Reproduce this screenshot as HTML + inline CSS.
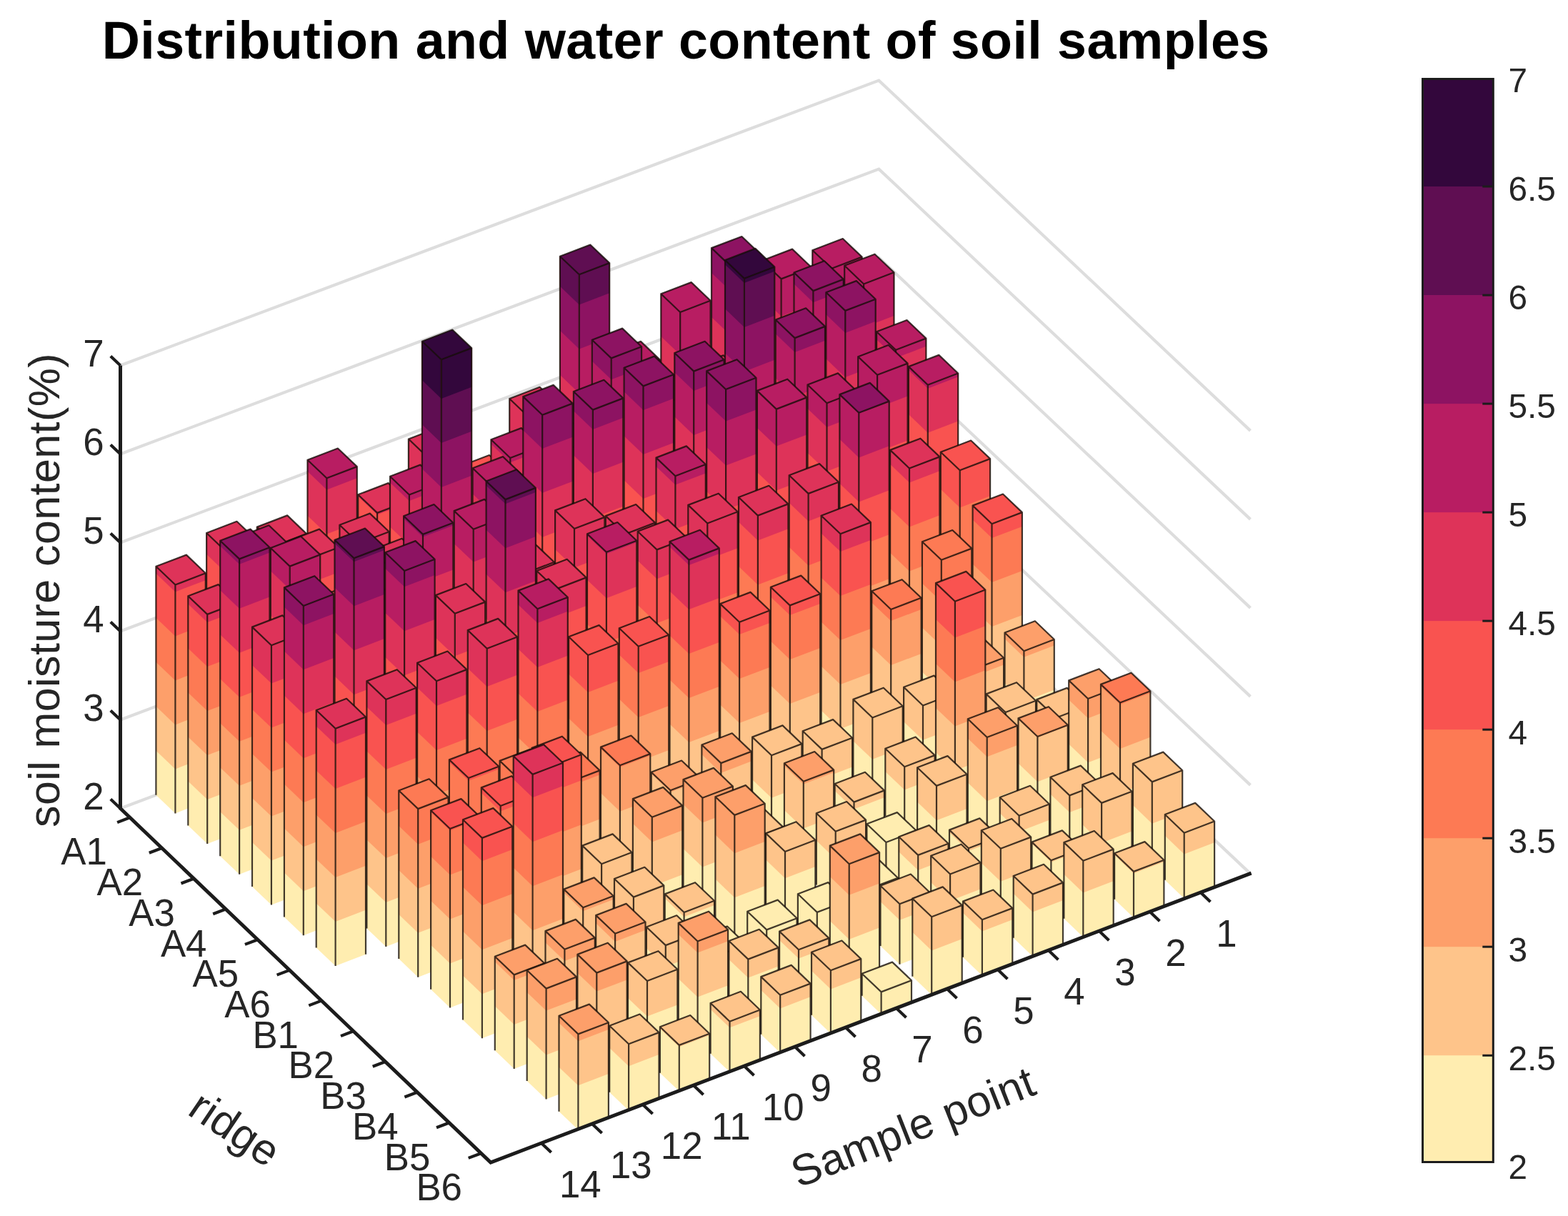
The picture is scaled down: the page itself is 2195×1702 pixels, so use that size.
<!DOCTYPE html>
<html lang="en"><head><meta charset="utf-8"><title>Distribution and water content of soil samples</title>
<style>html,body{margin:0;padding:0;background:#fff}body{width:2195px;height:1702px;overflow:hidden}svg{display:block}text{font-family:"Liberation Sans",sans-serif;fill:#262626}.t{font-size:52.8px}.c{font-size:47.8px}.l{font-size:60.9px;letter-spacing:0.45px}.b{stroke:rgba(20,12,8,0.8);stroke-width:2.2;stroke-linejoin:round;stroke-linecap:butt;fill:none}.g{stroke:#dddddd;stroke-width:4.2;fill:none;stroke-linejoin:miter}.a{stroke:#1c1c1c;stroke-width:5;fill:none;stroke-linecap:butt;stroke-linejoin:miter}.k{stroke:#1c1c1c;stroke-width:4.2;fill:none}</style></head><body>
<svg width="2195" height="1702" viewBox="0 0 2195 1702">
<rect width="2195" height="1702" fill="#fff"/>
<g class="g">
<polyline points="168.5,1131.5 1230.3,732.6 1750.4,1222.9"/>
<polyline points="168.5,1007.5 1230.3,608.6 1750.4,1098.9"/>
<polyline points="168.5,883.5 1230.3,484.6 1750.4,974.9"/>
<polyline points="168.5,759.5 1230.3,360.6 1750.4,850.9"/>
<polyline points="168.5,635.5 1230.3,236.6 1750.4,726.9"/>
<polyline points="168.5,511.5 1230.3,112.6 1750.4,602.9"/>
</g>
<g>
<polygon points="1137.3,761.9 1164.3,787.5 1164.3,375.8 1137.3,350.2" fill="#FFEDB0"/><polygon points="1137.3,699.9 1164.3,725.5 1164.3,375.8 1137.3,350.2" fill="#FEC48A"/><polygon points="1137.3,637.9 1164.3,663.5 1164.3,375.8 1137.3,350.2" fill="#FD9F6A"/><polygon points="1137.3,575.9 1164.3,601.5 1164.3,375.8 1137.3,350.2" fill="#FD7A54"/><polygon points="1137.3,513.9 1164.3,539.5 1164.3,375.8 1137.3,350.2" fill="#F95350"/><polygon points="1137.3,451.9 1164.3,477.5 1164.3,375.8 1137.3,350.2" fill="#DE3359"/><polygon points="1137.3,389.9 1164.3,415.5 1164.3,375.8 1137.3,350.2" fill="#B81D62"/><polygon points="1164.3,787.5 1206.7,771.3 1206.7,359.6 1164.3,375.8" fill="#FFEDB0"/><polygon points="1164.3,725.5 1206.7,709.3 1206.7,359.6 1164.3,375.8" fill="#FEC48A"/><polygon points="1164.3,663.5 1206.7,647.3 1206.7,359.6 1164.3,375.8" fill="#FD9F6A"/><polygon points="1164.3,601.5 1206.7,585.3 1206.7,359.6 1164.3,375.8" fill="#FD7A54"/><polygon points="1164.3,539.5 1206.7,523.3 1206.7,359.6 1164.3,375.8" fill="#F95350"/><polygon points="1164.3,477.5 1206.7,461.3 1206.7,359.6 1164.3,375.8" fill="#DE3359"/><polygon points="1164.3,415.5 1206.7,399.3 1206.7,359.6 1164.3,375.8" fill="#B81D62"/><polygon points="1137.3,350.2 1164.3,375.8 1206.7,359.6 1179.8,334.0" fill="#B81D62"/><path class="b" d="M1137.3,350.2 L1164.3,375.8 L1206.7,359.6 L1179.8,334.0 Z M1137.3,350.2 L1137.3,761.9 M1164.3,375.8 L1164.3,787.5 M1206.7,359.6 L1206.7,771.3"/>
<polygon points="1066.7,788.9 1093.6,814.5 1093.6,390.4 1066.7,364.8" fill="#FFEDB0"/><polygon points="1066.7,726.9 1093.6,752.5 1093.6,390.4 1066.7,364.8" fill="#FEC48A"/><polygon points="1066.7,664.9 1093.6,690.5 1093.6,390.4 1066.7,364.8" fill="#FD9F6A"/><polygon points="1066.7,602.9 1093.6,628.5 1093.6,390.4 1066.7,364.8" fill="#FD7A54"/><polygon points="1066.7,540.9 1093.6,566.5 1093.6,390.4 1066.7,364.8" fill="#F95350"/><polygon points="1066.7,478.9 1093.6,504.5 1093.6,390.4 1066.7,364.8" fill="#DE3359"/><polygon points="1066.7,416.9 1093.6,442.5 1093.6,390.4 1066.7,364.8" fill="#B81D62"/><polygon points="1093.6,814.5 1136.0,798.3 1136.0,374.2 1093.6,390.4" fill="#FFEDB0"/><polygon points="1093.6,752.5 1136.0,736.3 1136.0,374.2 1093.6,390.4" fill="#FEC48A"/><polygon points="1093.6,690.5 1136.0,674.3 1136.0,374.2 1093.6,390.4" fill="#FD9F6A"/><polygon points="1093.6,628.5 1136.0,612.3 1136.0,374.2 1093.6,390.4" fill="#FD7A54"/><polygon points="1093.6,566.5 1136.0,550.3 1136.0,374.2 1093.6,390.4" fill="#F95350"/><polygon points="1093.6,504.5 1136.0,488.3 1136.0,374.2 1093.6,390.4" fill="#DE3359"/><polygon points="1093.6,442.5 1136.0,426.3 1136.0,374.2 1093.6,390.4" fill="#B81D62"/><polygon points="1066.7,364.8 1093.6,390.4 1136.0,374.2 1109.1,348.6" fill="#B81D62"/><path class="b" d="M1066.7,364.8 L1093.6,390.4 L1136.0,374.2 L1109.1,348.6 Z M1066.7,364.8 L1066.7,788.9 M1093.6,390.4 L1093.6,814.5 M1136.0,374.2 L1136.0,798.3"/>
<polygon points="996.0,815.9 1022.9,841.5 1022.9,372.8 996.0,347.1" fill="#FFEDB0"/><polygon points="996.0,753.9 1022.9,779.5 1022.9,372.8 996.0,347.1" fill="#FEC48A"/><polygon points="996.0,691.9 1022.9,717.5 1022.9,372.8 996.0,347.1" fill="#FD9F6A"/><polygon points="996.0,629.9 1022.9,655.5 1022.9,372.8 996.0,347.1" fill="#FD7A54"/><polygon points="996.0,567.9 1022.9,593.5 1022.9,372.8 996.0,347.1" fill="#F95350"/><polygon points="996.0,505.9 1022.9,531.5 1022.9,372.8 996.0,347.1" fill="#DE3359"/><polygon points="996.0,443.9 1022.9,469.5 1022.9,372.8 996.0,347.1" fill="#B81D62"/><polygon points="996.0,381.9 1022.9,407.5 1022.9,372.8 996.0,347.1" fill="#8D1362"/><polygon points="1022.9,841.5 1065.3,825.3 1065.3,356.6 1022.9,372.8" fill="#FFEDB0"/><polygon points="1022.9,779.5 1065.3,763.3 1065.3,356.6 1022.9,372.8" fill="#FEC48A"/><polygon points="1022.9,717.5 1065.3,701.3 1065.3,356.6 1022.9,372.8" fill="#FD9F6A"/><polygon points="1022.9,655.5 1065.3,639.3 1065.3,356.6 1022.9,372.8" fill="#FD7A54"/><polygon points="1022.9,593.5 1065.3,577.3 1065.3,356.6 1022.9,372.8" fill="#F95350"/><polygon points="1022.9,531.5 1065.3,515.3 1065.3,356.6 1022.9,372.8" fill="#DE3359"/><polygon points="1022.9,469.5 1065.3,453.3 1065.3,356.6 1022.9,372.8" fill="#B81D62"/><polygon points="1022.9,407.5 1065.3,391.3 1065.3,356.6 1022.9,372.8" fill="#8D1362"/><polygon points="996.0,347.1 1022.9,372.8 1065.3,356.6 1038.4,331.0" fill="#8D1362"/><path class="b" d="M996.0,347.1 L1022.9,372.8 L1065.3,356.6 L1038.4,331.0 Z M996.0,347.1 L996.0,815.9 M1022.9,372.8 L1022.9,841.5 M1065.3,356.6 L1065.3,825.3"/>
<polygon points="925.3,842.9 952.2,868.5 952.2,437.0 925.3,411.3" fill="#FFEDB0"/><polygon points="925.3,780.9 952.2,806.5 952.2,437.0 925.3,411.3" fill="#FEC48A"/><polygon points="925.3,718.9 952.2,744.5 952.2,437.0 925.3,411.3" fill="#FD9F6A"/><polygon points="925.3,656.9 952.2,682.5 952.2,437.0 925.3,411.3" fill="#FD7A54"/><polygon points="925.3,594.9 952.2,620.5 952.2,437.0 925.3,411.3" fill="#F95350"/><polygon points="925.3,532.9 952.2,558.5 952.2,437.0 925.3,411.3" fill="#DE3359"/><polygon points="925.3,470.9 952.2,496.5 952.2,437.0 925.3,411.3" fill="#B81D62"/><polygon points="952.2,868.5 994.6,852.3 994.6,420.8 952.2,437.0" fill="#FFEDB0"/><polygon points="952.2,806.5 994.6,790.3 994.6,420.8 952.2,437.0" fill="#FEC48A"/><polygon points="952.2,744.5 994.6,728.3 994.6,420.8 952.2,437.0" fill="#FD9F6A"/><polygon points="952.2,682.5 994.6,666.3 994.6,420.8 952.2,437.0" fill="#FD7A54"/><polygon points="952.2,620.5 994.6,604.3 994.6,420.8 952.2,437.0" fill="#F95350"/><polygon points="952.2,558.5 994.6,542.3 994.6,420.8 952.2,437.0" fill="#DE3359"/><polygon points="952.2,496.5 994.6,480.3 994.6,420.8 952.2,437.0" fill="#B81D62"/><polygon points="925.3,411.3 952.2,437.0 994.6,420.8 967.7,395.1" fill="#B81D62"/><path class="b" d="M925.3,411.3 L952.2,437.0 L994.6,420.8 L967.7,395.1 Z M925.3,411.3 L925.3,842.9 M952.2,437.0 L952.2,868.5 M994.6,420.8 L994.6,852.3"/>
<polygon points="854.6,869.8 881.5,895.5 881.5,519.8 854.6,494.1" fill="#FFEDB0"/><polygon points="854.6,807.8 881.5,833.5 881.5,519.8 854.6,494.1" fill="#FEC48A"/><polygon points="854.6,745.8 881.5,771.5 881.5,519.8 854.6,494.1" fill="#FD9F6A"/><polygon points="854.6,683.8 881.5,709.5 881.5,519.8 854.6,494.1" fill="#FD7A54"/><polygon points="854.6,621.8 881.5,647.5 881.5,519.8 854.6,494.1" fill="#F95350"/><polygon points="854.6,559.8 881.5,585.5 881.5,519.8 854.6,494.1" fill="#DE3359"/><polygon points="854.6,497.8 881.5,523.5 881.5,519.8 854.6,494.1" fill="#B81D62"/><polygon points="881.5,895.5 923.9,879.3 923.9,503.6 881.5,519.8" fill="#FFEDB0"/><polygon points="881.5,833.5 923.9,817.3 923.9,503.6 881.5,519.8" fill="#FEC48A"/><polygon points="881.5,771.5 923.9,755.3 923.9,503.6 881.5,519.8" fill="#FD9F6A"/><polygon points="881.5,709.5 923.9,693.3 923.9,503.6 881.5,519.8" fill="#FD7A54"/><polygon points="881.5,647.5 923.9,631.3 923.9,503.6 881.5,519.8" fill="#F95350"/><polygon points="881.5,585.5 923.9,569.3 923.9,503.6 881.5,519.8" fill="#DE3359"/><polygon points="881.5,523.5 923.9,507.3 923.9,503.6 881.5,519.8" fill="#B81D62"/><polygon points="854.6,494.1 881.5,519.8 923.9,503.6 897.0,477.9" fill="#B81D62"/><path class="b" d="M854.6,494.1 L881.5,519.8 L923.9,503.6 L897.0,477.9 Z M854.6,494.1 L854.6,869.8 M881.5,519.8 L881.5,895.5 M923.9,503.6 L923.9,879.3"/>
<polygon points="783.9,896.8 810.8,922.5 810.8,384.3 783.9,358.7" fill="#FFEDB0"/><polygon points="783.9,834.8 810.8,860.5 810.8,384.3 783.9,358.7" fill="#FEC48A"/><polygon points="783.9,772.8 810.8,798.5 810.8,384.3 783.9,358.7" fill="#FD9F6A"/><polygon points="783.9,710.8 810.8,736.5 810.8,384.3 783.9,358.7" fill="#FD7A54"/><polygon points="783.9,648.8 810.8,674.5 810.8,384.3 783.9,358.7" fill="#F95350"/><polygon points="783.9,586.8 810.8,612.5 810.8,384.3 783.9,358.7" fill="#DE3359"/><polygon points="783.9,524.8 810.8,550.5 810.8,384.3 783.9,358.7" fill="#B81D62"/><polygon points="783.9,462.8 810.8,488.5 810.8,384.3 783.9,358.7" fill="#8D1362"/><polygon points="783.9,400.8 810.8,426.5 810.8,384.3 783.9,358.7" fill="#5F0E52"/><polygon points="810.8,922.5 853.2,906.3 853.2,368.1 810.8,384.3" fill="#FFEDB0"/><polygon points="810.8,860.5 853.2,844.3 853.2,368.1 810.8,384.3" fill="#FEC48A"/><polygon points="810.8,798.5 853.2,782.3 853.2,368.1 810.8,384.3" fill="#FD9F6A"/><polygon points="810.8,736.5 853.2,720.3 853.2,368.1 810.8,384.3" fill="#FD7A54"/><polygon points="810.8,674.5 853.2,658.3 853.2,368.1 810.8,384.3" fill="#F95350"/><polygon points="810.8,612.5 853.2,596.3 853.2,368.1 810.8,384.3" fill="#DE3359"/><polygon points="810.8,550.5 853.2,534.3 853.2,368.1 810.8,384.3" fill="#B81D62"/><polygon points="810.8,488.5 853.2,472.3 853.2,368.1 810.8,384.3" fill="#8D1362"/><polygon points="810.8,426.5 853.2,410.3 853.2,368.1 810.8,384.3" fill="#5F0E52"/><polygon points="783.9,358.7 810.8,384.3 853.2,368.1 826.3,342.5" fill="#5F0E52"/><path class="b" d="M783.9,358.7 L810.8,384.3 L853.2,368.1 L826.3,342.5 Z M783.9,358.7 L783.9,896.8 M810.8,384.3 L810.8,922.5 M853.2,368.1 L853.2,906.3"/>
<polygon points="713.2,923.8 740.1,949.5 740.1,583.7 713.2,558.0" fill="#FFEDB0"/><polygon points="713.2,861.8 740.1,887.5 740.1,583.7 713.2,558.0" fill="#FEC48A"/><polygon points="713.2,799.8 740.1,825.5 740.1,583.7 713.2,558.0" fill="#FD9F6A"/><polygon points="713.2,737.8 740.1,763.5 740.1,583.7 713.2,558.0" fill="#FD7A54"/><polygon points="713.2,675.8 740.1,701.5 740.1,583.7 713.2,558.0" fill="#F95350"/><polygon points="713.2,613.8 740.1,639.5 740.1,583.7 713.2,558.0" fill="#DE3359"/><polygon points="740.1,949.5 782.6,933.3 782.6,567.5 740.1,583.7" fill="#FFEDB0"/><polygon points="740.1,887.5 782.6,871.3 782.6,567.5 740.1,583.7" fill="#FEC48A"/><polygon points="740.1,825.5 782.6,809.3 782.6,567.5 740.1,583.7" fill="#FD9F6A"/><polygon points="740.1,763.5 782.6,747.3 782.6,567.5 740.1,583.7" fill="#FD7A54"/><polygon points="740.1,701.5 782.6,685.3 782.6,567.5 740.1,583.7" fill="#F95350"/><polygon points="740.1,639.5 782.6,623.3 782.6,567.5 740.1,583.7" fill="#DE3359"/><polygon points="713.2,558.0 740.1,583.7 782.6,567.5 755.6,541.8" fill="#DE3359"/><path class="b" d="M713.2,558.0 L740.1,583.7 L782.6,567.5 L755.6,541.8 Z M713.2,558.0 L713.2,923.8 M740.1,583.7 L740.1,949.5 M782.6,567.5 L782.6,933.3"/>
<polygon points="642.6,950.8 669.5,976.4 669.5,678.8 642.6,653.2" fill="#FFEDB0"/><polygon points="642.6,888.8 669.5,914.4 669.5,678.8 642.6,653.2" fill="#FEC48A"/><polygon points="642.6,826.8 669.5,852.4 669.5,678.8 642.6,653.2" fill="#FD9F6A"/><polygon points="642.6,764.8 669.5,790.4 669.5,678.8 642.6,653.2" fill="#FD7A54"/><polygon points="642.6,702.8 669.5,728.4 669.5,678.8 642.6,653.2" fill="#F95350"/><polygon points="669.5,976.4 711.9,960.3 711.9,662.7 669.5,678.8" fill="#FFEDB0"/><polygon points="669.5,914.4 711.9,898.3 711.9,662.7 669.5,678.8" fill="#FEC48A"/><polygon points="669.5,852.4 711.9,836.3 711.9,662.7 669.5,678.8" fill="#FD9F6A"/><polygon points="669.5,790.4 711.9,774.3 711.9,662.7 669.5,678.8" fill="#FD7A54"/><polygon points="669.5,728.4 711.9,712.3 711.9,662.7 669.5,678.8" fill="#F95350"/><polygon points="642.6,653.2 669.5,678.8 711.9,662.7 685.0,637.0" fill="#F95350"/><path class="b" d="M642.6,653.2 L669.5,678.8 L711.9,662.7 L685.0,637.0 Z M642.6,653.2 L642.6,950.8 M669.5,678.8 L669.5,976.4 M711.9,662.7 L711.9,960.3"/>
<polygon points="571.9,977.8 598.8,1003.4 598.8,640.1 571.9,614.5" fill="#FFEDB0"/><polygon points="571.9,915.8 598.8,941.4 598.8,640.1 571.9,614.5" fill="#FEC48A"/><polygon points="571.9,853.8 598.8,879.4 598.8,640.1 571.9,614.5" fill="#FD9F6A"/><polygon points="571.9,791.8 598.8,817.4 598.8,640.1 571.9,614.5" fill="#FD7A54"/><polygon points="571.9,729.8 598.8,755.4 598.8,640.1 571.9,614.5" fill="#F95350"/><polygon points="571.9,667.8 598.8,693.4 598.8,640.1 571.9,614.5" fill="#DE3359"/><polygon points="598.8,1003.4 641.2,987.2 641.2,623.9 598.8,640.1" fill="#FFEDB0"/><polygon points="598.8,941.4 641.2,925.2 641.2,623.9 598.8,640.1" fill="#FEC48A"/><polygon points="598.8,879.4 641.2,863.2 641.2,623.9 598.8,640.1" fill="#FD9F6A"/><polygon points="598.8,817.4 641.2,801.2 641.2,623.9 598.8,640.1" fill="#FD7A54"/><polygon points="598.8,755.4 641.2,739.2 641.2,623.9 598.8,640.1" fill="#F95350"/><polygon points="598.8,693.4 641.2,677.2 641.2,623.9 598.8,640.1" fill="#DE3359"/><polygon points="571.9,614.5 598.8,640.1 641.2,623.9 614.3,598.3" fill="#DE3359"/><path class="b" d="M571.9,614.5 L598.8,640.1 L641.2,623.9 L614.3,598.3 Z M571.9,614.5 L571.9,977.8 M598.8,640.1 L598.8,1003.4 M641.2,623.9 L641.2,987.2"/>
<polygon points="501.2,1004.8 528.1,1030.4 528.1,717.9 501.2,692.3" fill="#FFEDB0"/><polygon points="501.2,942.8 528.1,968.4 528.1,717.9 501.2,692.3" fill="#FEC48A"/><polygon points="501.2,880.8 528.1,906.4 528.1,717.9 501.2,692.3" fill="#FD9F6A"/><polygon points="501.2,818.8 528.1,844.4 528.1,717.9 501.2,692.3" fill="#FD7A54"/><polygon points="501.2,756.8 528.1,782.4 528.1,717.9 501.2,692.3" fill="#F95350"/><polygon points="501.2,694.8 528.1,720.4 528.1,717.9 501.2,692.3" fill="#DE3359"/><polygon points="528.1,1030.4 570.5,1014.2 570.5,701.8 528.1,717.9" fill="#FFEDB0"/><polygon points="528.1,968.4 570.5,952.2 570.5,701.8 528.1,717.9" fill="#FEC48A"/><polygon points="528.1,906.4 570.5,890.2 570.5,701.8 528.1,717.9" fill="#FD9F6A"/><polygon points="528.1,844.4 570.5,828.2 570.5,701.8 528.1,717.9" fill="#FD7A54"/><polygon points="528.1,782.4 570.5,766.2 570.5,701.8 528.1,717.9" fill="#F95350"/><polygon points="528.1,720.4 570.5,704.2 570.5,701.8 528.1,717.9" fill="#DE3359"/><polygon points="501.2,692.3 528.1,717.9 570.5,701.8 543.6,676.1" fill="#DE3359"/><path class="b" d="M501.2,692.3 L528.1,717.9 L570.5,701.8 L543.6,676.1 Z M501.2,692.3 L501.2,1004.8 M528.1,717.9 L528.1,1030.4 M570.5,701.8 L570.5,1014.2"/>
<polygon points="430.5,1031.8 457.4,1057.4 457.4,669.3 430.5,643.7" fill="#FFEDB0"/><polygon points="430.5,969.8 457.4,995.4 457.4,669.3 430.5,643.7" fill="#FEC48A"/><polygon points="430.5,907.8 457.4,933.4 457.4,669.3 430.5,643.7" fill="#FD9F6A"/><polygon points="430.5,845.8 457.4,871.4 457.4,669.3 430.5,643.7" fill="#FD7A54"/><polygon points="430.5,783.8 457.4,809.4 457.4,669.3 430.5,643.7" fill="#F95350"/><polygon points="430.5,721.8 457.4,747.4 457.4,669.3 430.5,643.7" fill="#DE3359"/><polygon points="430.5,659.8 457.4,685.4 457.4,669.3 430.5,643.7" fill="#B81D62"/><polygon points="457.4,1057.4 499.8,1041.2 499.8,653.1 457.4,669.3" fill="#FFEDB0"/><polygon points="457.4,995.4 499.8,979.2 499.8,653.1 457.4,669.3" fill="#FEC48A"/><polygon points="457.4,933.4 499.8,917.2 499.8,653.1 457.4,669.3" fill="#FD9F6A"/><polygon points="457.4,871.4 499.8,855.2 499.8,653.1 457.4,669.3" fill="#FD7A54"/><polygon points="457.4,809.4 499.8,793.2 499.8,653.1 457.4,669.3" fill="#F95350"/><polygon points="457.4,747.4 499.8,731.2 499.8,653.1 457.4,669.3" fill="#DE3359"/><polygon points="457.4,685.4 499.8,669.2 499.8,653.1 457.4,669.3" fill="#B81D62"/><polygon points="430.5,643.7 457.4,669.3 499.8,653.1 472.9,627.5" fill="#B81D62"/><path class="b" d="M430.5,643.7 L457.4,669.3 L499.8,653.1 L472.9,627.5 Z M430.5,643.7 L430.5,1031.8 M457.4,669.3 L457.4,1057.4 M499.8,653.1 L499.8,1041.2"/>
<polygon points="359.8,1058.8 386.7,1084.4 386.7,763.2 359.8,737.6" fill="#FFEDB0"/><polygon points="359.8,996.8 386.7,1022.4 386.7,763.2 359.8,737.6" fill="#FEC48A"/><polygon points="359.8,934.8 386.7,960.4 386.7,763.2 359.8,737.6" fill="#FD9F6A"/><polygon points="359.8,872.8 386.7,898.4 386.7,763.2 359.8,737.6" fill="#FD7A54"/><polygon points="359.8,810.8 386.7,836.4 386.7,763.2 359.8,737.6" fill="#F95350"/><polygon points="359.8,748.8 386.7,774.4 386.7,763.2 359.8,737.6" fill="#DE3359"/><polygon points="386.7,1084.4 429.1,1068.2 429.1,747.1 386.7,763.2" fill="#FFEDB0"/><polygon points="386.7,1022.4 429.1,1006.2 429.1,747.1 386.7,763.2" fill="#FEC48A"/><polygon points="386.7,960.4 429.1,944.2 429.1,747.1 386.7,763.2" fill="#FD9F6A"/><polygon points="386.7,898.4 429.1,882.2 429.1,747.1 386.7,763.2" fill="#FD7A54"/><polygon points="386.7,836.4 429.1,820.2 429.1,747.1 386.7,763.2" fill="#F95350"/><polygon points="386.7,774.4 429.1,758.2 429.1,747.1 386.7,763.2" fill="#DE3359"/><polygon points="359.8,737.6 386.7,763.2 429.1,747.1 402.2,721.4" fill="#DE3359"/><path class="b" d="M359.8,737.6 L386.7,763.2 L429.1,747.1 L402.2,721.4 Z M359.8,737.6 L359.8,1058.8 M386.7,763.2 L386.7,1084.4 M429.1,747.1 L429.1,1068.2"/>
<polygon points="289.1,1085.8 316.0,1111.4 316.0,771.6 289.1,746.0" fill="#FFEDB0"/><polygon points="289.1,1023.8 316.0,1049.4 316.0,771.6 289.1,746.0" fill="#FEC48A"/><polygon points="289.1,961.8 316.0,987.4 316.0,771.6 289.1,746.0" fill="#FD9F6A"/><polygon points="289.1,899.8 316.0,925.4 316.0,771.6 289.1,746.0" fill="#FD7A54"/><polygon points="289.1,837.8 316.0,863.4 316.0,771.6 289.1,746.0" fill="#F95350"/><polygon points="289.1,775.8 316.0,801.4 316.0,771.6 289.1,746.0" fill="#DE3359"/><polygon points="316.0,1111.4 358.5,1095.2 358.5,755.4 316.0,771.6" fill="#FFEDB0"/><polygon points="316.0,1049.4 358.5,1033.2 358.5,755.4 316.0,771.6" fill="#FEC48A"/><polygon points="316.0,987.4 358.5,971.2 358.5,755.4 316.0,771.6" fill="#FD9F6A"/><polygon points="316.0,925.4 358.5,909.2 358.5,755.4 316.0,771.6" fill="#FD7A54"/><polygon points="316.0,863.4 358.5,847.2 358.5,755.4 316.0,771.6" fill="#F95350"/><polygon points="316.0,801.4 358.5,785.2 358.5,755.4 316.0,771.6" fill="#DE3359"/><polygon points="289.1,746.0 316.0,771.6 358.5,755.4 331.5,729.8" fill="#DE3359"/><path class="b" d="M289.1,746.0 L316.0,771.6 L358.5,755.4 L331.5,729.8 Z M289.1,746.0 L289.1,1085.8 M316.0,771.6 L316.0,1111.4 M358.5,755.4 L358.5,1095.2"/>
<polygon points="218.4,1112.8 245.4,1138.4 245.4,818.5 218.4,792.8" fill="#FFEDB0"/><polygon points="218.4,1050.8 245.4,1076.4 245.4,818.5 218.4,792.8" fill="#FEC48A"/><polygon points="218.4,988.8 245.4,1014.4 245.4,818.5 218.4,792.8" fill="#FD9F6A"/><polygon points="218.4,926.8 245.4,952.4 245.4,818.5 218.4,792.8" fill="#FD7A54"/><polygon points="218.4,864.8 245.4,890.4 245.4,818.5 218.4,792.8" fill="#F95350"/><polygon points="218.4,802.8 245.4,828.4 245.4,818.5 218.4,792.8" fill="#DE3359"/><polygon points="245.4,1138.4 287.8,1122.2 287.8,802.3 245.4,818.5" fill="#FFEDB0"/><polygon points="245.4,1076.4 287.8,1060.2 287.8,802.3 245.4,818.5" fill="#FEC48A"/><polygon points="245.4,1014.4 287.8,998.2 287.8,802.3 245.4,818.5" fill="#FD9F6A"/><polygon points="245.4,952.4 287.8,936.2 287.8,802.3 245.4,818.5" fill="#FD7A54"/><polygon points="245.4,890.4 287.8,874.2 287.8,802.3 245.4,818.5" fill="#F95350"/><polygon points="245.4,828.4 287.8,812.2 287.8,802.3 245.4,818.5" fill="#DE3359"/><polygon points="218.4,792.8 245.4,818.5 287.8,802.3 260.9,776.6" fill="#DE3359"/><path class="b" d="M218.4,792.8 L245.4,818.5 L287.8,802.3 L260.9,776.6 Z M218.4,792.8 L218.4,1112.8 M245.4,818.5 L245.4,1138.4 M287.8,802.3 L287.8,1122.2"/>
<polygon points="1182.2,804.6 1209.1,830.2 1209.1,397.5 1182.2,371.8" fill="#FFEDB0"/><polygon points="1182.2,742.6 1209.1,768.2 1209.1,397.5 1182.2,371.8" fill="#FEC48A"/><polygon points="1182.2,680.6 1209.1,706.2 1209.1,397.5 1182.2,371.8" fill="#FD9F6A"/><polygon points="1182.2,618.6 1209.1,644.2 1209.1,397.5 1182.2,371.8" fill="#FD7A54"/><polygon points="1182.2,556.6 1209.1,582.2 1209.1,397.5 1182.2,371.8" fill="#F95350"/><polygon points="1182.2,494.6 1209.1,520.2 1209.1,397.5 1182.2,371.8" fill="#DE3359"/><polygon points="1182.2,432.6 1209.1,458.2 1209.1,397.5 1182.2,371.8" fill="#B81D62"/><polygon points="1209.1,830.2 1251.5,814.0 1251.5,381.3 1209.1,397.5" fill="#FFEDB0"/><polygon points="1209.1,768.2 1251.5,752.0 1251.5,381.3 1209.1,397.5" fill="#FEC48A"/><polygon points="1209.1,706.2 1251.5,690.0 1251.5,381.3 1209.1,397.5" fill="#FD9F6A"/><polygon points="1209.1,644.2 1251.5,628.0 1251.5,381.3 1209.1,397.5" fill="#FD7A54"/><polygon points="1209.1,582.2 1251.5,566.0 1251.5,381.3 1209.1,397.5" fill="#F95350"/><polygon points="1209.1,520.2 1251.5,504.0 1251.5,381.3 1209.1,397.5" fill="#DE3359"/><polygon points="1209.1,458.2 1251.5,442.0 1251.5,381.3 1209.1,397.5" fill="#B81D62"/><polygon points="1182.2,371.8 1209.1,397.5 1251.5,381.3 1224.6,355.7" fill="#B81D62"/><path class="b" d="M1182.2,371.8 L1209.1,397.5 L1251.5,381.3 L1224.6,355.7 Z M1182.2,371.8 L1182.2,804.6 M1209.1,397.5 L1209.1,830.2 M1251.5,381.3 L1251.5,814.0"/>
<polygon points="1111.5,831.6 1138.4,857.2 1138.4,407.1 1111.5,381.5" fill="#FFEDB0"/><polygon points="1111.5,769.6 1138.4,795.2 1138.4,407.1 1111.5,381.5" fill="#FEC48A"/><polygon points="1111.5,707.6 1138.4,733.2 1138.4,407.1 1111.5,381.5" fill="#FD9F6A"/><polygon points="1111.5,645.6 1138.4,671.2 1138.4,407.1 1111.5,381.5" fill="#FD7A54"/><polygon points="1111.5,583.6 1138.4,609.2 1138.4,407.1 1111.5,381.5" fill="#F95350"/><polygon points="1111.5,521.6 1138.4,547.2 1138.4,407.1 1111.5,381.5" fill="#DE3359"/><polygon points="1111.5,459.6 1138.4,485.2 1138.4,407.1 1111.5,381.5" fill="#B81D62"/><polygon points="1111.5,397.6 1138.4,423.2 1138.4,407.1 1111.5,381.5" fill="#8D1362"/><polygon points="1138.4,857.2 1180.8,841.0 1180.8,390.9 1138.4,407.1" fill="#FFEDB0"/><polygon points="1138.4,795.2 1180.8,779.0 1180.8,390.9 1138.4,407.1" fill="#FEC48A"/><polygon points="1138.4,733.2 1180.8,717.0 1180.8,390.9 1138.4,407.1" fill="#FD9F6A"/><polygon points="1138.4,671.2 1180.8,655.0 1180.8,390.9 1138.4,407.1" fill="#FD7A54"/><polygon points="1138.4,609.2 1180.8,593.0 1180.8,390.9 1138.4,407.1" fill="#F95350"/><polygon points="1138.4,547.2 1180.8,531.0 1180.8,390.9 1138.4,407.1" fill="#DE3359"/><polygon points="1138.4,485.2 1180.8,469.0 1180.8,390.9 1138.4,407.1" fill="#B81D62"/><polygon points="1138.4,423.2 1180.8,407.0 1180.8,390.9 1138.4,407.1" fill="#8D1362"/><polygon points="1111.5,381.5 1138.4,407.1 1180.8,390.9 1153.9,365.3" fill="#8D1362"/><path class="b" d="M1111.5,381.5 L1138.4,407.1 L1180.8,390.9 L1153.9,365.3 Z M1111.5,381.5 L1111.5,831.6 M1138.4,407.1 L1138.4,857.2 M1180.8,390.9 L1180.8,841.0"/>
<polygon points="1040.8,858.6 1067.7,884.2 1067.7,512.2 1040.8,486.6" fill="#FFEDB0"/><polygon points="1040.8,796.6 1067.7,822.2 1067.7,512.2 1040.8,486.6" fill="#FEC48A"/><polygon points="1040.8,734.6 1067.7,760.2 1067.7,512.2 1040.8,486.6" fill="#FD9F6A"/><polygon points="1040.8,672.6 1067.7,698.2 1067.7,512.2 1040.8,486.6" fill="#FD7A54"/><polygon points="1040.8,610.6 1067.7,636.2 1067.7,512.2 1040.8,486.6" fill="#F95350"/><polygon points="1040.8,548.6 1067.7,574.2 1067.7,512.2 1040.8,486.6" fill="#DE3359"/><polygon points="1067.7,884.2 1110.2,868.0 1110.2,496.0 1067.7,512.2" fill="#FFEDB0"/><polygon points="1067.7,822.2 1110.2,806.0 1110.2,496.0 1067.7,512.2" fill="#FEC48A"/><polygon points="1067.7,760.2 1110.2,744.0 1110.2,496.0 1067.7,512.2" fill="#FD9F6A"/><polygon points="1067.7,698.2 1110.2,682.0 1110.2,496.0 1067.7,512.2" fill="#FD7A54"/><polygon points="1067.7,636.2 1110.2,620.0 1110.2,496.0 1067.7,512.2" fill="#F95350"/><polygon points="1067.7,574.2 1110.2,558.0 1110.2,496.0 1067.7,512.2" fill="#DE3359"/><polygon points="1040.8,486.6 1067.7,512.2 1110.2,496.0 1083.2,470.4" fill="#DE3359"/><path class="b" d="M1040.8,486.6 L1067.7,512.2 L1110.2,496.0 L1083.2,470.4 Z M1040.8,486.6 L1040.8,858.6 M1067.7,512.2 L1067.7,884.2 M1110.2,496.0 L1110.2,868.0"/>
<polygon points="970.1,885.6 997.1,911.2 997.1,539.2 970.1,513.6" fill="#FFEDB0"/><polygon points="970.1,823.6 997.1,849.2 997.1,539.2 970.1,513.6" fill="#FEC48A"/><polygon points="970.1,761.6 997.1,787.2 997.1,539.2 970.1,513.6" fill="#FD9F6A"/><polygon points="970.1,699.6 997.1,725.2 997.1,539.2 970.1,513.6" fill="#FD7A54"/><polygon points="970.1,637.6 997.1,663.2 997.1,539.2 970.1,513.6" fill="#F95350"/><polygon points="970.1,575.6 997.1,601.2 997.1,539.2 970.1,513.6" fill="#DE3359"/><polygon points="997.1,911.2 1039.5,895.0 1039.5,523.0 997.1,539.2" fill="#FFEDB0"/><polygon points="997.1,849.2 1039.5,833.0 1039.5,523.0 997.1,539.2" fill="#FEC48A"/><polygon points="997.1,787.2 1039.5,771.0 1039.5,523.0 997.1,539.2" fill="#FD9F6A"/><polygon points="997.1,725.2 1039.5,709.0 1039.5,523.0 997.1,539.2" fill="#FD7A54"/><polygon points="997.1,663.2 1039.5,647.0 1039.5,523.0 997.1,539.2" fill="#F95350"/><polygon points="997.1,601.2 1039.5,585.0 1039.5,523.0 997.1,539.2" fill="#DE3359"/><polygon points="970.1,513.6 997.1,539.2 1039.5,523.0 1012.6,497.4" fill="#DE3359"/><path class="b" d="M970.1,513.6 L997.1,539.2 L1039.5,523.0 L1012.6,497.4 Z M970.1,513.6 L970.1,885.6 M997.1,539.2 L997.1,911.2 M1039.5,523.0 L1039.5,895.0"/>
<polygon points="899.5,912.6 926.4,938.2 926.4,566.2 899.5,540.6" fill="#FFEDB0"/><polygon points="899.5,850.6 926.4,876.2 926.4,566.2 899.5,540.6" fill="#FEC48A"/><polygon points="899.5,788.6 926.4,814.2 926.4,566.2 899.5,540.6" fill="#FD9F6A"/><polygon points="899.5,726.6 926.4,752.2 926.4,566.2 899.5,540.6" fill="#FD7A54"/><polygon points="899.5,664.6 926.4,690.2 926.4,566.2 899.5,540.6" fill="#F95350"/><polygon points="899.5,602.6 926.4,628.2 926.4,566.2 899.5,540.6" fill="#DE3359"/><polygon points="926.4,938.2 968.8,922.0 968.8,550.0 926.4,566.2" fill="#FFEDB0"/><polygon points="926.4,876.2 968.8,860.0 968.8,550.0 926.4,566.2" fill="#FEC48A"/><polygon points="926.4,814.2 968.8,798.0 968.8,550.0 926.4,566.2" fill="#FD9F6A"/><polygon points="926.4,752.2 968.8,736.0 968.8,550.0 926.4,566.2" fill="#FD7A54"/><polygon points="926.4,690.2 968.8,674.0 968.8,550.0 926.4,566.2" fill="#F95350"/><polygon points="926.4,628.2 968.8,612.0 968.8,550.0 926.4,566.2" fill="#DE3359"/><polygon points="899.5,540.6 926.4,566.2 968.8,550.0 941.9,524.4" fill="#DE3359"/><path class="b" d="M899.5,540.6 L926.4,566.2 L968.8,550.0 L941.9,524.4 Z M899.5,540.6 L899.5,912.6 M926.4,566.2 L926.4,938.2 M968.8,550.0 L968.8,922.0"/>
<polygon points="828.8,939.6 855.7,965.2 855.7,501.4 828.8,475.8" fill="#FFEDB0"/><polygon points="828.8,877.6 855.7,903.2 855.7,501.4 828.8,475.8" fill="#FEC48A"/><polygon points="828.8,815.6 855.7,841.2 855.7,501.4 828.8,475.8" fill="#FD9F6A"/><polygon points="828.8,753.6 855.7,779.2 855.7,501.4 828.8,475.8" fill="#FD7A54"/><polygon points="828.8,691.6 855.7,717.2 855.7,501.4 828.8,475.8" fill="#F95350"/><polygon points="828.8,629.6 855.7,655.2 855.7,501.4 828.8,475.8" fill="#DE3359"/><polygon points="828.8,567.6 855.7,593.2 855.7,501.4 828.8,475.8" fill="#B81D62"/><polygon points="828.8,505.6 855.7,531.2 855.7,501.4 828.8,475.8" fill="#8D1362"/><polygon points="855.7,965.2 898.1,949.0 898.1,485.2 855.7,501.4" fill="#FFEDB0"/><polygon points="855.7,903.2 898.1,887.0 898.1,485.2 855.7,501.4" fill="#FEC48A"/><polygon points="855.7,841.2 898.1,825.0 898.1,485.2 855.7,501.4" fill="#FD9F6A"/><polygon points="855.7,779.2 898.1,763.0 898.1,485.2 855.7,501.4" fill="#FD7A54"/><polygon points="855.7,717.2 898.1,701.0 898.1,485.2 855.7,501.4" fill="#F95350"/><polygon points="855.7,655.2 898.1,639.0 898.1,485.2 855.7,501.4" fill="#DE3359"/><polygon points="855.7,593.2 898.1,577.0 898.1,485.2 855.7,501.4" fill="#B81D62"/><polygon points="855.7,531.2 898.1,515.0 898.1,485.2 855.7,501.4" fill="#8D1362"/><polygon points="828.8,475.8 855.7,501.4 898.1,485.2 871.2,459.6" fill="#8D1362"/><path class="b" d="M828.8,475.8 L855.7,501.4 L898.1,485.2 L871.2,459.6 Z M828.8,475.8 L828.8,939.6 M855.7,501.4 L855.7,965.2 M898.1,485.2 L898.1,949.0"/>
<polygon points="758.1,966.5 785.0,992.2 785.0,632.6 758.1,606.9" fill="#FFEDB0"/><polygon points="758.1,904.5 785.0,930.2 785.0,632.6 758.1,606.9" fill="#FEC48A"/><polygon points="758.1,842.5 785.0,868.2 785.0,632.6 758.1,606.9" fill="#FD9F6A"/><polygon points="758.1,780.5 785.0,806.2 785.0,632.6 758.1,606.9" fill="#FD7A54"/><polygon points="758.1,718.5 785.0,744.2 785.0,632.6 758.1,606.9" fill="#F95350"/><polygon points="758.1,656.5 785.0,682.2 785.0,632.6 758.1,606.9" fill="#DE3359"/><polygon points="785.0,992.2 827.4,976.0 827.4,616.4 785.0,632.6" fill="#FFEDB0"/><polygon points="785.0,930.2 827.4,914.0 827.4,616.4 785.0,632.6" fill="#FEC48A"/><polygon points="785.0,868.2 827.4,852.0 827.4,616.4 785.0,632.6" fill="#FD9F6A"/><polygon points="785.0,806.2 827.4,790.0 827.4,616.4 785.0,632.6" fill="#FD7A54"/><polygon points="785.0,744.2 827.4,728.0 827.4,616.4 785.0,632.6" fill="#F95350"/><polygon points="785.0,682.2 827.4,666.0 827.4,616.4 785.0,632.6" fill="#DE3359"/><polygon points="758.1,606.9 785.0,632.6 827.4,616.4 800.5,590.8" fill="#DE3359"/><path class="b" d="M758.1,606.9 L785.0,632.6 L827.4,616.4 L800.5,590.8 Z M758.1,606.9 L758.1,966.5 M785.0,632.6 L785.0,992.2 M827.4,616.4 L827.4,976.0"/>
<polygon points="687.4,993.5 714.3,1019.2 714.3,641.0 687.4,615.3" fill="#FFEDB0"/><polygon points="687.4,931.5 714.3,957.2 714.3,641.0 687.4,615.3" fill="#FEC48A"/><polygon points="687.4,869.5 714.3,895.2 714.3,641.0 687.4,615.3" fill="#FD9F6A"/><polygon points="687.4,807.5 714.3,833.2 714.3,641.0 687.4,615.3" fill="#FD7A54"/><polygon points="687.4,745.5 714.3,771.2 714.3,641.0 687.4,615.3" fill="#F95350"/><polygon points="687.4,683.5 714.3,709.2 714.3,641.0 687.4,615.3" fill="#DE3359"/><polygon points="687.4,621.5 714.3,647.2 714.3,641.0 687.4,615.3" fill="#B81D62"/><polygon points="714.3,1019.2 756.7,1003.0 756.7,624.8 714.3,641.0" fill="#FFEDB0"/><polygon points="714.3,957.2 756.7,941.0 756.7,624.8 714.3,641.0" fill="#FEC48A"/><polygon points="714.3,895.2 756.7,879.0 756.7,624.8 714.3,641.0" fill="#FD9F6A"/><polygon points="714.3,833.2 756.7,817.0 756.7,624.8 714.3,641.0" fill="#FD7A54"/><polygon points="714.3,771.2 756.7,755.0 756.7,624.8 714.3,641.0" fill="#F95350"/><polygon points="714.3,709.2 756.7,693.0 756.7,624.8 714.3,641.0" fill="#DE3359"/><polygon points="714.3,647.2 756.7,631.0 756.7,624.8 714.3,641.0" fill="#B81D62"/><polygon points="687.4,615.3 714.3,641.0 756.7,624.8 729.8,599.1" fill="#B81D62"/><path class="b" d="M687.4,615.3 L714.3,641.0 L756.7,624.8 L729.8,599.1 Z M687.4,615.3 L687.4,993.5 M714.3,641.0 L714.3,1019.2 M756.7,624.8 L756.7,1003.0"/>
<polygon points="616.7,1020.5 643.6,1046.2 643.6,699.0 616.7,673.3" fill="#FFEDB0"/><polygon points="616.7,958.5 643.6,984.2 643.6,699.0 616.7,673.3" fill="#FEC48A"/><polygon points="616.7,896.5 643.6,922.2 643.6,699.0 616.7,673.3" fill="#FD9F6A"/><polygon points="616.7,834.5 643.6,860.2 643.6,699.0 616.7,673.3" fill="#FD7A54"/><polygon points="616.7,772.5 643.6,798.2 643.6,699.0 616.7,673.3" fill="#F95350"/><polygon points="616.7,710.5 643.6,736.2 643.6,699.0 616.7,673.3" fill="#DE3359"/><polygon points="643.6,1046.2 686.0,1030.0 686.0,682.8 643.6,699.0" fill="#FFEDB0"/><polygon points="643.6,984.2 686.0,968.0 686.0,682.8 643.6,699.0" fill="#FEC48A"/><polygon points="643.6,922.2 686.0,906.0 686.0,682.8 643.6,699.0" fill="#FD9F6A"/><polygon points="643.6,860.2 686.0,844.0 686.0,682.8 643.6,699.0" fill="#FD7A54"/><polygon points="643.6,798.2 686.0,782.0 686.0,682.8 643.6,699.0" fill="#F95350"/><polygon points="643.6,736.2 686.0,720.0 686.0,682.8 643.6,699.0" fill="#DE3359"/><polygon points="616.7,673.3 643.6,699.0 686.0,682.8 659.1,657.1" fill="#DE3359"/><path class="b" d="M616.7,673.3 L643.6,699.0 L686.0,682.8 L659.1,657.1 Z M616.7,673.3 L616.7,1020.5 M643.6,699.0 L643.6,1046.2 M686.0,682.8 L686.0,1030.0"/>
<polygon points="546.0,1047.5 572.9,1073.1 572.9,692.5 546.0,666.8" fill="#FFEDB0"/><polygon points="546.0,985.5 572.9,1011.1 572.9,692.5 546.0,666.8" fill="#FEC48A"/><polygon points="546.0,923.5 572.9,949.1 572.9,692.5 546.0,666.8" fill="#FD9F6A"/><polygon points="546.0,861.5 572.9,887.1 572.9,692.5 546.0,666.8" fill="#FD7A54"/><polygon points="546.0,799.5 572.9,825.1 572.9,692.5 546.0,666.8" fill="#F95350"/><polygon points="546.0,737.5 572.9,763.1 572.9,692.5 546.0,666.8" fill="#DE3359"/><polygon points="546.0,675.5 572.9,701.1 572.9,692.5 546.0,666.8" fill="#B81D62"/><polygon points="572.9,1073.1 615.4,1057.0 615.4,676.3 572.9,692.5" fill="#FFEDB0"/><polygon points="572.9,1011.1 615.4,995.0 615.4,676.3 572.9,692.5" fill="#FEC48A"/><polygon points="572.9,949.1 615.4,933.0 615.4,676.3 572.9,692.5" fill="#FD9F6A"/><polygon points="572.9,887.1 615.4,871.0 615.4,676.3 572.9,692.5" fill="#FD7A54"/><polygon points="572.9,825.1 615.4,809.0 615.4,676.3 572.9,692.5" fill="#F95350"/><polygon points="572.9,763.1 615.4,747.0 615.4,676.3 572.9,692.5" fill="#DE3359"/><polygon points="572.9,701.1 615.4,685.0 615.4,676.3 572.9,692.5" fill="#B81D62"/><polygon points="546.0,666.8 572.9,692.5 615.4,676.3 588.4,650.6" fill="#B81D62"/><path class="b" d="M546.0,666.8 L572.9,692.5 L615.4,676.3 L588.4,650.6 Z M546.0,666.8 L546.0,1047.5 M572.9,692.5 L572.9,1073.1 M615.4,676.3 L615.4,1057.0"/>
<polygon points="475.4,1074.5 502.3,1100.1 502.3,760.4 475.4,734.7" fill="#FFEDB0"/><polygon points="475.4,1012.5 502.3,1038.1 502.3,760.4 475.4,734.7" fill="#FEC48A"/><polygon points="475.4,950.5 502.3,976.1 502.3,760.4 475.4,734.7" fill="#FD9F6A"/><polygon points="475.4,888.5 502.3,914.1 502.3,760.4 475.4,734.7" fill="#FD7A54"/><polygon points="475.4,826.5 502.3,852.1 502.3,760.4 475.4,734.7" fill="#F95350"/><polygon points="475.4,764.5 502.3,790.1 502.3,760.4 475.4,734.7" fill="#DE3359"/><polygon points="502.3,1100.1 544.7,1083.9 544.7,744.2 502.3,760.4" fill="#FFEDB0"/><polygon points="502.3,1038.1 544.7,1021.9 544.7,744.2 502.3,760.4" fill="#FEC48A"/><polygon points="502.3,976.1 544.7,959.9 544.7,744.2 502.3,760.4" fill="#FD9F6A"/><polygon points="502.3,914.1 544.7,897.9 544.7,744.2 502.3,760.4" fill="#FD7A54"/><polygon points="502.3,852.1 544.7,835.9 544.7,744.2 502.3,760.4" fill="#F95350"/><polygon points="502.3,790.1 544.7,773.9 544.7,744.2 502.3,760.4" fill="#DE3359"/><polygon points="475.4,734.7 502.3,760.4 544.7,744.2 517.8,718.6" fill="#DE3359"/><path class="b" d="M475.4,734.7 L502.3,760.4 L544.7,744.2 L517.8,718.6 Z M475.4,734.7 L475.4,1074.5 M502.3,760.4 L502.3,1100.1 M544.7,744.2 L544.7,1083.9"/>
<polygon points="404.7,1101.5 431.6,1127.1 431.6,782.4 404.7,756.8" fill="#FFEDB0"/><polygon points="404.7,1039.5 431.6,1065.1 431.6,782.4 404.7,756.8" fill="#FEC48A"/><polygon points="404.7,977.5 431.6,1003.1 431.6,782.4 404.7,756.8" fill="#FD9F6A"/><polygon points="404.7,915.5 431.6,941.1 431.6,782.4 404.7,756.8" fill="#FD7A54"/><polygon points="404.7,853.5 431.6,879.1 431.6,782.4 404.7,756.8" fill="#F95350"/><polygon points="404.7,791.5 431.6,817.1 431.6,782.4 404.7,756.8" fill="#DE3359"/><polygon points="431.6,1127.1 474.0,1110.9 474.0,766.2 431.6,782.4" fill="#FFEDB0"/><polygon points="431.6,1065.1 474.0,1048.9 474.0,766.2 431.6,782.4" fill="#FEC48A"/><polygon points="431.6,1003.1 474.0,986.9 474.0,766.2 431.6,782.4" fill="#FD9F6A"/><polygon points="431.6,941.1 474.0,924.9 474.0,766.2 431.6,782.4" fill="#FD7A54"/><polygon points="431.6,879.1 474.0,862.9 474.0,766.2 431.6,782.4" fill="#F95350"/><polygon points="431.6,817.1 474.0,800.9 474.0,766.2 431.6,782.4" fill="#DE3359"/><polygon points="404.7,756.8 431.6,782.4 474.0,766.2 447.1,740.6" fill="#DE3359"/><path class="b" d="M404.7,756.8 L431.6,782.4 L474.0,766.2 L447.1,740.6 Z M404.7,756.8 L404.7,1101.5 M431.6,782.4 L431.6,1127.1 M474.0,766.2 L474.0,1110.9"/>
<polygon points="334.0,1128.5 360.9,1154.1 360.9,777.2 334.0,751.5" fill="#FFEDB0"/><polygon points="334.0,1066.5 360.9,1092.1 360.9,777.2 334.0,751.5" fill="#FEC48A"/><polygon points="334.0,1004.5 360.9,1030.1 360.9,777.2 334.0,751.5" fill="#FD9F6A"/><polygon points="334.0,942.5 360.9,968.1 360.9,777.2 334.0,751.5" fill="#FD7A54"/><polygon points="334.0,880.5 360.9,906.1 360.9,777.2 334.0,751.5" fill="#F95350"/><polygon points="334.0,818.5 360.9,844.1 360.9,777.2 334.0,751.5" fill="#DE3359"/><polygon points="334.0,756.5 360.9,782.1 360.9,777.2 334.0,751.5" fill="#B81D62"/><polygon points="360.9,1154.1 403.3,1137.9 403.3,761.0 360.9,777.2" fill="#FFEDB0"/><polygon points="360.9,1092.1 403.3,1075.9 403.3,761.0 360.9,777.2" fill="#FEC48A"/><polygon points="360.9,1030.1 403.3,1013.9 403.3,761.0 360.9,777.2" fill="#FD9F6A"/><polygon points="360.9,968.1 403.3,951.9 403.3,761.0 360.9,777.2" fill="#FD7A54"/><polygon points="360.9,906.1 403.3,889.9 403.3,761.0 360.9,777.2" fill="#F95350"/><polygon points="360.9,844.1 403.3,827.9 403.3,761.0 360.9,777.2" fill="#DE3359"/><polygon points="360.9,782.1 403.3,765.9 403.3,761.0 360.9,777.2" fill="#B81D62"/><polygon points="334.0,751.5 360.9,777.2 403.3,761.0 376.4,735.3" fill="#B81D62"/><path class="b" d="M334.0,751.5 L360.9,777.2 L403.3,761.0 L376.4,735.3 Z M334.0,751.5 L334.0,1128.5 M360.9,777.2 L360.9,1154.1 M403.3,761.0 L403.3,1137.9"/>
<polygon points="263.3,1155.5 290.2,1181.1 290.2,859.9 263.3,834.3" fill="#FFEDB0"/><polygon points="263.3,1093.5 290.2,1119.1 290.2,859.9 263.3,834.3" fill="#FEC48A"/><polygon points="263.3,1031.5 290.2,1057.1 290.2,859.9 263.3,834.3" fill="#FD9F6A"/><polygon points="263.3,969.5 290.2,995.1 290.2,859.9 263.3,834.3" fill="#FD7A54"/><polygon points="263.3,907.5 290.2,933.1 290.2,859.9 263.3,834.3" fill="#F95350"/><polygon points="263.3,845.5 290.2,871.1 290.2,859.9 263.3,834.3" fill="#DE3359"/><polygon points="290.2,1181.1 332.6,1164.9 332.6,843.8 290.2,859.9" fill="#FFEDB0"/><polygon points="290.2,1119.1 332.6,1102.9 332.6,843.8 290.2,859.9" fill="#FEC48A"/><polygon points="290.2,1057.1 332.6,1040.9 332.6,843.8 290.2,859.9" fill="#FD9F6A"/><polygon points="290.2,995.1 332.6,978.9 332.6,843.8 290.2,859.9" fill="#FD7A54"/><polygon points="290.2,933.1 332.6,916.9 332.6,843.8 290.2,859.9" fill="#F95350"/><polygon points="290.2,871.1 332.6,854.9 332.6,843.8 290.2,859.9" fill="#DE3359"/><polygon points="263.3,834.3 290.2,859.9 332.6,843.8 305.7,818.1" fill="#DE3359"/><path class="b" d="M263.3,834.3 L290.2,859.9 L332.6,843.8 L305.7,818.1 Z M263.3,834.3 L263.3,1155.5 M290.2,859.9 L290.2,1181.1 M332.6,843.8 L332.6,1164.9"/>
<polygon points="1227.1,847.3 1254.0,873.0 1254.0,489.8 1227.1,464.2" fill="#FFEDB0"/><polygon points="1227.1,785.3 1254.0,811.0 1254.0,489.8 1227.1,464.2" fill="#FEC48A"/><polygon points="1227.1,723.3 1254.0,749.0 1254.0,489.8 1227.1,464.2" fill="#FD9F6A"/><polygon points="1227.1,661.3 1254.0,687.0 1254.0,489.8 1227.1,464.2" fill="#FD7A54"/><polygon points="1227.1,599.3 1254.0,625.0 1254.0,489.8 1227.1,464.2" fill="#F95350"/><polygon points="1227.1,537.3 1254.0,563.0 1254.0,489.8 1227.1,464.2" fill="#DE3359"/><polygon points="1227.1,475.3 1254.0,501.0 1254.0,489.8 1227.1,464.2" fill="#B81D62"/><polygon points="1254.0,873.0 1296.4,856.8 1296.4,473.6 1254.0,489.8" fill="#FFEDB0"/><polygon points="1254.0,811.0 1296.4,794.8 1296.4,473.6 1254.0,489.8" fill="#FEC48A"/><polygon points="1254.0,749.0 1296.4,732.8 1296.4,473.6 1254.0,489.8" fill="#FD9F6A"/><polygon points="1254.0,687.0 1296.4,670.8 1296.4,473.6 1254.0,489.8" fill="#FD7A54"/><polygon points="1254.0,625.0 1296.4,608.8 1296.4,473.6 1254.0,489.8" fill="#F95350"/><polygon points="1254.0,563.0 1296.4,546.8 1296.4,473.6 1254.0,489.8" fill="#DE3359"/><polygon points="1254.0,501.0 1296.4,484.8 1296.4,473.6 1254.0,489.8" fill="#B81D62"/><polygon points="1227.1,464.2 1254.0,489.8 1296.4,473.6 1269.5,448.0" fill="#B81D62"/><path class="b" d="M1227.1,464.2 L1254.0,489.8 L1296.4,473.6 L1269.5,448.0 Z M1227.1,464.2 L1227.1,847.3 M1254.0,489.8 L1254.0,873.0 M1296.4,473.6 L1296.4,856.8"/>
<polygon points="1156.4,874.3 1183.3,899.9 1183.3,434.9 1156.4,409.3" fill="#FFEDB0"/><polygon points="1156.4,812.3 1183.3,837.9 1183.3,434.9 1156.4,409.3" fill="#FEC48A"/><polygon points="1156.4,750.3 1183.3,775.9 1183.3,434.9 1156.4,409.3" fill="#FD9F6A"/><polygon points="1156.4,688.3 1183.3,713.9 1183.3,434.9 1156.4,409.3" fill="#FD7A54"/><polygon points="1156.4,626.3 1183.3,651.9 1183.3,434.9 1156.4,409.3" fill="#F95350"/><polygon points="1156.4,564.3 1183.3,589.9 1183.3,434.9 1156.4,409.3" fill="#DE3359"/><polygon points="1156.4,502.3 1183.3,527.9 1183.3,434.9 1156.4,409.3" fill="#B81D62"/><polygon points="1156.4,440.3 1183.3,465.9 1183.3,434.9 1156.4,409.3" fill="#8D1362"/><polygon points="1183.3,899.9 1225.7,883.8 1225.7,418.8 1183.3,434.9" fill="#FFEDB0"/><polygon points="1183.3,837.9 1225.7,821.8 1225.7,418.8 1183.3,434.9" fill="#FEC48A"/><polygon points="1183.3,775.9 1225.7,759.8 1225.7,418.8 1183.3,434.9" fill="#FD9F6A"/><polygon points="1183.3,713.9 1225.7,697.8 1225.7,418.8 1183.3,434.9" fill="#FD7A54"/><polygon points="1183.3,651.9 1225.7,635.8 1225.7,418.8 1183.3,434.9" fill="#F95350"/><polygon points="1183.3,589.9 1225.7,573.8 1225.7,418.8 1183.3,434.9" fill="#DE3359"/><polygon points="1183.3,527.9 1225.7,511.8 1225.7,418.8 1183.3,434.9" fill="#B81D62"/><polygon points="1183.3,465.9 1225.7,449.8 1225.7,418.8 1183.3,434.9" fill="#8D1362"/><polygon points="1156.4,409.3 1183.3,434.9 1225.7,418.8 1198.8,393.1" fill="#8D1362"/><path class="b" d="M1156.4,409.3 L1183.3,434.9 L1225.7,418.8 L1198.8,393.1 Z M1156.4,409.3 L1156.4,874.3 M1183.3,434.9 L1183.3,899.9 M1225.7,418.8 L1225.7,883.8"/>
<polygon points="1085.7,901.3 1112.6,926.9 1112.6,473.1 1085.7,447.5" fill="#FFEDB0"/><polygon points="1085.7,839.3 1112.6,864.9 1112.6,473.1 1085.7,447.5" fill="#FEC48A"/><polygon points="1085.7,777.3 1112.6,802.9 1112.6,473.1 1085.7,447.5" fill="#FD9F6A"/><polygon points="1085.7,715.3 1112.6,740.9 1112.6,473.1 1085.7,447.5" fill="#FD7A54"/><polygon points="1085.7,653.3 1112.6,678.9 1112.6,473.1 1085.7,447.5" fill="#F95350"/><polygon points="1085.7,591.3 1112.6,616.9 1112.6,473.1 1085.7,447.5" fill="#DE3359"/><polygon points="1085.7,529.3 1112.6,554.9 1112.6,473.1 1085.7,447.5" fill="#B81D62"/><polygon points="1085.7,467.3 1112.6,492.9 1112.6,473.1 1085.7,447.5" fill="#8D1362"/><polygon points="1112.6,926.9 1155.0,910.7 1155.0,456.9 1112.6,473.1" fill="#FFEDB0"/><polygon points="1112.6,864.9 1155.0,848.7 1155.0,456.9 1112.6,473.1" fill="#FEC48A"/><polygon points="1112.6,802.9 1155.0,786.7 1155.0,456.9 1112.6,473.1" fill="#FD9F6A"/><polygon points="1112.6,740.9 1155.0,724.7 1155.0,456.9 1112.6,473.1" fill="#FD7A54"/><polygon points="1112.6,678.9 1155.0,662.7 1155.0,456.9 1112.6,473.1" fill="#F95350"/><polygon points="1112.6,616.9 1155.0,600.7 1155.0,456.9 1112.6,473.1" fill="#DE3359"/><polygon points="1112.6,554.9 1155.0,538.7 1155.0,456.9 1112.6,473.1" fill="#B81D62"/><polygon points="1112.6,492.9 1155.0,476.7 1155.0,456.9 1112.6,473.1" fill="#8D1362"/><polygon points="1085.7,447.5 1112.6,473.1 1155.0,456.9 1128.1,431.3" fill="#8D1362"/><path class="b" d="M1085.7,447.5 L1112.6,473.1 L1155.0,456.9 L1128.1,431.3 Z M1085.7,447.5 L1085.7,901.3 M1112.6,473.1 L1112.6,926.9 M1155.0,456.9 L1155.0,910.7"/>
<polygon points="1015.0,928.3 1041.9,953.9 1041.9,389.7 1015.0,364.1" fill="#FFEDB0"/><polygon points="1015.0,866.3 1041.9,891.9 1041.9,389.7 1015.0,364.1" fill="#FEC48A"/><polygon points="1015.0,804.3 1041.9,829.9 1041.9,389.7 1015.0,364.1" fill="#FD9F6A"/><polygon points="1015.0,742.3 1041.9,767.9 1041.9,389.7 1015.0,364.1" fill="#FD7A54"/><polygon points="1015.0,680.3 1041.9,705.9 1041.9,389.7 1015.0,364.1" fill="#F95350"/><polygon points="1015.0,618.3 1041.9,643.9 1041.9,389.7 1015.0,364.1" fill="#DE3359"/><polygon points="1015.0,556.3 1041.9,581.9 1041.9,389.7 1015.0,364.1" fill="#B81D62"/><polygon points="1015.0,494.3 1041.9,519.9 1041.9,389.7 1015.0,364.1" fill="#8D1362"/><polygon points="1015.0,432.3 1041.9,457.9 1041.9,389.7 1015.0,364.1" fill="#5F0E52"/><polygon points="1015.0,370.3 1041.9,395.9 1041.9,389.7 1015.0,364.1" fill="#33073C"/><polygon points="1041.9,953.9 1084.3,937.7 1084.3,373.5 1041.9,389.7" fill="#FFEDB0"/><polygon points="1041.9,891.9 1084.3,875.7 1084.3,373.5 1041.9,389.7" fill="#FEC48A"/><polygon points="1041.9,829.9 1084.3,813.7 1084.3,373.5 1041.9,389.7" fill="#FD9F6A"/><polygon points="1041.9,767.9 1084.3,751.7 1084.3,373.5 1041.9,389.7" fill="#FD7A54"/><polygon points="1041.9,705.9 1084.3,689.7 1084.3,373.5 1041.9,389.7" fill="#F95350"/><polygon points="1041.9,643.9 1084.3,627.7 1084.3,373.5 1041.9,389.7" fill="#DE3359"/><polygon points="1041.9,581.9 1084.3,565.7 1084.3,373.5 1041.9,389.7" fill="#B81D62"/><polygon points="1041.9,519.9 1084.3,503.7 1084.3,373.5 1041.9,389.7" fill="#8D1362"/><polygon points="1041.9,457.9 1084.3,441.7 1084.3,373.5 1041.9,389.7" fill="#5F0E52"/><polygon points="1041.9,395.9 1084.3,379.7 1084.3,373.5 1041.9,389.7" fill="#33073C"/><polygon points="1015.0,364.1 1041.9,389.7 1084.3,373.5 1057.4,347.9" fill="#33073C"/><path class="b" d="M1015.0,364.1 L1041.9,389.7 L1084.3,373.5 L1057.4,347.9 Z M1015.0,364.1 L1015.0,928.3 M1041.9,389.7 L1041.9,953.9 M1084.3,373.5 L1084.3,937.7"/>
<polygon points="944.3,955.3 971.2,980.9 971.2,519.6 944.3,494.0" fill="#FFEDB0"/><polygon points="944.3,893.3 971.2,918.9 971.2,519.6 944.3,494.0" fill="#FEC48A"/><polygon points="944.3,831.3 971.2,856.9 971.2,519.6 944.3,494.0" fill="#FD9F6A"/><polygon points="944.3,769.3 971.2,794.9 971.2,519.6 944.3,494.0" fill="#FD7A54"/><polygon points="944.3,707.3 971.2,732.9 971.2,519.6 944.3,494.0" fill="#F95350"/><polygon points="944.3,645.3 971.2,670.9 971.2,519.6 944.3,494.0" fill="#DE3359"/><polygon points="944.3,583.3 971.2,608.9 971.2,519.6 944.3,494.0" fill="#B81D62"/><polygon points="944.3,521.3 971.2,546.9 971.2,519.6 944.3,494.0" fill="#8D1362"/><polygon points="971.2,980.9 1013.6,964.7 1013.6,503.4 971.2,519.6" fill="#FFEDB0"/><polygon points="971.2,918.9 1013.6,902.7 1013.6,503.4 971.2,519.6" fill="#FEC48A"/><polygon points="971.2,856.9 1013.6,840.7 1013.6,503.4 971.2,519.6" fill="#FD9F6A"/><polygon points="971.2,794.9 1013.6,778.7 1013.6,503.4 971.2,519.6" fill="#FD7A54"/><polygon points="971.2,732.9 1013.6,716.7 1013.6,503.4 971.2,519.6" fill="#F95350"/><polygon points="971.2,670.9 1013.6,654.7 1013.6,503.4 971.2,519.6" fill="#DE3359"/><polygon points="971.2,608.9 1013.6,592.7 1013.6,503.4 971.2,519.6" fill="#B81D62"/><polygon points="971.2,546.9 1013.6,530.7 1013.6,503.4 971.2,519.6" fill="#8D1362"/><polygon points="944.3,494.0 971.2,519.6 1013.6,503.4 986.7,477.8" fill="#8D1362"/><path class="b" d="M944.3,494.0 L971.2,519.6 L1013.6,503.4 L986.7,477.8 Z M944.3,494.0 L944.3,955.3 M971.2,519.6 L971.2,980.9 M1013.6,503.4 L1013.6,964.7"/>
<polygon points="873.6,982.3 900.5,1007.9 900.5,540.4 873.6,514.8" fill="#FFEDB0"/><polygon points="873.6,920.3 900.5,945.9 900.5,540.4 873.6,514.8" fill="#FEC48A"/><polygon points="873.6,858.3 900.5,883.9 900.5,540.4 873.6,514.8" fill="#FD9F6A"/><polygon points="873.6,796.3 900.5,821.9 900.5,540.4 873.6,514.8" fill="#FD7A54"/><polygon points="873.6,734.3 900.5,759.9 900.5,540.4 873.6,514.8" fill="#F95350"/><polygon points="873.6,672.3 900.5,697.9 900.5,540.4 873.6,514.8" fill="#DE3359"/><polygon points="873.6,610.3 900.5,635.9 900.5,540.4 873.6,514.8" fill="#B81D62"/><polygon points="873.6,548.3 900.5,573.9 900.5,540.4 873.6,514.8" fill="#8D1362"/><polygon points="900.5,1007.9 943.0,991.7 943.0,524.2 900.5,540.4" fill="#FFEDB0"/><polygon points="900.5,945.9 943.0,929.7 943.0,524.2 900.5,540.4" fill="#FEC48A"/><polygon points="900.5,883.9 943.0,867.7 943.0,524.2 900.5,540.4" fill="#FD9F6A"/><polygon points="900.5,821.9 943.0,805.7 943.0,524.2 900.5,540.4" fill="#FD7A54"/><polygon points="900.5,759.9 943.0,743.7 943.0,524.2 900.5,540.4" fill="#F95350"/><polygon points="900.5,697.9 943.0,681.7 943.0,524.2 900.5,540.4" fill="#DE3359"/><polygon points="900.5,635.9 943.0,619.7 943.0,524.2 900.5,540.4" fill="#B81D62"/><polygon points="900.5,573.9 943.0,557.7 943.0,524.2 900.5,540.4" fill="#8D1362"/><polygon points="873.6,514.8 900.5,540.4 943.0,524.2 916.0,498.6" fill="#8D1362"/><path class="b" d="M873.6,514.8 L900.5,540.4 L943.0,524.2 L916.0,498.6 Z M873.6,514.8 L873.6,982.3 M900.5,540.4 L900.5,1007.9 M943.0,524.2 L943.0,991.7"/>
<polygon points="802.9,1009.3 829.9,1034.9 829.9,573.6 802.9,548.0" fill="#FFEDB0"/><polygon points="802.9,947.3 829.9,972.9 829.9,573.6 802.9,548.0" fill="#FEC48A"/><polygon points="802.9,885.3 829.9,910.9 829.9,573.6 802.9,548.0" fill="#FD9F6A"/><polygon points="802.9,823.3 829.9,848.9 829.9,573.6 802.9,548.0" fill="#FD7A54"/><polygon points="802.9,761.3 829.9,786.9 829.9,573.6 802.9,548.0" fill="#F95350"/><polygon points="802.9,699.3 829.9,724.9 829.9,573.6 802.9,548.0" fill="#DE3359"/><polygon points="802.9,637.3 829.9,662.9 829.9,573.6 802.9,548.0" fill="#B81D62"/><polygon points="802.9,575.3 829.9,600.9 829.9,573.6 802.9,548.0" fill="#8D1362"/><polygon points="829.9,1034.9 872.3,1018.7 872.3,557.4 829.9,573.6" fill="#FFEDB0"/><polygon points="829.9,972.9 872.3,956.7 872.3,557.4 829.9,573.6" fill="#FEC48A"/><polygon points="829.9,910.9 872.3,894.7 872.3,557.4 829.9,573.6" fill="#FD9F6A"/><polygon points="829.9,848.9 872.3,832.7 872.3,557.4 829.9,573.6" fill="#FD7A54"/><polygon points="829.9,786.9 872.3,770.7 872.3,557.4 829.9,573.6" fill="#F95350"/><polygon points="829.9,724.9 872.3,708.7 872.3,557.4 829.9,573.6" fill="#DE3359"/><polygon points="829.9,662.9 872.3,646.7 872.3,557.4 829.9,573.6" fill="#B81D62"/><polygon points="829.9,600.9 872.3,584.7 872.3,557.4 829.9,573.6" fill="#8D1362"/><polygon points="802.9,548.0 829.9,573.6 872.3,557.4 845.4,531.8" fill="#8D1362"/><path class="b" d="M802.9,548.0 L829.9,573.6 L872.3,557.4 L845.4,531.8 Z M802.9,548.0 L802.9,1009.3 M829.9,573.6 L829.9,1034.9 M872.3,557.4 L872.3,1018.7"/>
<polygon points="732.3,1036.3 759.2,1061.9 759.2,580.8 732.3,555.1" fill="#FFEDB0"/><polygon points="732.3,974.3 759.2,999.9 759.2,580.8 732.3,555.1" fill="#FEC48A"/><polygon points="732.3,912.3 759.2,937.9 759.2,580.8 732.3,555.1" fill="#FD9F6A"/><polygon points="732.3,850.3 759.2,875.9 759.2,580.8 732.3,555.1" fill="#FD7A54"/><polygon points="732.3,788.3 759.2,813.9 759.2,580.8 732.3,555.1" fill="#F95350"/><polygon points="732.3,726.3 759.2,751.9 759.2,580.8 732.3,555.1" fill="#DE3359"/><polygon points="732.3,664.3 759.2,689.9 759.2,580.8 732.3,555.1" fill="#B81D62"/><polygon points="732.3,602.3 759.2,627.9 759.2,580.8 732.3,555.1" fill="#8D1362"/><polygon points="759.2,1061.9 801.6,1045.7 801.6,564.6 759.2,580.8" fill="#FFEDB0"/><polygon points="759.2,999.9 801.6,983.7 801.6,564.6 759.2,580.8" fill="#FEC48A"/><polygon points="759.2,937.9 801.6,921.7 801.6,564.6 759.2,580.8" fill="#FD9F6A"/><polygon points="759.2,875.9 801.6,859.7 801.6,564.6 759.2,580.8" fill="#FD7A54"/><polygon points="759.2,813.9 801.6,797.7 801.6,564.6 759.2,580.8" fill="#F95350"/><polygon points="759.2,751.9 801.6,735.7 801.6,564.6 759.2,580.8" fill="#DE3359"/><polygon points="759.2,689.9 801.6,673.7 801.6,564.6 759.2,580.8" fill="#B81D62"/><polygon points="759.2,627.9 801.6,611.7 801.6,564.6 759.2,580.8" fill="#8D1362"/><polygon points="732.3,555.1 759.2,580.8 801.6,564.6 774.7,538.9" fill="#8D1362"/><path class="b" d="M732.3,555.1 L759.2,580.8 L801.6,564.6 L774.7,538.9 Z M732.3,555.1 L732.3,1036.3 M759.2,580.8 L759.2,1061.9 M801.6,564.6 L801.6,1045.7"/>
<polygon points="661.6,1063.2 688.5,1088.9 688.5,680.9 661.6,655.3" fill="#FFEDB0"/><polygon points="661.6,1001.2 688.5,1026.9 688.5,680.9 661.6,655.3" fill="#FEC48A"/><polygon points="661.6,939.2 688.5,964.9 688.5,680.9 661.6,655.3" fill="#FD9F6A"/><polygon points="661.6,877.2 688.5,902.9 688.5,680.9 661.6,655.3" fill="#FD7A54"/><polygon points="661.6,815.2 688.5,840.9 688.5,680.9 661.6,655.3" fill="#F95350"/><polygon points="661.6,753.2 688.5,778.9 688.5,680.9 661.6,655.3" fill="#DE3359"/><polygon points="661.6,691.2 688.5,716.9 688.5,680.9 661.6,655.3" fill="#B81D62"/><polygon points="688.5,1088.9 730.9,1072.7 730.9,664.7 688.5,680.9" fill="#FFEDB0"/><polygon points="688.5,1026.9 730.9,1010.7 730.9,664.7 688.5,680.9" fill="#FEC48A"/><polygon points="688.5,964.9 730.9,948.7 730.9,664.7 688.5,680.9" fill="#FD9F6A"/><polygon points="688.5,902.9 730.9,886.7 730.9,664.7 688.5,680.9" fill="#FD7A54"/><polygon points="688.5,840.9 730.9,824.7 730.9,664.7 688.5,680.9" fill="#F95350"/><polygon points="688.5,778.9 730.9,762.7 730.9,664.7 688.5,680.9" fill="#DE3359"/><polygon points="688.5,716.9 730.9,700.7 730.9,664.7 688.5,680.9" fill="#B81D62"/><polygon points="661.6,655.3 688.5,680.9 730.9,664.7 704.0,639.1" fill="#B81D62"/><path class="b" d="M661.6,655.3 L688.5,680.9 L730.9,664.7 L704.0,639.1 Z M661.6,655.3 L661.6,1063.2 M688.5,680.9 L688.5,1088.9 M730.9,664.7 L730.9,1072.7"/>
<polygon points="590.9,1090.2 617.8,1115.9 617.8,503.3 590.9,477.7" fill="#FFEDB0"/><polygon points="590.9,1028.2 617.8,1053.9 617.8,503.3 590.9,477.7" fill="#FEC48A"/><polygon points="590.9,966.2 617.8,991.9 617.8,503.3 590.9,477.7" fill="#FD9F6A"/><polygon points="590.9,904.2 617.8,929.9 617.8,503.3 590.9,477.7" fill="#FD7A54"/><polygon points="590.9,842.2 617.8,867.9 617.8,503.3 590.9,477.7" fill="#F95350"/><polygon points="590.9,780.2 617.8,805.9 617.8,503.3 590.9,477.7" fill="#DE3359"/><polygon points="590.9,718.2 617.8,743.9 617.8,503.3 590.9,477.7" fill="#B81D62"/><polygon points="590.9,656.2 617.8,681.9 617.8,503.3 590.9,477.7" fill="#8D1362"/><polygon points="590.9,594.2 617.8,619.9 617.8,503.3 590.9,477.7" fill="#5F0E52"/><polygon points="590.9,532.2 617.8,557.9 617.8,503.3 590.9,477.7" fill="#33073C"/><polygon points="617.8,1115.9 660.2,1099.7 660.2,487.1 617.8,503.3" fill="#FFEDB0"/><polygon points="617.8,1053.9 660.2,1037.7 660.2,487.1 617.8,503.3" fill="#FEC48A"/><polygon points="617.8,991.9 660.2,975.7 660.2,487.1 617.8,503.3" fill="#FD9F6A"/><polygon points="617.8,929.9 660.2,913.7 660.2,487.1 617.8,503.3" fill="#FD7A54"/><polygon points="617.8,867.9 660.2,851.7 660.2,487.1 617.8,503.3" fill="#F95350"/><polygon points="617.8,805.9 660.2,789.7 660.2,487.1 617.8,503.3" fill="#DE3359"/><polygon points="617.8,743.9 660.2,727.7 660.2,487.1 617.8,503.3" fill="#B81D62"/><polygon points="617.8,681.9 660.2,665.7 660.2,487.1 617.8,503.3" fill="#8D1362"/><polygon points="617.8,619.9 660.2,603.7 660.2,487.1 617.8,503.3" fill="#5F0E52"/><polygon points="617.8,557.9 660.2,541.7 660.2,487.1 617.8,503.3" fill="#33073C"/><polygon points="590.9,477.7 617.8,503.3 660.2,487.1 633.3,461.5" fill="#33073C"/><path class="b" d="M590.9,477.7 L617.8,503.3 L660.2,487.1 L633.3,461.5 Z M590.9,477.7 L590.9,1090.2 M617.8,503.3 L617.8,1115.9 M660.2,487.1 L660.2,1099.7"/>
<polygon points="520.2,1117.2 547.1,1142.9 547.1,795.7 520.2,770.0" fill="#FFEDB0"/><polygon points="520.2,1055.2 547.1,1080.9 547.1,795.7 520.2,770.0" fill="#FEC48A"/><polygon points="520.2,993.2 547.1,1018.9 547.1,795.7 520.2,770.0" fill="#FD9F6A"/><polygon points="520.2,931.2 547.1,956.9 547.1,795.7 520.2,770.0" fill="#FD7A54"/><polygon points="520.2,869.2 547.1,894.9 547.1,795.7 520.2,770.0" fill="#F95350"/><polygon points="520.2,807.2 547.1,832.9 547.1,795.7 520.2,770.0" fill="#DE3359"/><polygon points="547.1,1142.9 589.5,1126.7 589.5,779.5 547.1,795.7" fill="#FFEDB0"/><polygon points="547.1,1080.9 589.5,1064.7 589.5,779.5 547.1,795.7" fill="#FEC48A"/><polygon points="547.1,1018.9 589.5,1002.7 589.5,779.5 547.1,795.7" fill="#FD9F6A"/><polygon points="547.1,956.9 589.5,940.7 589.5,779.5 547.1,795.7" fill="#FD7A54"/><polygon points="547.1,894.9 589.5,878.7 589.5,779.5 547.1,795.7" fill="#F95350"/><polygon points="547.1,832.9 589.5,816.7 589.5,779.5 547.1,795.7" fill="#DE3359"/><polygon points="520.2,770.0 547.1,795.7 589.5,779.5 562.6,753.8" fill="#DE3359"/><path class="b" d="M520.2,770.0 L547.1,795.7 L589.5,779.5 L562.6,753.8 Z M520.2,770.0 L520.2,1117.2 M547.1,795.7 L547.1,1142.9 M589.5,779.5 L589.5,1126.7"/>
<polygon points="449.5,1144.2 476.4,1169.8 476.4,859.8 449.5,834.2" fill="#FFEDB0"/><polygon points="449.5,1082.2 476.4,1107.8 476.4,859.8 449.5,834.2" fill="#FEC48A"/><polygon points="449.5,1020.2 476.4,1045.8 476.4,859.8 449.5,834.2" fill="#FD9F6A"/><polygon points="449.5,958.2 476.4,983.8 476.4,859.8 449.5,834.2" fill="#FD7A54"/><polygon points="449.5,896.2 476.4,921.8 476.4,859.8 449.5,834.2" fill="#F95350"/><polygon points="476.4,1169.8 518.8,1153.7 518.8,843.7 476.4,859.8" fill="#FFEDB0"/><polygon points="476.4,1107.8 518.8,1091.7 518.8,843.7 476.4,859.8" fill="#FEC48A"/><polygon points="476.4,1045.8 518.8,1029.7 518.8,843.7 476.4,859.8" fill="#FD9F6A"/><polygon points="476.4,983.8 518.8,967.7 518.8,843.7 476.4,859.8" fill="#FD7A54"/><polygon points="476.4,921.8 518.8,905.7 518.8,843.7 476.4,859.8" fill="#F95350"/><polygon points="449.5,834.2 476.4,859.8 518.8,843.7 491.9,818.0" fill="#F95350"/><path class="b" d="M449.5,834.2 L476.4,859.8 L518.8,843.7 L491.9,818.0 Z M449.5,834.2 L449.5,1144.2 M476.4,859.8 L476.4,1169.8 M518.8,843.7 L518.8,1153.7"/>
<polygon points="378.8,1171.2 405.7,1196.8 405.7,792.6 378.8,767.0" fill="#FFEDB0"/><polygon points="378.8,1109.2 405.7,1134.8 405.7,792.6 378.8,767.0" fill="#FEC48A"/><polygon points="378.8,1047.2 405.7,1072.8 405.7,792.6 378.8,767.0" fill="#FD9F6A"/><polygon points="378.8,985.2 405.7,1010.8 405.7,792.6 378.8,767.0" fill="#FD7A54"/><polygon points="378.8,923.2 405.7,948.8 405.7,792.6 378.8,767.0" fill="#F95350"/><polygon points="378.8,861.2 405.7,886.8 405.7,792.6 378.8,767.0" fill="#DE3359"/><polygon points="378.8,799.2 405.7,824.8 405.7,792.6 378.8,767.0" fill="#B81D62"/><polygon points="405.7,1196.8 448.2,1180.6 448.2,776.4 405.7,792.6" fill="#FFEDB0"/><polygon points="405.7,1134.8 448.2,1118.6 448.2,776.4 405.7,792.6" fill="#FEC48A"/><polygon points="405.7,1072.8 448.2,1056.6 448.2,776.4 405.7,792.6" fill="#FD9F6A"/><polygon points="405.7,1010.8 448.2,994.6 448.2,776.4 405.7,792.6" fill="#FD7A54"/><polygon points="405.7,948.8 448.2,932.6 448.2,776.4 405.7,792.6" fill="#F95350"/><polygon points="405.7,886.8 448.2,870.6 448.2,776.4 405.7,792.6" fill="#DE3359"/><polygon points="405.7,824.8 448.2,808.6 448.2,776.4 405.7,792.6" fill="#B81D62"/><polygon points="378.8,767.0 405.7,792.6 448.2,776.4 421.2,750.8" fill="#B81D62"/><path class="b" d="M378.8,767.0 L405.7,792.6 L448.2,776.4 L421.2,750.8 Z M378.8,767.0 L378.8,1171.2 M405.7,792.6 L405.7,1196.8 M448.2,776.4 L448.2,1180.6"/>
<polygon points="308.2,1198.2 335.1,1223.8 335.1,782.4 308.2,756.8" fill="#FFEDB0"/><polygon points="308.2,1136.2 335.1,1161.8 335.1,782.4 308.2,756.8" fill="#FEC48A"/><polygon points="308.2,1074.2 335.1,1099.8 335.1,782.4 308.2,756.8" fill="#FD9F6A"/><polygon points="308.2,1012.2 335.1,1037.8 335.1,782.4 308.2,756.8" fill="#FD7A54"/><polygon points="308.2,950.2 335.1,975.8 335.1,782.4 308.2,756.8" fill="#F95350"/><polygon points="308.2,888.2 335.1,913.8 335.1,782.4 308.2,756.8" fill="#DE3359"/><polygon points="308.2,826.2 335.1,851.8 335.1,782.4 308.2,756.8" fill="#B81D62"/><polygon points="308.2,764.2 335.1,789.8 335.1,782.4 308.2,756.8" fill="#8D1362"/><polygon points="335.1,1223.8 377.5,1207.6 377.5,766.2 335.1,782.4" fill="#FFEDB0"/><polygon points="335.1,1161.8 377.5,1145.6 377.5,766.2 335.1,782.4" fill="#FEC48A"/><polygon points="335.1,1099.8 377.5,1083.6 377.5,766.2 335.1,782.4" fill="#FD9F6A"/><polygon points="335.1,1037.8 377.5,1021.6 377.5,766.2 335.1,782.4" fill="#FD7A54"/><polygon points="335.1,975.8 377.5,959.6 377.5,766.2 335.1,782.4" fill="#F95350"/><polygon points="335.1,913.8 377.5,897.6 377.5,766.2 335.1,782.4" fill="#DE3359"/><polygon points="335.1,851.8 377.5,835.6 377.5,766.2 335.1,782.4" fill="#B81D62"/><polygon points="335.1,789.8 377.5,773.6 377.5,766.2 335.1,782.4" fill="#8D1362"/><polygon points="308.2,756.8 335.1,782.4 377.5,766.2 350.6,740.6" fill="#8D1362"/><path class="b" d="M308.2,756.8 L335.1,782.4 L377.5,766.2 L350.6,740.6 Z M308.2,756.8 L308.2,1198.2 M335.1,782.4 L335.1,1223.8 M377.5,766.2 L377.5,1207.6"/>
<polygon points="1271.9,890.0 1298.8,915.7 1298.8,538.7 1271.9,513.1" fill="#FFEDB0"/><polygon points="1271.9,828.0 1298.8,853.7 1298.8,538.7 1271.9,513.1" fill="#FEC48A"/><polygon points="1271.9,766.0 1298.8,791.7 1298.8,538.7 1271.9,513.1" fill="#FD9F6A"/><polygon points="1271.9,704.0 1298.8,729.7 1298.8,538.7 1271.9,513.1" fill="#FD7A54"/><polygon points="1271.9,642.0 1298.8,667.7 1298.8,538.7 1271.9,513.1" fill="#F95350"/><polygon points="1271.9,580.0 1298.8,605.7 1298.8,538.7 1271.9,513.1" fill="#DE3359"/><polygon points="1271.9,518.0 1298.8,543.7 1298.8,538.7 1271.9,513.1" fill="#B81D62"/><polygon points="1298.8,915.7 1341.2,899.5 1341.2,522.5 1298.8,538.7" fill="#FFEDB0"/><polygon points="1298.8,853.7 1341.2,837.5 1341.2,522.5 1298.8,538.7" fill="#FEC48A"/><polygon points="1298.8,791.7 1341.2,775.5 1341.2,522.5 1298.8,538.7" fill="#FD9F6A"/><polygon points="1298.8,729.7 1341.2,713.5 1341.2,522.5 1298.8,538.7" fill="#FD7A54"/><polygon points="1298.8,667.7 1341.2,651.5 1341.2,522.5 1298.8,538.7" fill="#F95350"/><polygon points="1298.8,605.7 1341.2,589.5 1341.2,522.5 1298.8,538.7" fill="#DE3359"/><polygon points="1298.8,543.7 1341.2,527.5 1341.2,522.5 1298.8,538.7" fill="#B81D62"/><polygon points="1271.9,513.1 1298.8,538.7 1341.2,522.5 1314.3,496.9" fill="#B81D62"/><path class="b" d="M1271.9,513.1 L1298.8,538.7 L1341.2,522.5 L1314.3,496.9 Z M1271.9,513.1 L1271.9,890.0 M1298.8,538.7 L1298.8,915.7 M1341.2,522.5 L1341.2,899.5"/>
<polygon points="1201.2,917.0 1228.1,942.7 1228.1,524.8 1201.2,499.2" fill="#FFEDB0"/><polygon points="1201.2,855.0 1228.1,880.7 1228.1,524.8 1201.2,499.2" fill="#FEC48A"/><polygon points="1201.2,793.0 1228.1,818.7 1228.1,524.8 1201.2,499.2" fill="#FD9F6A"/><polygon points="1201.2,731.0 1228.1,756.7 1228.1,524.8 1201.2,499.2" fill="#FD7A54"/><polygon points="1201.2,669.0 1228.1,694.7 1228.1,524.8 1201.2,499.2" fill="#F95350"/><polygon points="1201.2,607.0 1228.1,632.7 1228.1,524.8 1201.2,499.2" fill="#DE3359"/><polygon points="1201.2,545.0 1228.1,570.7 1228.1,524.8 1201.2,499.2" fill="#B81D62"/><polygon points="1228.1,942.7 1270.6,926.5 1270.6,508.6 1228.1,524.8" fill="#FFEDB0"/><polygon points="1228.1,880.7 1270.6,864.5 1270.6,508.6 1228.1,524.8" fill="#FEC48A"/><polygon points="1228.1,818.7 1270.6,802.5 1270.6,508.6 1228.1,524.8" fill="#FD9F6A"/><polygon points="1228.1,756.7 1270.6,740.5 1270.6,508.6 1228.1,524.8" fill="#FD7A54"/><polygon points="1228.1,694.7 1270.6,678.5 1270.6,508.6 1228.1,524.8" fill="#F95350"/><polygon points="1228.1,632.7 1270.6,616.5 1270.6,508.6 1228.1,524.8" fill="#DE3359"/><polygon points="1228.1,570.7 1270.6,554.5 1270.6,508.6 1228.1,524.8" fill="#B81D62"/><polygon points="1201.2,499.2 1228.1,524.8 1270.6,508.6 1243.6,483.0" fill="#B81D62"/><path class="b" d="M1201.2,499.2 L1228.1,524.8 L1270.6,508.6 L1243.6,483.0 Z M1201.2,499.2 L1201.2,917.0 M1228.1,524.8 L1228.1,942.7 M1270.6,508.6 L1270.6,926.5"/>
<polygon points="1130.5,944.0 1157.5,969.7 1157.5,564.2 1130.5,538.5" fill="#FFEDB0"/><polygon points="1130.5,882.0 1157.5,907.7 1157.5,564.2 1130.5,538.5" fill="#FEC48A"/><polygon points="1130.5,820.0 1157.5,845.7 1157.5,564.2 1130.5,538.5" fill="#FD9F6A"/><polygon points="1130.5,758.0 1157.5,783.7 1157.5,564.2 1130.5,538.5" fill="#FD7A54"/><polygon points="1130.5,696.0 1157.5,721.7 1157.5,564.2 1130.5,538.5" fill="#F95350"/><polygon points="1130.5,634.0 1157.5,659.7 1157.5,564.2 1130.5,538.5" fill="#DE3359"/><polygon points="1130.5,572.0 1157.5,597.7 1157.5,564.2 1130.5,538.5" fill="#B81D62"/><polygon points="1157.5,969.7 1199.9,953.5 1199.9,548.0 1157.5,564.2" fill="#FFEDB0"/><polygon points="1157.5,907.7 1199.9,891.5 1199.9,548.0 1157.5,564.2" fill="#FEC48A"/><polygon points="1157.5,845.7 1199.9,829.5 1199.9,548.0 1157.5,564.2" fill="#FD9F6A"/><polygon points="1157.5,783.7 1199.9,767.5 1199.9,548.0 1157.5,564.2" fill="#FD7A54"/><polygon points="1157.5,721.7 1199.9,705.5 1199.9,548.0 1157.5,564.2" fill="#F95350"/><polygon points="1157.5,659.7 1199.9,643.5 1199.9,548.0 1157.5,564.2" fill="#DE3359"/><polygon points="1157.5,597.7 1199.9,581.5 1199.9,548.0 1157.5,564.2" fill="#B81D62"/><polygon points="1130.5,538.5 1157.5,564.2 1199.9,548.0 1173.0,522.4" fill="#B81D62"/><path class="b" d="M1130.5,538.5 L1157.5,564.2 L1199.9,548.0 L1173.0,522.4 Z M1130.5,538.5 L1130.5,944.0 M1157.5,564.2 L1157.5,969.7 M1199.9,548.0 L1199.9,953.5"/>
<polygon points="1059.9,971.0 1086.8,996.6 1086.8,572.6 1059.9,546.9" fill="#FFEDB0"/><polygon points="1059.9,909.0 1086.8,934.6 1086.8,572.6 1059.9,546.9" fill="#FEC48A"/><polygon points="1059.9,847.0 1086.8,872.6 1086.8,572.6 1059.9,546.9" fill="#FD9F6A"/><polygon points="1059.9,785.0 1086.8,810.6 1086.8,572.6 1059.9,546.9" fill="#FD7A54"/><polygon points="1059.9,723.0 1086.8,748.6 1086.8,572.6 1059.9,546.9" fill="#F95350"/><polygon points="1059.9,661.0 1086.8,686.6 1086.8,572.6 1059.9,546.9" fill="#DE3359"/><polygon points="1059.9,599.0 1086.8,624.6 1086.8,572.6 1059.9,546.9" fill="#B81D62"/><polygon points="1086.8,996.6 1129.2,980.5 1129.2,556.4 1086.8,572.6" fill="#FFEDB0"/><polygon points="1086.8,934.6 1129.2,918.5 1129.2,556.4 1086.8,572.6" fill="#FEC48A"/><polygon points="1086.8,872.6 1129.2,856.5 1129.2,556.4 1086.8,572.6" fill="#FD9F6A"/><polygon points="1086.8,810.6 1129.2,794.5 1129.2,556.4 1086.8,572.6" fill="#FD7A54"/><polygon points="1086.8,748.6 1129.2,732.5 1129.2,556.4 1086.8,572.6" fill="#F95350"/><polygon points="1086.8,686.6 1129.2,670.5 1129.2,556.4 1086.8,572.6" fill="#DE3359"/><polygon points="1086.8,624.6 1129.2,608.5 1129.2,556.4 1086.8,572.6" fill="#B81D62"/><polygon points="1059.9,546.9 1086.8,572.6 1129.2,556.4 1102.3,530.7" fill="#B81D62"/><path class="b" d="M1059.9,546.9 L1086.8,572.6 L1129.2,556.4 L1102.3,530.7 Z M1059.9,546.9 L1059.9,971.0 M1086.8,572.6 L1086.8,996.6 M1129.2,556.4 L1129.2,980.5"/>
<polygon points="989.2,998.0 1016.1,1023.6 1016.1,545.0 989.2,519.4" fill="#FFEDB0"/><polygon points="989.2,936.0 1016.1,961.6 1016.1,545.0 989.2,519.4" fill="#FEC48A"/><polygon points="989.2,874.0 1016.1,899.6 1016.1,545.0 989.2,519.4" fill="#FD9F6A"/><polygon points="989.2,812.0 1016.1,837.6 1016.1,545.0 989.2,519.4" fill="#FD7A54"/><polygon points="989.2,750.0 1016.1,775.6 1016.1,545.0 989.2,519.4" fill="#F95350"/><polygon points="989.2,688.0 1016.1,713.6 1016.1,545.0 989.2,519.4" fill="#DE3359"/><polygon points="989.2,626.0 1016.1,651.6 1016.1,545.0 989.2,519.4" fill="#B81D62"/><polygon points="989.2,564.0 1016.1,589.6 1016.1,545.0 989.2,519.4" fill="#8D1362"/><polygon points="1016.1,1023.6 1058.5,1007.4 1058.5,528.8 1016.1,545.0" fill="#FFEDB0"/><polygon points="1016.1,961.6 1058.5,945.4 1058.5,528.8 1016.1,545.0" fill="#FEC48A"/><polygon points="1016.1,899.6 1058.5,883.4 1058.5,528.8 1016.1,545.0" fill="#FD9F6A"/><polygon points="1016.1,837.6 1058.5,821.4 1058.5,528.8 1016.1,545.0" fill="#FD7A54"/><polygon points="1016.1,775.6 1058.5,759.4 1058.5,528.8 1016.1,545.0" fill="#F95350"/><polygon points="1016.1,713.6 1058.5,697.4 1058.5,528.8 1016.1,545.0" fill="#DE3359"/><polygon points="1016.1,651.6 1058.5,635.4 1058.5,528.8 1016.1,545.0" fill="#B81D62"/><polygon points="1016.1,589.6 1058.5,573.4 1058.5,528.8 1016.1,545.0" fill="#8D1362"/><polygon points="989.2,519.4 1016.1,545.0 1058.5,528.8 1031.6,503.2" fill="#8D1362"/><path class="b" d="M989.2,519.4 L1016.1,545.0 L1058.5,528.8 L1031.6,503.2 Z M989.2,519.4 L989.2,998.0 M1016.1,545.0 L1016.1,1023.6 M1058.5,528.8 L1058.5,1007.4"/>
<polygon points="918.5,1025.0 945.4,1050.6 945.4,666.2 918.5,640.6" fill="#FFEDB0"/><polygon points="918.5,963.0 945.4,988.6 945.4,666.2 918.5,640.6" fill="#FEC48A"/><polygon points="918.5,901.0 945.4,926.6 945.4,666.2 918.5,640.6" fill="#FD9F6A"/><polygon points="918.5,839.0 945.4,864.6 945.4,666.2 918.5,640.6" fill="#FD7A54"/><polygon points="918.5,777.0 945.4,802.6 945.4,666.2 918.5,640.6" fill="#F95350"/><polygon points="918.5,715.0 945.4,740.6 945.4,666.2 918.5,640.6" fill="#DE3359"/><polygon points="918.5,653.0 945.4,678.6 945.4,666.2 918.5,640.6" fill="#B81D62"/><polygon points="945.4,1050.6 987.8,1034.4 987.8,650.0 945.4,666.2" fill="#FFEDB0"/><polygon points="945.4,988.6 987.8,972.4 987.8,650.0 945.4,666.2" fill="#FEC48A"/><polygon points="945.4,926.6 987.8,910.4 987.8,650.0 945.4,666.2" fill="#FD9F6A"/><polygon points="945.4,864.6 987.8,848.4 987.8,650.0 945.4,666.2" fill="#FD7A54"/><polygon points="945.4,802.6 987.8,786.4 987.8,650.0 945.4,666.2" fill="#F95350"/><polygon points="945.4,740.6 987.8,724.4 987.8,650.0 945.4,666.2" fill="#DE3359"/><polygon points="945.4,678.6 987.8,662.4 987.8,650.0 945.4,666.2" fill="#B81D62"/><polygon points="918.5,640.6 945.4,666.2 987.8,650.0 960.9,624.4" fill="#B81D62"/><path class="b" d="M918.5,640.6 L945.4,666.2 L987.8,650.0 L960.9,624.4 Z M918.5,640.6 L918.5,1025.0 M945.4,666.2 L945.4,1050.6 M987.8,650.0 L987.8,1034.4"/>
<polygon points="847.8,1052.0 874.7,1077.6 874.7,747.8 847.8,722.1" fill="#FFEDB0"/><polygon points="847.8,990.0 874.7,1015.6 874.7,747.8 847.8,722.1" fill="#FEC48A"/><polygon points="847.8,928.0 874.7,953.6 874.7,747.8 847.8,722.1" fill="#FD9F6A"/><polygon points="847.8,866.0 874.7,891.6 874.7,747.8 847.8,722.1" fill="#FD7A54"/><polygon points="847.8,804.0 874.7,829.6 874.7,747.8 847.8,722.1" fill="#F95350"/><polygon points="847.8,742.0 874.7,767.6 874.7,747.8 847.8,722.1" fill="#DE3359"/><polygon points="874.7,1077.6 917.1,1061.4 917.1,731.6 874.7,747.8" fill="#FFEDB0"/><polygon points="874.7,1015.6 917.1,999.4 917.1,731.6 874.7,747.8" fill="#FEC48A"/><polygon points="874.7,953.6 917.1,937.4 917.1,731.6 874.7,747.8" fill="#FD9F6A"/><polygon points="874.7,891.6 917.1,875.4 917.1,731.6 874.7,747.8" fill="#FD7A54"/><polygon points="874.7,829.6 917.1,813.4 917.1,731.6 874.7,747.8" fill="#F95350"/><polygon points="874.7,767.6 917.1,751.4 917.1,731.6 874.7,747.8" fill="#DE3359"/><polygon points="847.8,722.1 874.7,747.8 917.1,731.6 890.2,706.0" fill="#DE3359"/><path class="b" d="M847.8,722.1 L874.7,747.8 L917.1,731.6 L890.2,706.0 Z M847.8,722.1 L847.8,1052.0 M874.7,747.8 L874.7,1077.6 M917.1,731.6 L917.1,1061.4"/>
<polygon points="777.1,1079.0 804.0,1104.6 804.0,740.0 777.1,714.4" fill="#FFEDB0"/><polygon points="777.1,1017.0 804.0,1042.6 804.0,740.0 777.1,714.4" fill="#FEC48A"/><polygon points="777.1,955.0 804.0,980.6 804.0,740.0 777.1,714.4" fill="#FD9F6A"/><polygon points="777.1,893.0 804.0,918.6 804.0,740.0 777.1,714.4" fill="#FD7A54"/><polygon points="777.1,831.0 804.0,856.6 804.0,740.0 777.1,714.4" fill="#F95350"/><polygon points="777.1,769.0 804.0,794.6 804.0,740.0 777.1,714.4" fill="#DE3359"/><polygon points="804.0,1104.6 846.4,1088.4 846.4,723.9 804.0,740.0" fill="#FFEDB0"/><polygon points="804.0,1042.6 846.4,1026.4 846.4,723.9 804.0,740.0" fill="#FEC48A"/><polygon points="804.0,980.6 846.4,964.4 846.4,723.9 804.0,740.0" fill="#FD9F6A"/><polygon points="804.0,918.6 846.4,902.4 846.4,723.9 804.0,740.0" fill="#FD7A54"/><polygon points="804.0,856.6 846.4,840.4 846.4,723.9 804.0,740.0" fill="#F95350"/><polygon points="804.0,794.6 846.4,778.4 846.4,723.9 804.0,740.0" fill="#DE3359"/><polygon points="777.1,714.4 804.0,740.0 846.4,723.9 819.5,698.2" fill="#DE3359"/><path class="b" d="M777.1,714.4 L804.0,740.0 L846.4,723.9 L819.5,698.2 Z M777.1,714.4 L777.1,1079.0 M804.0,740.0 L804.0,1104.6 M846.4,723.9 L846.4,1088.4"/>
<polygon points="706.4,1106.0 733.3,1131.6 733.3,803.0 706.4,777.4" fill="#FFEDB0"/><polygon points="706.4,1044.0 733.3,1069.6 733.3,803.0 706.4,777.4" fill="#FEC48A"/><polygon points="706.4,982.0 733.3,1007.6 733.3,803.0 706.4,777.4" fill="#FD9F6A"/><polygon points="706.4,920.0 733.3,945.6 733.3,803.0 706.4,777.4" fill="#FD7A54"/><polygon points="706.4,858.0 733.3,883.6 733.3,803.0 706.4,777.4" fill="#F95350"/><polygon points="706.4,796.0 733.3,821.6 733.3,803.0 706.4,777.4" fill="#DE3359"/><polygon points="733.3,1131.6 775.8,1115.4 775.8,786.8 733.3,803.0" fill="#FFEDB0"/><polygon points="733.3,1069.6 775.8,1053.4 775.8,786.8 733.3,803.0" fill="#FEC48A"/><polygon points="733.3,1007.6 775.8,991.4 775.8,786.8 733.3,803.0" fill="#FD9F6A"/><polygon points="733.3,945.6 775.8,929.4 775.8,786.8 733.3,803.0" fill="#FD7A54"/><polygon points="733.3,883.6 775.8,867.4 775.8,786.8 733.3,803.0" fill="#F95350"/><polygon points="733.3,821.6 775.8,805.4 775.8,786.8 733.3,803.0" fill="#DE3359"/><polygon points="706.4,777.4 733.3,803.0 775.8,786.8 748.8,761.2" fill="#DE3359"/><path class="b" d="M706.4,777.4 L733.3,803.0 L775.8,786.8 L748.8,761.2 Z M706.4,777.4 L706.4,1106.0 M733.3,803.0 L733.3,1131.6 M775.8,786.8 L775.8,1115.4"/>
<polygon points="635.7,1133.0 662.7,1158.6 662.7,740.7 635.7,715.1" fill="#FFEDB0"/><polygon points="635.7,1071.0 662.7,1096.6 662.7,740.7 635.7,715.1" fill="#FEC48A"/><polygon points="635.7,1009.0 662.7,1034.6 662.7,740.7 635.7,715.1" fill="#FD9F6A"/><polygon points="635.7,947.0 662.7,972.6 662.7,740.7 635.7,715.1" fill="#FD7A54"/><polygon points="635.7,885.0 662.7,910.6 662.7,740.7 635.7,715.1" fill="#F95350"/><polygon points="635.7,823.0 662.7,848.6 662.7,740.7 635.7,715.1" fill="#DE3359"/><polygon points="635.7,761.0 662.7,786.6 662.7,740.7 635.7,715.1" fill="#B81D62"/><polygon points="662.7,1158.6 705.1,1142.4 705.1,724.5 662.7,740.7" fill="#FFEDB0"/><polygon points="662.7,1096.6 705.1,1080.4 705.1,724.5 662.7,740.7" fill="#FEC48A"/><polygon points="662.7,1034.6 705.1,1018.4 705.1,724.5 662.7,740.7" fill="#FD9F6A"/><polygon points="662.7,972.6 705.1,956.4 705.1,724.5 662.7,740.7" fill="#FD7A54"/><polygon points="662.7,910.6 705.1,894.4 705.1,724.5 662.7,740.7" fill="#F95350"/><polygon points="662.7,848.6 705.1,832.4 705.1,724.5 662.7,740.7" fill="#DE3359"/><polygon points="662.7,786.6 705.1,770.4 705.1,724.5 662.7,740.7" fill="#B81D62"/><polygon points="635.7,715.1 662.7,740.7 705.1,724.5 678.2,698.9" fill="#B81D62"/><path class="b" d="M635.7,715.1 L662.7,740.7 L705.1,724.5 L678.2,698.9 Z M635.7,715.1 L635.7,1133.0 M662.7,740.7 L662.7,1158.6 M705.1,724.5 L705.1,1142.4"/>
<polygon points="565.1,1159.9 592.0,1185.6 592.0,747.9 565.1,722.2" fill="#FFEDB0"/><polygon points="565.1,1097.9 592.0,1123.6 592.0,747.9 565.1,722.2" fill="#FEC48A"/><polygon points="565.1,1035.9 592.0,1061.6 592.0,747.9 565.1,722.2" fill="#FD9F6A"/><polygon points="565.1,973.9 592.0,999.6 592.0,747.9 565.1,722.2" fill="#FD7A54"/><polygon points="565.1,911.9 592.0,937.6 592.0,747.9 565.1,722.2" fill="#F95350"/><polygon points="565.1,849.9 592.0,875.6 592.0,747.9 565.1,722.2" fill="#DE3359"/><polygon points="565.1,787.9 592.0,813.6 592.0,747.9 565.1,722.2" fill="#B81D62"/><polygon points="565.1,725.9 592.0,751.6 592.0,747.9 565.1,722.2" fill="#8D1362"/><polygon points="592.0,1185.6 634.4,1169.4 634.4,731.7 592.0,747.9" fill="#FFEDB0"/><polygon points="592.0,1123.6 634.4,1107.4 634.4,731.7 592.0,747.9" fill="#FEC48A"/><polygon points="592.0,1061.6 634.4,1045.4 634.4,731.7 592.0,747.9" fill="#FD9F6A"/><polygon points="592.0,999.6 634.4,983.4 634.4,731.7 592.0,747.9" fill="#FD7A54"/><polygon points="592.0,937.6 634.4,921.4 634.4,731.7 592.0,747.9" fill="#F95350"/><polygon points="592.0,875.6 634.4,859.4 634.4,731.7 592.0,747.9" fill="#DE3359"/><polygon points="592.0,813.6 634.4,797.4 634.4,731.7 592.0,747.9" fill="#B81D62"/><polygon points="592.0,751.6 634.4,735.4 634.4,731.7 592.0,747.9" fill="#8D1362"/><polygon points="565.1,722.2 592.0,747.9 634.4,731.7 607.5,706.0" fill="#8D1362"/><path class="b" d="M565.1,722.2 L592.0,747.9 L634.4,731.7 L607.5,706.0 Z M565.1,722.2 L565.1,1159.9 M592.0,747.9 L592.0,1185.6 M634.4,731.7 L634.4,1169.4"/>
<polygon points="494.4,1186.9 521.3,1212.6 521.3,865.4 494.4,839.7" fill="#FFEDB0"/><polygon points="494.4,1124.9 521.3,1150.6 521.3,865.4 494.4,839.7" fill="#FEC48A"/><polygon points="494.4,1062.9 521.3,1088.6 521.3,865.4 494.4,839.7" fill="#FD9F6A"/><polygon points="494.4,1000.9 521.3,1026.6 521.3,865.4 494.4,839.7" fill="#FD7A54"/><polygon points="494.4,938.9 521.3,964.6 521.3,865.4 494.4,839.7" fill="#F95350"/><polygon points="494.4,876.9 521.3,902.6 521.3,865.4 494.4,839.7" fill="#DE3359"/><polygon points="521.3,1212.6 563.7,1196.4 563.7,849.2 521.3,865.4" fill="#FFEDB0"/><polygon points="521.3,1150.6 563.7,1134.4 563.7,849.2 521.3,865.4" fill="#FEC48A"/><polygon points="521.3,1088.6 563.7,1072.4 563.7,849.2 521.3,865.4" fill="#FD9F6A"/><polygon points="521.3,1026.6 563.7,1010.4 563.7,849.2 521.3,865.4" fill="#FD7A54"/><polygon points="521.3,964.6 563.7,948.4 563.7,849.2 521.3,865.4" fill="#F95350"/><polygon points="521.3,902.6 563.7,886.4 563.7,849.2 521.3,865.4" fill="#DE3359"/><polygon points="494.4,839.7 521.3,865.4 563.7,849.2 536.8,823.5" fill="#DE3359"/><path class="b" d="M494.4,839.7 L521.3,865.4 L563.7,849.2 L536.8,823.5 Z M494.4,839.7 L494.4,1186.9 M521.3,865.4 L521.3,1212.6 M563.7,849.2 L563.7,1196.4"/>
<polygon points="423.7,1213.9 450.6,1239.6 450.6,892.4 423.7,866.7" fill="#FFEDB0"/><polygon points="423.7,1151.9 450.6,1177.6 450.6,892.4 423.7,866.7" fill="#FEC48A"/><polygon points="423.7,1089.9 450.6,1115.6 450.6,892.4 423.7,866.7" fill="#FD9F6A"/><polygon points="423.7,1027.9 450.6,1053.6 450.6,892.4 423.7,866.7" fill="#FD7A54"/><polygon points="423.7,965.9 450.6,991.6 450.6,892.4 423.7,866.7" fill="#F95350"/><polygon points="423.7,903.9 450.6,929.6 450.6,892.4 423.7,866.7" fill="#DE3359"/><polygon points="450.6,1239.6 493.0,1223.4 493.0,876.2 450.6,892.4" fill="#FFEDB0"/><polygon points="450.6,1177.6 493.0,1161.4 493.0,876.2 450.6,892.4" fill="#FEC48A"/><polygon points="450.6,1115.6 493.0,1099.4 493.0,876.2 450.6,892.4" fill="#FD9F6A"/><polygon points="450.6,1053.6 493.0,1037.4 493.0,876.2 450.6,892.4" fill="#FD7A54"/><polygon points="450.6,991.6 493.0,975.4 493.0,876.2 450.6,892.4" fill="#F95350"/><polygon points="450.6,929.6 493.0,913.4 493.0,876.2 450.6,892.4" fill="#DE3359"/><polygon points="423.7,866.7 450.6,892.4 493.0,876.2 466.1,850.5" fill="#DE3359"/><path class="b" d="M423.7,866.7 L450.6,892.4 L493.0,876.2 L466.1,850.5 Z M423.7,866.7 L423.7,1213.9 M450.6,892.4 L450.6,1239.6 M493.0,876.2 L493.0,1223.4"/>
<polygon points="353.0,1240.9 379.9,1266.5 379.9,903.2 353.0,877.6" fill="#FFEDB0"/><polygon points="353.0,1178.9 379.9,1204.5 379.9,903.2 353.0,877.6" fill="#FEC48A"/><polygon points="353.0,1116.9 379.9,1142.5 379.9,903.2 353.0,877.6" fill="#FD9F6A"/><polygon points="353.0,1054.9 379.9,1080.5 379.9,903.2 353.0,877.6" fill="#FD7A54"/><polygon points="353.0,992.9 379.9,1018.5 379.9,903.2 353.0,877.6" fill="#F95350"/><polygon points="353.0,930.9 379.9,956.5 379.9,903.2 353.0,877.6" fill="#DE3359"/><polygon points="379.9,1266.5 422.3,1250.4 422.3,887.0 379.9,903.2" fill="#FFEDB0"/><polygon points="379.9,1204.5 422.3,1188.4 422.3,887.0 379.9,903.2" fill="#FEC48A"/><polygon points="379.9,1142.5 422.3,1126.4 422.3,887.0 379.9,903.2" fill="#FD9F6A"/><polygon points="379.9,1080.5 422.3,1064.4 422.3,887.0 379.9,903.2" fill="#FD7A54"/><polygon points="379.9,1018.5 422.3,1002.4 422.3,887.0 379.9,903.2" fill="#F95350"/><polygon points="379.9,956.5 422.3,940.4 422.3,887.0 379.9,903.2" fill="#DE3359"/><polygon points="353.0,877.6 379.9,903.2 422.3,887.0 395.4,861.4" fill="#DE3359"/><path class="b" d="M353.0,877.6 L379.9,903.2 L422.3,887.0 L395.4,861.4 Z M353.0,877.6 L353.0,1240.9 M379.9,903.2 L379.9,1266.5 M422.3,887.0 L422.3,1250.4"/>
<polygon points="1316.8,932.8 1343.7,958.4 1343.7,658.3 1316.8,632.7" fill="#FFEDB0"/><polygon points="1316.8,870.8 1343.7,896.4 1343.7,658.3 1316.8,632.7" fill="#FEC48A"/><polygon points="1316.8,808.8 1343.7,834.4 1343.7,658.3 1316.8,632.7" fill="#FD9F6A"/><polygon points="1316.8,746.8 1343.7,772.4 1343.7,658.3 1316.8,632.7" fill="#FD7A54"/><polygon points="1316.8,684.8 1343.7,710.4 1343.7,658.3 1316.8,632.7" fill="#F95350"/><polygon points="1343.7,958.4 1386.1,942.2 1386.1,642.1 1343.7,658.3" fill="#FFEDB0"/><polygon points="1343.7,896.4 1386.1,880.2 1386.1,642.1 1343.7,658.3" fill="#FEC48A"/><polygon points="1343.7,834.4 1386.1,818.2 1386.1,642.1 1343.7,658.3" fill="#FD9F6A"/><polygon points="1343.7,772.4 1386.1,756.2 1386.1,642.1 1343.7,658.3" fill="#FD7A54"/><polygon points="1343.7,710.4 1386.1,694.2 1386.1,642.1 1343.7,658.3" fill="#F95350"/><polygon points="1316.8,632.7 1343.7,658.3 1386.1,642.1 1359.2,616.5" fill="#F95350"/><path class="b" d="M1316.8,632.7 L1343.7,658.3 L1386.1,642.1 L1359.2,616.5 Z M1316.8,632.7 L1316.8,932.8 M1343.7,658.3 L1343.7,958.4 M1386.1,642.1 L1386.1,942.2"/>
<polygon points="1246.1,959.8 1273.0,985.4 1273.0,655.5 1246.1,629.9" fill="#FFEDB0"/><polygon points="1246.1,897.8 1273.0,923.4 1273.0,655.5 1246.1,629.9" fill="#FEC48A"/><polygon points="1246.1,835.8 1273.0,861.4 1273.0,655.5 1246.1,629.9" fill="#FD9F6A"/><polygon points="1246.1,773.8 1273.0,799.4 1273.0,655.5 1246.1,629.9" fill="#FD7A54"/><polygon points="1246.1,711.8 1273.0,737.4 1273.0,655.5 1246.1,629.9" fill="#F95350"/><polygon points="1246.1,649.8 1273.0,675.4 1273.0,655.5 1246.1,629.9" fill="#DE3359"/><polygon points="1273.0,985.4 1315.4,969.2 1315.4,639.4 1273.0,655.5" fill="#FFEDB0"/><polygon points="1273.0,923.4 1315.4,907.2 1315.4,639.4 1273.0,655.5" fill="#FEC48A"/><polygon points="1273.0,861.4 1315.4,845.2 1315.4,639.4 1273.0,655.5" fill="#FD9F6A"/><polygon points="1273.0,799.4 1315.4,783.2 1315.4,639.4 1273.0,655.5" fill="#FD7A54"/><polygon points="1273.0,737.4 1315.4,721.2 1315.4,639.4 1273.0,655.5" fill="#F95350"/><polygon points="1273.0,675.4 1315.4,659.2 1315.4,639.4 1273.0,655.5" fill="#DE3359"/><polygon points="1246.1,629.9 1273.0,655.5 1315.4,639.4 1288.5,613.7" fill="#DE3359"/><path class="b" d="M1246.1,629.9 L1273.0,655.5 L1315.4,639.4 L1288.5,613.7 Z M1246.1,629.9 L1246.1,959.8 M1273.0,655.5 L1273.0,985.4 M1315.4,639.4 L1315.4,969.2"/>
<polygon points="1175.4,986.7 1202.3,1012.4 1202.3,577.8 1175.4,552.1" fill="#FFEDB0"/><polygon points="1175.4,924.7 1202.3,950.4 1202.3,577.8 1175.4,552.1" fill="#FEC48A"/><polygon points="1175.4,862.7 1202.3,888.4 1202.3,577.8 1175.4,552.1" fill="#FD9F6A"/><polygon points="1175.4,800.7 1202.3,826.4 1202.3,577.8 1175.4,552.1" fill="#FD7A54"/><polygon points="1175.4,738.7 1202.3,764.4 1202.3,577.8 1175.4,552.1" fill="#F95350"/><polygon points="1175.4,676.7 1202.3,702.4 1202.3,577.8 1175.4,552.1" fill="#DE3359"/><polygon points="1175.4,614.7 1202.3,640.4 1202.3,577.8 1175.4,552.1" fill="#B81D62"/><polygon points="1175.4,552.7 1202.3,578.4 1202.3,577.8 1175.4,552.1" fill="#8D1362"/><polygon points="1202.3,1012.4 1244.7,996.2 1244.7,561.6 1202.3,577.8" fill="#FFEDB0"/><polygon points="1202.3,950.4 1244.7,934.2 1244.7,561.6 1202.3,577.8" fill="#FEC48A"/><polygon points="1202.3,888.4 1244.7,872.2 1244.7,561.6 1202.3,577.8" fill="#FD9F6A"/><polygon points="1202.3,826.4 1244.7,810.2 1244.7,561.6 1202.3,577.8" fill="#FD7A54"/><polygon points="1202.3,764.4 1244.7,748.2 1244.7,561.6 1202.3,577.8" fill="#F95350"/><polygon points="1202.3,702.4 1244.7,686.2 1244.7,561.6 1202.3,577.8" fill="#DE3359"/><polygon points="1202.3,640.4 1244.7,624.2 1244.7,561.6 1202.3,577.8" fill="#B81D62"/><polygon points="1202.3,578.4 1244.7,562.2 1244.7,561.6 1202.3,577.8" fill="#8D1362"/><polygon points="1175.4,552.1 1202.3,577.8 1244.7,561.6 1217.8,535.9" fill="#8D1362"/><path class="b" d="M1175.4,552.1 L1202.3,577.8 L1244.7,561.6 L1217.8,535.9 Z M1175.4,552.1 L1175.4,986.7 M1202.3,577.8 L1202.3,1012.4 M1244.7,561.6 L1244.7,996.2"/>
<polygon points="1104.7,1013.7 1131.6,1039.4 1131.6,690.9 1104.7,665.3" fill="#FFEDB0"/><polygon points="1104.7,951.7 1131.6,977.4 1131.6,690.9 1104.7,665.3" fill="#FEC48A"/><polygon points="1104.7,889.7 1131.6,915.4 1131.6,690.9 1104.7,665.3" fill="#FD9F6A"/><polygon points="1104.7,827.7 1131.6,853.4 1131.6,690.9 1104.7,665.3" fill="#FD7A54"/><polygon points="1104.7,765.7 1131.6,791.4 1131.6,690.9 1104.7,665.3" fill="#F95350"/><polygon points="1104.7,703.7 1131.6,729.4 1131.6,690.9 1104.7,665.3" fill="#DE3359"/><polygon points="1131.6,1039.4 1174.0,1023.2 1174.0,674.7 1131.6,690.9" fill="#FFEDB0"/><polygon points="1131.6,977.4 1174.0,961.2 1174.0,674.7 1131.6,690.9" fill="#FEC48A"/><polygon points="1131.6,915.4 1174.0,899.2 1174.0,674.7 1131.6,690.9" fill="#FD9F6A"/><polygon points="1131.6,853.4 1174.0,837.2 1174.0,674.7 1131.6,690.9" fill="#FD7A54"/><polygon points="1131.6,791.4 1174.0,775.2 1174.0,674.7 1131.6,690.9" fill="#F95350"/><polygon points="1131.6,729.4 1174.0,713.2 1174.0,674.7 1131.6,690.9" fill="#DE3359"/><polygon points="1104.7,665.3 1131.6,690.9 1174.0,674.7 1147.1,649.1" fill="#DE3359"/><path class="b" d="M1104.7,665.3 L1131.6,690.9 L1174.0,674.7 L1147.1,649.1 Z M1104.7,665.3 L1104.7,1013.7 M1131.6,690.9 L1131.6,1039.4 M1174.0,674.7 L1174.0,1023.2"/>
<polygon points="1034.0,1040.7 1060.9,1066.4 1060.9,721.6 1034.0,696.0" fill="#FFEDB0"/><polygon points="1034.0,978.7 1060.9,1004.4 1060.9,721.6 1034.0,696.0" fill="#FEC48A"/><polygon points="1034.0,916.7 1060.9,942.4 1060.9,721.6 1034.0,696.0" fill="#FD9F6A"/><polygon points="1034.0,854.7 1060.9,880.4 1060.9,721.6 1034.0,696.0" fill="#FD7A54"/><polygon points="1034.0,792.7 1060.9,818.4 1060.9,721.6 1034.0,696.0" fill="#F95350"/><polygon points="1034.0,730.7 1060.9,756.4 1060.9,721.6 1034.0,696.0" fill="#DE3359"/><polygon points="1060.9,1066.4 1103.4,1050.2 1103.4,705.4 1060.9,721.6" fill="#FFEDB0"/><polygon points="1060.9,1004.4 1103.4,988.2 1103.4,705.4 1060.9,721.6" fill="#FEC48A"/><polygon points="1060.9,942.4 1103.4,926.2 1103.4,705.4 1060.9,721.6" fill="#FD9F6A"/><polygon points="1060.9,880.4 1103.4,864.2 1103.4,705.4 1060.9,721.6" fill="#FD7A54"/><polygon points="1060.9,818.4 1103.4,802.2 1103.4,705.4 1060.9,721.6" fill="#F95350"/><polygon points="1060.9,756.4 1103.4,740.2 1103.4,705.4 1060.9,721.6" fill="#DE3359"/><polygon points="1034.0,696.0 1060.9,721.6 1103.4,705.4 1076.4,679.8" fill="#DE3359"/><path class="b" d="M1034.0,696.0 L1060.9,721.6 L1103.4,705.4 L1076.4,679.8 Z M1034.0,696.0 L1034.0,1040.7 M1060.9,721.6 L1060.9,1066.4 M1103.4,705.4 L1103.4,1050.2"/>
<polygon points="963.3,1067.7 990.3,1093.3 990.3,732.5 963.3,706.9" fill="#FFEDB0"/><polygon points="963.3,1005.7 990.3,1031.3 990.3,732.5 963.3,706.9" fill="#FEC48A"/><polygon points="963.3,943.7 990.3,969.3 990.3,732.5 963.3,706.9" fill="#FD9F6A"/><polygon points="963.3,881.7 990.3,907.3 990.3,732.5 963.3,706.9" fill="#FD7A54"/><polygon points="963.3,819.7 990.3,845.3 990.3,732.5 963.3,706.9" fill="#F95350"/><polygon points="963.3,757.7 990.3,783.3 990.3,732.5 963.3,706.9" fill="#DE3359"/><polygon points="990.3,1093.3 1032.7,1077.2 1032.7,716.3 990.3,732.5" fill="#FFEDB0"/><polygon points="990.3,1031.3 1032.7,1015.2 1032.7,716.3 990.3,732.5" fill="#FEC48A"/><polygon points="990.3,969.3 1032.7,953.2 1032.7,716.3 990.3,732.5" fill="#FD9F6A"/><polygon points="990.3,907.3 1032.7,891.2 1032.7,716.3 990.3,732.5" fill="#FD7A54"/><polygon points="990.3,845.3 1032.7,829.2 1032.7,716.3 990.3,732.5" fill="#F95350"/><polygon points="990.3,783.3 1032.7,767.2 1032.7,716.3 990.3,732.5" fill="#DE3359"/><polygon points="963.3,706.9 990.3,732.5 1032.7,716.3 1005.8,690.7" fill="#DE3359"/><path class="b" d="M963.3,706.9 L990.3,732.5 L1032.7,716.3 L1005.8,690.7 Z M963.3,706.9 L963.3,1067.7 M990.3,732.5 L990.3,1093.3 M1032.7,716.3 L1032.7,1077.2"/>
<polygon points="892.7,1094.7 919.6,1120.3 919.6,769.4 892.7,743.8" fill="#FFEDB0"/><polygon points="892.7,1032.7 919.6,1058.3 919.6,769.4 892.7,743.8" fill="#FEC48A"/><polygon points="892.7,970.7 919.6,996.3 919.6,769.4 892.7,743.8" fill="#FD9F6A"/><polygon points="892.7,908.7 919.6,934.3 919.6,769.4 892.7,743.8" fill="#FD7A54"/><polygon points="892.7,846.7 919.6,872.3 919.6,769.4 892.7,743.8" fill="#F95350"/><polygon points="892.7,784.7 919.6,810.3 919.6,769.4 892.7,743.8" fill="#DE3359"/><polygon points="919.6,1120.3 962.0,1104.1 962.0,753.2 919.6,769.4" fill="#FFEDB0"/><polygon points="919.6,1058.3 962.0,1042.1 962.0,753.2 919.6,769.4" fill="#FEC48A"/><polygon points="919.6,996.3 962.0,980.1 962.0,753.2 919.6,769.4" fill="#FD9F6A"/><polygon points="919.6,934.3 962.0,918.1 962.0,753.2 919.6,769.4" fill="#FD7A54"/><polygon points="919.6,872.3 962.0,856.1 962.0,753.2 919.6,769.4" fill="#F95350"/><polygon points="919.6,810.3 962.0,794.1 962.0,753.2 919.6,769.4" fill="#DE3359"/><polygon points="892.7,743.8 919.6,769.4 962.0,753.2 935.1,727.6" fill="#DE3359"/><path class="b" d="M892.7,743.8 L919.6,769.4 L962.0,753.2 L935.1,727.6 Z M892.7,743.8 L892.7,1094.7 M919.6,769.4 L919.6,1120.3 M962.0,753.2 L962.0,1104.1"/>
<polygon points="822.0,1121.7 848.9,1147.3 848.9,772.8 822.0,747.2" fill="#FFEDB0"/><polygon points="822.0,1059.7 848.9,1085.3 848.9,772.8 822.0,747.2" fill="#FEC48A"/><polygon points="822.0,997.7 848.9,1023.3 848.9,772.8 822.0,747.2" fill="#FD9F6A"/><polygon points="822.0,935.7 848.9,961.3 848.9,772.8 822.0,747.2" fill="#FD7A54"/><polygon points="822.0,873.7 848.9,899.3 848.9,772.8 822.0,747.2" fill="#F95350"/><polygon points="822.0,811.7 848.9,837.3 848.9,772.8 822.0,747.2" fill="#DE3359"/><polygon points="822.0,749.7 848.9,775.3 848.9,772.8 822.0,747.2" fill="#B81D62"/><polygon points="848.9,1147.3 891.3,1131.1 891.3,756.7 848.9,772.8" fill="#FFEDB0"/><polygon points="848.9,1085.3 891.3,1069.1 891.3,756.7 848.9,772.8" fill="#FEC48A"/><polygon points="848.9,1023.3 891.3,1007.1 891.3,756.7 848.9,772.8" fill="#FD9F6A"/><polygon points="848.9,961.3 891.3,945.1 891.3,756.7 848.9,772.8" fill="#FD7A54"/><polygon points="848.9,899.3 891.3,883.1 891.3,756.7 848.9,772.8" fill="#F95350"/><polygon points="848.9,837.3 891.3,821.1 891.3,756.7 848.9,772.8" fill="#DE3359"/><polygon points="848.9,775.3 891.3,759.1 891.3,756.7 848.9,772.8" fill="#B81D62"/><polygon points="822.0,747.2 848.9,772.8 891.3,756.7 864.4,731.0" fill="#B81D62"/><path class="b" d="M822.0,747.2 L848.9,772.8 L891.3,756.7 L864.4,731.0 Z M822.0,747.2 L822.0,1121.7 M848.9,772.8 L848.9,1147.3 M891.3,756.7 L891.3,1131.1"/>
<polygon points="751.3,1148.7 778.2,1174.3 778.2,824.6 751.3,799.0" fill="#FFEDB0"/><polygon points="751.3,1086.7 778.2,1112.3 778.2,824.6 751.3,799.0" fill="#FEC48A"/><polygon points="751.3,1024.7 778.2,1050.3 778.2,824.6 751.3,799.0" fill="#FD9F6A"/><polygon points="751.3,962.7 778.2,988.3 778.2,824.6 751.3,799.0" fill="#FD7A54"/><polygon points="751.3,900.7 778.2,926.3 778.2,824.6 751.3,799.0" fill="#F95350"/><polygon points="751.3,838.7 778.2,864.3 778.2,824.6 751.3,799.0" fill="#DE3359"/><polygon points="778.2,1174.3 820.6,1158.1 820.6,808.4 778.2,824.6" fill="#FFEDB0"/><polygon points="778.2,1112.3 820.6,1096.1 820.6,808.4 778.2,824.6" fill="#FEC48A"/><polygon points="778.2,1050.3 820.6,1034.1 820.6,808.4 778.2,824.6" fill="#FD9F6A"/><polygon points="778.2,988.3 820.6,972.1 820.6,808.4 778.2,824.6" fill="#FD7A54"/><polygon points="778.2,926.3 820.6,910.1 820.6,808.4 778.2,824.6" fill="#F95350"/><polygon points="778.2,864.3 820.6,848.1 820.6,808.4 778.2,824.6" fill="#DE3359"/><polygon points="751.3,799.0 778.2,824.6 820.6,808.4 793.7,782.8" fill="#DE3359"/><path class="b" d="M751.3,799.0 L778.2,824.6 L820.6,808.4 L793.7,782.8 Z M751.3,799.0 L751.3,1148.7 M778.2,824.6 L778.2,1174.3 M820.6,808.4 L820.6,1158.1"/>
<polygon points="680.6,1175.7 707.5,1201.3 707.5,699.1 680.6,673.5" fill="#FFEDB0"/><polygon points="680.6,1113.7 707.5,1139.3 707.5,699.1 680.6,673.5" fill="#FEC48A"/><polygon points="680.6,1051.7 707.5,1077.3 707.5,699.1 680.6,673.5" fill="#FD9F6A"/><polygon points="680.6,989.7 707.5,1015.3 707.5,699.1 680.6,673.5" fill="#FD7A54"/><polygon points="680.6,927.7 707.5,953.3 707.5,699.1 680.6,673.5" fill="#F95350"/><polygon points="680.6,865.7 707.5,891.3 707.5,699.1 680.6,673.5" fill="#DE3359"/><polygon points="680.6,803.7 707.5,829.3 707.5,699.1 680.6,673.5" fill="#B81D62"/><polygon points="680.6,741.7 707.5,767.3 707.5,699.1 680.6,673.5" fill="#8D1362"/><polygon points="680.6,679.7 707.5,705.3 707.5,699.1 680.6,673.5" fill="#5F0E52"/><polygon points="707.5,1201.3 749.9,1185.1 749.9,682.9 707.5,699.1" fill="#FFEDB0"/><polygon points="707.5,1139.3 749.9,1123.1 749.9,682.9 707.5,699.1" fill="#FEC48A"/><polygon points="707.5,1077.3 749.9,1061.1 749.9,682.9 707.5,699.1" fill="#FD9F6A"/><polygon points="707.5,1015.3 749.9,999.1 749.9,682.9 707.5,699.1" fill="#FD7A54"/><polygon points="707.5,953.3 749.9,937.1 749.9,682.9 707.5,699.1" fill="#F95350"/><polygon points="707.5,891.3 749.9,875.1 749.9,682.9 707.5,699.1" fill="#DE3359"/><polygon points="707.5,829.3 749.9,813.1 749.9,682.9 707.5,699.1" fill="#B81D62"/><polygon points="707.5,767.3 749.9,751.1 749.9,682.9 707.5,699.1" fill="#8D1362"/><polygon points="707.5,705.3 749.9,689.1 749.9,682.9 707.5,699.1" fill="#5F0E52"/><polygon points="680.6,673.5 707.5,699.1 749.9,682.9 723.0,657.3" fill="#5F0E52"/><path class="b" d="M680.6,673.5 L707.5,699.1 L749.9,682.9 L723.0,657.3 Z M680.6,673.5 L680.6,1175.7 M707.5,699.1 L707.5,1201.3 M749.9,682.9 L749.9,1185.1"/>
<polygon points="609.9,1202.7 636.8,1228.3 636.8,858.8 609.9,833.1" fill="#FFEDB0"/><polygon points="609.9,1140.7 636.8,1166.3 636.8,858.8 609.9,833.1" fill="#FEC48A"/><polygon points="609.9,1078.7 636.8,1104.3 636.8,858.8 609.9,833.1" fill="#FD9F6A"/><polygon points="609.9,1016.7 636.8,1042.3 636.8,858.8 609.9,833.1" fill="#FD7A54"/><polygon points="609.9,954.7 636.8,980.3 636.8,858.8 609.9,833.1" fill="#F95350"/><polygon points="609.9,892.7 636.8,918.3 636.8,858.8 609.9,833.1" fill="#DE3359"/><polygon points="636.8,1228.3 679.2,1212.1 679.2,842.6 636.8,858.8" fill="#FFEDB0"/><polygon points="636.8,1166.3 679.2,1150.1 679.2,842.6 636.8,858.8" fill="#FEC48A"/><polygon points="636.8,1104.3 679.2,1088.1 679.2,842.6 636.8,858.8" fill="#FD9F6A"/><polygon points="636.8,1042.3 679.2,1026.1 679.2,842.6 636.8,858.8" fill="#FD7A54"/><polygon points="636.8,980.3 679.2,964.1 679.2,842.6 636.8,858.8" fill="#F95350"/><polygon points="636.8,918.3 679.2,902.1 679.2,842.6 636.8,858.8" fill="#DE3359"/><polygon points="609.9,833.1 636.8,858.8 679.2,842.6 652.3,817.0" fill="#DE3359"/><path class="b" d="M609.9,833.1 L636.8,858.8 L679.2,842.6 L652.3,817.0 Z M609.9,833.1 L609.9,1202.7 M636.8,858.8 L636.8,1228.3 M679.2,842.6 L679.2,1212.1"/>
<polygon points="539.2,1229.7 566.1,1255.3 566.1,799.0 539.2,773.3" fill="#FFEDB0"/><polygon points="539.2,1167.7 566.1,1193.3 566.1,799.0 539.2,773.3" fill="#FEC48A"/><polygon points="539.2,1105.7 566.1,1131.3 566.1,799.0 539.2,773.3" fill="#FD9F6A"/><polygon points="539.2,1043.7 566.1,1069.3 566.1,799.0 539.2,773.3" fill="#FD7A54"/><polygon points="539.2,981.7 566.1,1007.3 566.1,799.0 539.2,773.3" fill="#F95350"/><polygon points="539.2,919.7 566.1,945.3 566.1,799.0 539.2,773.3" fill="#DE3359"/><polygon points="539.2,857.7 566.1,883.3 566.1,799.0 539.2,773.3" fill="#B81D62"/><polygon points="539.2,795.7 566.1,821.3 566.1,799.0 539.2,773.3" fill="#8D1362"/><polygon points="566.1,1255.3 608.6,1239.1 608.6,782.8 566.1,799.0" fill="#FFEDB0"/><polygon points="566.1,1193.3 608.6,1177.1 608.6,782.8 566.1,799.0" fill="#FEC48A"/><polygon points="566.1,1131.3 608.6,1115.1 608.6,782.8 566.1,799.0" fill="#FD9F6A"/><polygon points="566.1,1069.3 608.6,1053.1 608.6,782.8 566.1,799.0" fill="#FD7A54"/><polygon points="566.1,1007.3 608.6,991.1 608.6,782.8 566.1,799.0" fill="#F95350"/><polygon points="566.1,945.3 608.6,929.1 608.6,782.8 566.1,799.0" fill="#DE3359"/><polygon points="566.1,883.3 608.6,867.1 608.6,782.8 566.1,799.0" fill="#B81D62"/><polygon points="566.1,821.3 608.6,805.1 608.6,782.8 566.1,799.0" fill="#8D1362"/><polygon points="539.2,773.3 566.1,799.0 608.6,782.8 581.6,757.1" fill="#8D1362"/><path class="b" d="M539.2,773.3 L566.1,799.0 L608.6,782.8 L581.6,757.1 Z M539.2,773.3 L539.2,1229.7 M566.1,799.0 L566.1,1255.3 M608.6,782.8 L608.6,1239.1"/>
<polygon points="468.5,1256.6 495.5,1282.3 495.5,781.3 468.5,755.7" fill="#FFEDB0"/><polygon points="468.5,1194.6 495.5,1220.3 495.5,781.3 468.5,755.7" fill="#FEC48A"/><polygon points="468.5,1132.6 495.5,1158.3 495.5,781.3 468.5,755.7" fill="#FD9F6A"/><polygon points="468.5,1070.6 495.5,1096.3 495.5,781.3 468.5,755.7" fill="#FD7A54"/><polygon points="468.5,1008.6 495.5,1034.3 495.5,781.3 468.5,755.7" fill="#F95350"/><polygon points="468.5,946.6 495.5,972.3 495.5,781.3 468.5,755.7" fill="#DE3359"/><polygon points="468.5,884.6 495.5,910.3 495.5,781.3 468.5,755.7" fill="#B81D62"/><polygon points="468.5,822.6 495.5,848.3 495.5,781.3 468.5,755.7" fill="#8D1362"/><polygon points="468.5,760.6 495.5,786.3 495.5,781.3 468.5,755.7" fill="#5F0E52"/><polygon points="495.5,1282.3 537.9,1266.1 537.9,765.1 495.5,781.3" fill="#FFEDB0"/><polygon points="495.5,1220.3 537.9,1204.1 537.9,765.1 495.5,781.3" fill="#FEC48A"/><polygon points="495.5,1158.3 537.9,1142.1 537.9,765.1 495.5,781.3" fill="#FD9F6A"/><polygon points="495.5,1096.3 537.9,1080.1 537.9,765.1 495.5,781.3" fill="#FD7A54"/><polygon points="495.5,1034.3 537.9,1018.1 537.9,765.1 495.5,781.3" fill="#F95350"/><polygon points="495.5,972.3 537.9,956.1 537.9,765.1 495.5,781.3" fill="#DE3359"/><polygon points="495.5,910.3 537.9,894.1 537.9,765.1 495.5,781.3" fill="#B81D62"/><polygon points="495.5,848.3 537.9,832.1 537.9,765.1 495.5,781.3" fill="#8D1362"/><polygon points="495.5,786.3 537.9,770.1 537.9,765.1 495.5,781.3" fill="#5F0E52"/><polygon points="468.5,755.7 495.5,781.3 537.9,765.1 511.0,739.5" fill="#5F0E52"/><path class="b" d="M468.5,755.7 L495.5,781.3 L537.9,765.1 L511.0,739.5 Z M468.5,755.7 L468.5,1256.6 M495.5,781.3 L495.5,1282.3 M537.9,765.1 L537.9,1266.1"/>
<polygon points="397.9,1283.6 424.8,1309.3 424.8,848.0 397.9,822.4" fill="#FFEDB0"/><polygon points="397.9,1221.6 424.8,1247.3 424.8,848.0 397.9,822.4" fill="#FEC48A"/><polygon points="397.9,1159.6 424.8,1185.3 424.8,848.0 397.9,822.4" fill="#FD9F6A"/><polygon points="397.9,1097.6 424.8,1123.3 424.8,848.0 397.9,822.4" fill="#FD7A54"/><polygon points="397.9,1035.6 424.8,1061.3 424.8,848.0 397.9,822.4" fill="#F95350"/><polygon points="397.9,973.6 424.8,999.3 424.8,848.0 397.9,822.4" fill="#DE3359"/><polygon points="397.9,911.6 424.8,937.3 424.8,848.0 397.9,822.4" fill="#B81D62"/><polygon points="397.9,849.6 424.8,875.3 424.8,848.0 397.9,822.4" fill="#8D1362"/><polygon points="424.8,1309.3 467.2,1293.1 467.2,831.8 424.8,848.0" fill="#FFEDB0"/><polygon points="424.8,1247.3 467.2,1231.1 467.2,831.8 424.8,848.0" fill="#FEC48A"/><polygon points="424.8,1185.3 467.2,1169.1 467.2,831.8 424.8,848.0" fill="#FD9F6A"/><polygon points="424.8,1123.3 467.2,1107.1 467.2,831.8 424.8,848.0" fill="#FD7A54"/><polygon points="424.8,1061.3 467.2,1045.1 467.2,831.8 424.8,848.0" fill="#F95350"/><polygon points="424.8,999.3 467.2,983.1 467.2,831.8 424.8,848.0" fill="#DE3359"/><polygon points="424.8,937.3 467.2,921.1 467.2,831.8 424.8,848.0" fill="#B81D62"/><polygon points="424.8,875.3 467.2,859.1 467.2,831.8 424.8,848.0" fill="#8D1362"/><polygon points="397.9,822.4 424.8,848.0 467.2,831.8 440.3,806.2" fill="#8D1362"/><path class="b" d="M397.9,822.4 L424.8,848.0 L467.2,831.8 L440.3,806.2 Z M397.9,822.4 L397.9,1283.6 M424.8,848.0 L424.8,1309.3 M467.2,831.8 L467.2,1293.1"/>
<polygon points="1361.6,975.5 1388.5,1001.1 1388.5,733.3 1361.6,707.6" fill="#FFEDB0"/><polygon points="1361.6,913.5 1388.5,939.1 1388.5,733.3 1361.6,707.6" fill="#FEC48A"/><polygon points="1361.6,851.5 1388.5,877.1 1388.5,733.3 1361.6,707.6" fill="#FD9F6A"/><polygon points="1361.6,789.5 1388.5,815.1 1388.5,733.3 1361.6,707.6" fill="#FD7A54"/><polygon points="1361.6,727.5 1388.5,753.1 1388.5,733.3 1361.6,707.6" fill="#F95350"/><polygon points="1388.5,1001.1 1430.9,984.9 1430.9,717.1 1388.5,733.3" fill="#FFEDB0"/><polygon points="1388.5,939.1 1430.9,922.9 1430.9,717.1 1388.5,733.3" fill="#FEC48A"/><polygon points="1388.5,877.1 1430.9,860.9 1430.9,717.1 1388.5,733.3" fill="#FD9F6A"/><polygon points="1388.5,815.1 1430.9,798.9 1430.9,717.1 1388.5,733.3" fill="#FD7A54"/><polygon points="1388.5,753.1 1430.9,736.9 1430.9,717.1 1388.5,733.3" fill="#F95350"/><polygon points="1361.6,707.6 1388.5,733.3 1430.9,717.1 1404.0,691.5" fill="#F95350"/><path class="b" d="M1361.6,707.6 L1388.5,733.3 L1430.9,717.1 L1404.0,691.5 Z M1361.6,707.6 L1361.6,975.5 M1388.5,733.3 L1388.5,1001.1 M1430.9,717.1 L1430.9,984.9"/>
<polygon points="1290.9,1002.5 1317.8,1028.1 1317.8,783.8 1290.9,758.2" fill="#FFEDB0"/><polygon points="1290.9,940.5 1317.8,966.1 1317.8,783.8 1290.9,758.2" fill="#FEC48A"/><polygon points="1290.9,878.5 1317.8,904.1 1317.8,783.8 1290.9,758.2" fill="#FD9F6A"/><polygon points="1290.9,816.5 1317.8,842.1 1317.8,783.8 1290.9,758.2" fill="#FD7A54"/><polygon points="1317.8,1028.1 1360.3,1011.9 1360.3,767.6 1317.8,783.8" fill="#FFEDB0"/><polygon points="1317.8,966.1 1360.3,949.9 1360.3,767.6 1317.8,783.8" fill="#FEC48A"/><polygon points="1317.8,904.1 1360.3,887.9 1360.3,767.6 1317.8,783.8" fill="#FD9F6A"/><polygon points="1317.8,842.1 1360.3,825.9 1360.3,767.6 1317.8,783.8" fill="#FD7A54"/><polygon points="1290.9,758.2 1317.8,783.8 1360.3,767.6 1333.3,742.0" fill="#FD7A54"/><path class="b" d="M1290.9,758.2 L1317.8,783.8 L1360.3,767.6 L1333.3,742.0 Z M1290.9,758.2 L1290.9,1002.5 M1317.8,783.8 L1317.8,1028.1 M1360.3,767.6 L1360.3,1011.9"/>
<polygon points="1220.3,1029.5 1247.2,1055.1 1247.2,853.0 1220.3,827.3" fill="#FFEDB0"/><polygon points="1220.3,967.5 1247.2,993.1 1247.2,853.0 1220.3,827.3" fill="#FEC48A"/><polygon points="1220.3,905.5 1247.2,931.1 1247.2,853.0 1220.3,827.3" fill="#FD9F6A"/><polygon points="1220.3,843.5 1247.2,869.1 1247.2,853.0 1220.3,827.3" fill="#FD7A54"/><polygon points="1247.2,1055.1 1289.6,1038.9 1289.6,836.8 1247.2,853.0" fill="#FFEDB0"/><polygon points="1247.2,993.1 1289.6,976.9 1289.6,836.8 1247.2,853.0" fill="#FEC48A"/><polygon points="1247.2,931.1 1289.6,914.9 1289.6,836.8 1247.2,853.0" fill="#FD9F6A"/><polygon points="1247.2,869.1 1289.6,852.9 1289.6,836.8 1247.2,853.0" fill="#FD7A54"/><polygon points="1220.3,827.3 1247.2,853.0 1289.6,836.8 1262.7,811.2" fill="#FD7A54"/><path class="b" d="M1220.3,827.3 L1247.2,853.0 L1289.6,836.8 L1262.7,811.2 Z M1220.3,827.3 L1220.3,1029.5 M1247.2,853.0 L1247.2,1055.1 M1289.6,836.8 L1289.6,1038.9"/>
<polygon points="1149.6,1056.5 1176.5,1082.1 1176.5,747.3 1149.6,721.7" fill="#FFEDB0"/><polygon points="1149.6,994.5 1176.5,1020.1 1176.5,747.3 1149.6,721.7" fill="#FEC48A"/><polygon points="1149.6,932.5 1176.5,958.1 1176.5,747.3 1149.6,721.7" fill="#FD9F6A"/><polygon points="1149.6,870.5 1176.5,896.1 1176.5,747.3 1149.6,721.7" fill="#FD7A54"/><polygon points="1149.6,808.5 1176.5,834.1 1176.5,747.3 1149.6,721.7" fill="#F95350"/><polygon points="1149.6,746.5 1176.5,772.1 1176.5,747.3 1149.6,721.7" fill="#DE3359"/><polygon points="1176.5,1082.1 1218.9,1065.9 1218.9,731.1 1176.5,747.3" fill="#FFEDB0"/><polygon points="1176.5,1020.1 1218.9,1003.9 1218.9,731.1 1176.5,747.3" fill="#FEC48A"/><polygon points="1176.5,958.1 1218.9,941.9 1218.9,731.1 1176.5,747.3" fill="#FD9F6A"/><polygon points="1176.5,896.1 1218.9,879.9 1218.9,731.1 1176.5,747.3" fill="#FD7A54"/><polygon points="1176.5,834.1 1218.9,817.9 1218.9,731.1 1176.5,747.3" fill="#F95350"/><polygon points="1176.5,772.1 1218.9,755.9 1218.9,731.1 1176.5,747.3" fill="#DE3359"/><polygon points="1149.6,721.7 1176.5,747.3 1218.9,731.1 1192.0,705.5" fill="#DE3359"/><path class="b" d="M1149.6,721.7 L1176.5,747.3 L1218.9,731.1 L1192.0,705.5 Z M1149.6,721.7 L1149.6,1056.5 M1176.5,747.3 L1176.5,1082.1 M1218.9,731.1 L1218.9,1065.9"/>
<polygon points="1078.9,1083.4 1105.8,1109.1 1105.8,847.4 1078.9,821.8" fill="#FFEDB0"/><polygon points="1078.9,1021.4 1105.8,1047.1 1105.8,847.4 1078.9,821.8" fill="#FEC48A"/><polygon points="1078.9,959.4 1105.8,985.1 1105.8,847.4 1078.9,821.8" fill="#FD9F6A"/><polygon points="1078.9,897.4 1105.8,923.1 1105.8,847.4 1078.9,821.8" fill="#FD7A54"/><polygon points="1078.9,835.4 1105.8,861.1 1105.8,847.4 1078.9,821.8" fill="#F95350"/><polygon points="1105.8,1109.1 1148.2,1092.9 1148.2,831.2 1105.8,847.4" fill="#FFEDB0"/><polygon points="1105.8,1047.1 1148.2,1030.9 1148.2,831.2 1105.8,847.4" fill="#FEC48A"/><polygon points="1105.8,985.1 1148.2,968.9 1148.2,831.2 1105.8,847.4" fill="#FD9F6A"/><polygon points="1105.8,923.1 1148.2,906.9 1148.2,831.2 1105.8,847.4" fill="#FD7A54"/><polygon points="1105.8,861.1 1148.2,844.9 1148.2,831.2 1105.8,847.4" fill="#F95350"/><polygon points="1078.9,821.8 1105.8,847.4 1148.2,831.2 1121.3,805.6" fill="#F95350"/><path class="b" d="M1078.9,821.8 L1105.8,847.4 L1148.2,831.2 L1121.3,805.6 Z M1078.9,821.8 L1078.9,1083.4 M1105.8,847.4 L1105.8,1109.1 M1148.2,831.2 L1148.2,1092.9"/>
<polygon points="1008.2,1110.4 1035.1,1136.1 1035.1,870.7 1008.2,845.1" fill="#FFEDB0"/><polygon points="1008.2,1048.4 1035.1,1074.1 1035.1,870.7 1008.2,845.1" fill="#FEC48A"/><polygon points="1008.2,986.4 1035.1,1012.1 1035.1,870.7 1008.2,845.1" fill="#FD9F6A"/><polygon points="1008.2,924.4 1035.1,950.1 1035.1,870.7 1008.2,845.1" fill="#FD7A54"/><polygon points="1008.2,862.4 1035.1,888.1 1035.1,870.7 1008.2,845.1" fill="#F95350"/><polygon points="1035.1,1136.1 1077.5,1119.9 1077.5,854.5 1035.1,870.7" fill="#FFEDB0"/><polygon points="1035.1,1074.1 1077.5,1057.9 1077.5,854.5 1035.1,870.7" fill="#FEC48A"/><polygon points="1035.1,1012.1 1077.5,995.9 1077.5,854.5 1035.1,870.7" fill="#FD9F6A"/><polygon points="1035.1,950.1 1077.5,933.9 1077.5,854.5 1035.1,870.7" fill="#FD7A54"/><polygon points="1035.1,888.1 1077.5,871.9 1077.5,854.5 1035.1,870.7" fill="#F95350"/><polygon points="1008.2,845.1 1035.1,870.7 1077.5,854.5 1050.6,828.9" fill="#F95350"/><path class="b" d="M1008.2,845.1 L1035.1,870.7 L1077.5,854.5 L1050.6,828.9 Z M1008.2,845.1 L1008.2,1110.4 M1035.1,870.7 L1035.1,1136.1 M1077.5,854.5 L1077.5,1119.9"/>
<polygon points="937.5,1137.4 964.4,1163.1 964.4,783.6 937.5,758.0" fill="#FFEDB0"/><polygon points="937.5,1075.4 964.4,1101.1 964.4,783.6 937.5,758.0" fill="#FEC48A"/><polygon points="937.5,1013.4 964.4,1039.1 964.4,783.6 937.5,758.0" fill="#FD9F6A"/><polygon points="937.5,951.4 964.4,977.1 964.4,783.6 937.5,758.0" fill="#FD7A54"/><polygon points="937.5,889.4 964.4,915.1 964.4,783.6 937.5,758.0" fill="#F95350"/><polygon points="937.5,827.4 964.4,853.1 964.4,783.6 937.5,758.0" fill="#DE3359"/><polygon points="937.5,765.4 964.4,791.1 964.4,783.6 937.5,758.0" fill="#B81D62"/><polygon points="964.4,1163.1 1006.8,1146.9 1006.8,767.4 964.4,783.6" fill="#FFEDB0"/><polygon points="964.4,1101.1 1006.8,1084.9 1006.8,767.4 964.4,783.6" fill="#FEC48A"/><polygon points="964.4,1039.1 1006.8,1022.9 1006.8,767.4 964.4,783.6" fill="#FD9F6A"/><polygon points="964.4,977.1 1006.8,960.9 1006.8,767.4 964.4,783.6" fill="#FD7A54"/><polygon points="964.4,915.1 1006.8,898.9 1006.8,767.4 964.4,783.6" fill="#F95350"/><polygon points="964.4,853.1 1006.8,836.9 1006.8,767.4 964.4,783.6" fill="#DE3359"/><polygon points="964.4,791.1 1006.8,774.9 1006.8,767.4 964.4,783.6" fill="#B81D62"/><polygon points="937.5,758.0 964.4,783.6 1006.8,767.4 979.9,741.8" fill="#B81D62"/><path class="b" d="M937.5,758.0 L964.4,783.6 L1006.8,767.4 L979.9,741.8 Z M937.5,758.0 L937.5,1137.4 M964.4,783.6 L964.4,1163.1 M1006.8,767.4 L1006.8,1146.9"/>
<polygon points="866.8,1164.4 893.7,1190.0 893.7,904.8 866.8,879.2" fill="#FFEDB0"/><polygon points="866.8,1102.4 893.7,1128.0 893.7,904.8 866.8,879.2" fill="#FEC48A"/><polygon points="866.8,1040.4 893.7,1066.0 893.7,904.8 866.8,879.2" fill="#FD9F6A"/><polygon points="866.8,978.4 893.7,1004.0 893.7,904.8 866.8,879.2" fill="#FD7A54"/><polygon points="866.8,916.4 893.7,942.0 893.7,904.8 866.8,879.2" fill="#F95350"/><polygon points="893.7,1190.0 936.2,1173.9 936.2,888.7 893.7,904.8" fill="#FFEDB0"/><polygon points="893.7,1128.0 936.2,1111.9 936.2,888.7 893.7,904.8" fill="#FEC48A"/><polygon points="893.7,1066.0 936.2,1049.9 936.2,888.7 893.7,904.8" fill="#FD9F6A"/><polygon points="893.7,1004.0 936.2,987.9 936.2,888.7 893.7,904.8" fill="#FD7A54"/><polygon points="893.7,942.0 936.2,925.9 936.2,888.7 893.7,904.8" fill="#F95350"/><polygon points="866.8,879.2 893.7,904.8 936.2,888.7 909.2,863.0" fill="#F95350"/><path class="b" d="M866.8,879.2 L893.7,904.8 L936.2,888.7 L909.2,863.0 Z M866.8,879.2 L866.8,1164.4 M893.7,904.8 L893.7,1190.0 M936.2,888.7 L936.2,1173.9"/>
<polygon points="796.1,1191.4 823.1,1217.0 823.1,917.0 796.1,891.3" fill="#FFEDB0"/><polygon points="796.1,1129.4 823.1,1155.0 823.1,917.0 796.1,891.3" fill="#FEC48A"/><polygon points="796.1,1067.4 823.1,1093.0 823.1,917.0 796.1,891.3" fill="#FD9F6A"/><polygon points="796.1,1005.4 823.1,1031.0 823.1,917.0 796.1,891.3" fill="#FD7A54"/><polygon points="796.1,943.4 823.1,969.0 823.1,917.0 796.1,891.3" fill="#F95350"/><polygon points="823.1,1217.0 865.5,1200.8 865.5,900.8 823.1,917.0" fill="#FFEDB0"/><polygon points="823.1,1155.0 865.5,1138.8 865.5,900.8 823.1,917.0" fill="#FEC48A"/><polygon points="823.1,1093.0 865.5,1076.8 865.5,900.8 823.1,917.0" fill="#FD9F6A"/><polygon points="823.1,1031.0 865.5,1014.8 865.5,900.8 823.1,917.0" fill="#FD7A54"/><polygon points="823.1,969.0 865.5,952.8 865.5,900.8 823.1,917.0" fill="#F95350"/><polygon points="796.1,891.3 823.1,917.0 865.5,900.8 838.6,875.1" fill="#F95350"/><path class="b" d="M796.1,891.3 L823.1,917.0 L865.5,900.8 L838.6,875.1 Z M796.1,891.3 L796.1,1191.4 M823.1,917.0 L823.1,1217.0 M865.5,900.8 L865.5,1200.8"/>
<polygon points="725.5,1218.4 752.4,1244.0 752.4,852.2 725.5,826.6" fill="#FFEDB0"/><polygon points="725.5,1156.4 752.4,1182.0 752.4,852.2 725.5,826.6" fill="#FEC48A"/><polygon points="725.5,1094.4 752.4,1120.0 752.4,852.2 725.5,826.6" fill="#FD9F6A"/><polygon points="725.5,1032.4 752.4,1058.0 752.4,852.2 725.5,826.6" fill="#FD7A54"/><polygon points="725.5,970.4 752.4,996.0 752.4,852.2 725.5,826.6" fill="#F95350"/><polygon points="725.5,908.4 752.4,934.0 752.4,852.2 725.5,826.6" fill="#DE3359"/><polygon points="725.5,846.4 752.4,872.0 752.4,852.2 725.5,826.6" fill="#B81D62"/><polygon points="752.4,1244.0 794.8,1227.8 794.8,836.0 752.4,852.2" fill="#FFEDB0"/><polygon points="752.4,1182.0 794.8,1165.8 794.8,836.0 752.4,852.2" fill="#FEC48A"/><polygon points="752.4,1120.0 794.8,1103.8 794.8,836.0 752.4,852.2" fill="#FD9F6A"/><polygon points="752.4,1058.0 794.8,1041.8 794.8,836.0 752.4,852.2" fill="#FD7A54"/><polygon points="752.4,996.0 794.8,979.8 794.8,836.0 752.4,852.2" fill="#F95350"/><polygon points="752.4,934.0 794.8,917.8 794.8,836.0 752.4,852.2" fill="#DE3359"/><polygon points="752.4,872.0 794.8,855.8 794.8,836.0 752.4,852.2" fill="#B81D62"/><polygon points="725.5,826.6 752.4,852.2 794.8,836.0 767.9,810.4" fill="#B81D62"/><path class="b" d="M725.5,826.6 L752.4,852.2 L794.8,836.0 L767.9,810.4 Z M725.5,826.6 L725.5,1218.4 M752.4,852.2 L752.4,1244.0 M794.8,836.0 L794.8,1227.8"/>
<polygon points="654.8,1245.4 681.7,1271.0 681.7,907.7 654.8,882.1" fill="#FFEDB0"/><polygon points="654.8,1183.4 681.7,1209.0 681.7,907.7 654.8,882.1" fill="#FEC48A"/><polygon points="654.8,1121.4 681.7,1147.0 681.7,907.7 654.8,882.1" fill="#FD9F6A"/><polygon points="654.8,1059.4 681.7,1085.0 681.7,907.7 654.8,882.1" fill="#FD7A54"/><polygon points="654.8,997.4 681.7,1023.0 681.7,907.7 654.8,882.1" fill="#F95350"/><polygon points="654.8,935.4 681.7,961.0 681.7,907.7 654.8,882.1" fill="#DE3359"/><polygon points="681.7,1271.0 724.1,1254.8 724.1,891.5 681.7,907.7" fill="#FFEDB0"/><polygon points="681.7,1209.0 724.1,1192.8 724.1,891.5 681.7,907.7" fill="#FEC48A"/><polygon points="681.7,1147.0 724.1,1130.8 724.1,891.5 681.7,907.7" fill="#FD9F6A"/><polygon points="681.7,1085.0 724.1,1068.8 724.1,891.5 681.7,907.7" fill="#FD7A54"/><polygon points="681.7,1023.0 724.1,1006.8 724.1,891.5 681.7,907.7" fill="#F95350"/><polygon points="681.7,961.0 724.1,944.8 724.1,891.5 681.7,907.7" fill="#DE3359"/><polygon points="654.8,882.1 681.7,907.7 724.1,891.5 697.2,865.9" fill="#DE3359"/><path class="b" d="M654.8,882.1 L681.7,907.7 L724.1,891.5 L697.2,865.9 Z M654.8,882.1 L654.8,1245.4 M681.7,907.7 L681.7,1271.0 M724.1,891.5 L724.1,1254.8"/>
<polygon points="584.1,1272.4 611.0,1298.0 611.0,953.3 584.1,927.7" fill="#FFEDB0"/><polygon points="584.1,1210.4 611.0,1236.0 611.0,953.3 584.1,927.7" fill="#FEC48A"/><polygon points="584.1,1148.4 611.0,1174.0 611.0,953.3 584.1,927.7" fill="#FD9F6A"/><polygon points="584.1,1086.4 611.0,1112.0 611.0,953.3 584.1,927.7" fill="#FD7A54"/><polygon points="584.1,1024.4 611.0,1050.0 611.0,953.3 584.1,927.7" fill="#F95350"/><polygon points="584.1,962.4 611.0,988.0 611.0,953.3 584.1,927.7" fill="#DE3359"/><polygon points="611.0,1298.0 653.4,1281.8 653.4,937.1 611.0,953.3" fill="#FFEDB0"/><polygon points="611.0,1236.0 653.4,1219.8 653.4,937.1 611.0,953.3" fill="#FEC48A"/><polygon points="611.0,1174.0 653.4,1157.8 653.4,937.1 611.0,953.3" fill="#FD9F6A"/><polygon points="611.0,1112.0 653.4,1095.8 653.4,937.1 611.0,953.3" fill="#FD7A54"/><polygon points="611.0,1050.0 653.4,1033.8 653.4,937.1 611.0,953.3" fill="#F95350"/><polygon points="611.0,988.0 653.4,971.8 653.4,937.1 611.0,953.3" fill="#DE3359"/><polygon points="584.1,927.7 611.0,953.3 653.4,937.1 626.5,911.5" fill="#DE3359"/><path class="b" d="M584.1,927.7 L611.0,953.3 L653.4,937.1 L626.5,911.5 Z M584.1,927.7 L584.1,1272.4 M611.0,953.3 L611.0,1298.0 M653.4,937.1 L653.4,1281.8"/>
<polygon points="513.4,1299.4 540.3,1325.0 540.3,979.0 513.4,953.4" fill="#FFEDB0"/><polygon points="513.4,1237.4 540.3,1263.0 540.3,979.0 513.4,953.4" fill="#FEC48A"/><polygon points="513.4,1175.4 540.3,1201.0 540.3,979.0 513.4,953.4" fill="#FD9F6A"/><polygon points="513.4,1113.4 540.3,1139.0 540.3,979.0 513.4,953.4" fill="#FD7A54"/><polygon points="513.4,1051.4 540.3,1077.0 540.3,979.0 513.4,953.4" fill="#F95350"/><polygon points="513.4,989.4 540.3,1015.0 540.3,979.0 513.4,953.4" fill="#DE3359"/><polygon points="540.3,1325.0 582.7,1308.8 582.7,962.8 540.3,979.0" fill="#FFEDB0"/><polygon points="540.3,1263.0 582.7,1246.8 582.7,962.8 540.3,979.0" fill="#FEC48A"/><polygon points="540.3,1201.0 582.7,1184.8 582.7,962.8 540.3,979.0" fill="#FD9F6A"/><polygon points="540.3,1139.0 582.7,1122.8 582.7,962.8 540.3,979.0" fill="#FD7A54"/><polygon points="540.3,1077.0 582.7,1060.8 582.7,962.8 540.3,979.0" fill="#F95350"/><polygon points="540.3,1015.0 582.7,998.8 582.7,962.8 540.3,979.0" fill="#DE3359"/><polygon points="513.4,953.4 540.3,979.0 582.7,962.8 555.8,937.2" fill="#DE3359"/><path class="b" d="M513.4,953.4 L540.3,979.0 L582.7,962.8 L555.8,937.2 Z M513.4,953.4 L513.4,1299.4 M540.3,979.0 L540.3,1325.0 M582.7,962.8 L582.7,1308.8"/>
<polygon points="442.7,1326.4 469.6,1352.0 469.6,1019.7 442.7,994.0" fill="#FFEDB0"/><polygon points="442.7,1264.4 469.6,1290.0 469.6,1019.7 442.7,994.0" fill="#FEC48A"/><polygon points="442.7,1202.4 469.6,1228.0 469.6,1019.7 442.7,994.0" fill="#FD9F6A"/><polygon points="442.7,1140.4 469.6,1166.0 469.6,1019.7 442.7,994.0" fill="#FD7A54"/><polygon points="442.7,1078.4 469.6,1104.0 469.6,1019.7 442.7,994.0" fill="#F95350"/><polygon points="442.7,1016.4 469.6,1042.0 469.6,1019.7 442.7,994.0" fill="#DE3359"/><polygon points="469.6,1352.0 512.0,1335.8 512.0,1003.5 469.6,1019.7" fill="#FFEDB0"/><polygon points="469.6,1290.0 512.0,1273.8 512.0,1003.5 469.6,1019.7" fill="#FEC48A"/><polygon points="469.6,1228.0 512.0,1211.8 512.0,1003.5 469.6,1019.7" fill="#FD9F6A"/><polygon points="469.6,1166.0 512.0,1149.8 512.0,1003.5 469.6,1019.7" fill="#FD7A54"/><polygon points="469.6,1104.0 512.0,1087.8 512.0,1003.5 469.6,1019.7" fill="#F95350"/><polygon points="469.6,1042.0 512.0,1025.8 512.0,1003.5 469.6,1019.7" fill="#DE3359"/><polygon points="442.7,994.0 469.6,1019.7 512.0,1003.5 485.1,977.8" fill="#DE3359"/><path class="b" d="M442.7,994.0 L469.6,1019.7 L512.0,1003.5 L485.1,977.8 Z M442.7,994.0 L442.7,1326.4 M469.6,1019.7 L469.6,1352.0 M512.0,1003.5 L512.0,1335.8"/>
<polygon points="1406.5,1018.2 1433.4,1043.8 1433.4,911.2 1406.5,885.5" fill="#FFEDB0"/><polygon points="1406.5,956.2 1433.4,981.8 1433.4,911.2 1406.5,885.5" fill="#FEC48A"/><polygon points="1406.5,894.2 1433.4,919.8 1433.4,911.2 1406.5,885.5" fill="#FD9F6A"/><polygon points="1433.4,1043.8 1475.8,1027.6 1475.8,895.0 1433.4,911.2" fill="#FFEDB0"/><polygon points="1433.4,981.8 1475.8,965.6 1475.8,895.0 1433.4,911.2" fill="#FEC48A"/><polygon points="1433.4,919.8 1475.8,903.6 1475.8,895.0 1433.4,911.2" fill="#FD9F6A"/><polygon points="1406.5,885.5 1433.4,911.2 1475.8,895.0 1448.9,869.3" fill="#FD9F6A"/><path class="b" d="M1406.5,885.5 L1433.4,911.2 L1475.8,895.0 L1448.9,869.3 Z M1406.5,885.5 L1406.5,1018.2 M1433.4,911.2 L1433.4,1043.8 M1475.8,895.0 L1475.8,1027.6"/>
<polygon points="1335.8,1045.2 1362.7,1070.8 1362.7,936.9 1335.8,911.3" fill="#FFEDB0"/><polygon points="1335.8,983.2 1362.7,1008.8 1362.7,936.9 1335.8,911.3" fill="#FEC48A"/><polygon points="1335.8,921.2 1362.7,946.8 1362.7,936.9 1335.8,911.3" fill="#FD9F6A"/><polygon points="1362.7,1070.8 1405.1,1054.6 1405.1,920.7 1362.7,936.9" fill="#FFEDB0"/><polygon points="1362.7,1008.8 1405.1,992.6 1405.1,920.7 1362.7,936.9" fill="#FEC48A"/><polygon points="1362.7,946.8 1405.1,930.6 1405.1,920.7 1362.7,936.9" fill="#FD9F6A"/><polygon points="1335.8,911.3 1362.7,936.9 1405.1,920.7 1378.2,895.1" fill="#FD9F6A"/><path class="b" d="M1335.8,911.3 L1362.7,936.9 L1405.1,920.7 L1378.2,895.1 Z M1335.8,911.3 L1335.8,1045.2 M1362.7,936.9 L1362.7,1070.8 M1405.1,920.7 L1405.1,1054.6"/>
<polygon points="1265.1,1072.2 1292.0,1097.8 1292.0,987.5 1265.1,961.8" fill="#FFEDB0"/><polygon points="1265.1,1010.2 1292.0,1035.8 1292.0,987.5 1265.1,961.8" fill="#FEC48A"/><polygon points="1292.0,1097.8 1334.4,1081.6 1334.4,971.3 1292.0,987.5" fill="#FFEDB0"/><polygon points="1292.0,1035.8 1334.4,1019.6 1334.4,971.3 1292.0,987.5" fill="#FEC48A"/><polygon points="1265.1,961.8 1292.0,987.5 1334.4,971.3 1307.5,945.6" fill="#FEC48A"/><path class="b" d="M1265.1,961.8 L1292.0,987.5 L1334.4,971.3 L1307.5,945.6 Z M1265.1,961.8 L1265.1,1072.2 M1292.0,987.5 L1292.0,1097.8 M1334.4,971.3 L1334.4,1081.6"/>
<polygon points="1194.4,1099.2 1221.3,1124.8 1221.3,1004.5 1194.4,978.9" fill="#FFEDB0"/><polygon points="1194.4,1037.2 1221.3,1062.8 1221.3,1004.5 1194.4,978.9" fill="#FEC48A"/><polygon points="1221.3,1124.8 1263.7,1108.6 1263.7,988.3 1221.3,1004.5" fill="#FFEDB0"/><polygon points="1221.3,1062.8 1263.7,1046.6 1263.7,988.3 1221.3,1004.5" fill="#FEC48A"/><polygon points="1194.4,978.9 1221.3,1004.5 1263.7,988.3 1236.8,962.7" fill="#FEC48A"/><path class="b" d="M1194.4,978.9 L1221.3,1004.5 L1263.7,988.3 L1236.8,962.7 Z M1194.4,978.9 L1194.4,1099.2 M1221.3,1004.5 L1221.3,1124.8 M1263.7,988.3 L1263.7,1108.6"/>
<polygon points="1123.7,1126.2 1150.6,1151.8 1150.6,1048.9 1123.7,1023.2" fill="#FFEDB0"/><polygon points="1123.7,1064.2 1150.6,1089.8 1150.6,1048.9 1123.7,1023.2" fill="#FEC48A"/><polygon points="1150.6,1151.8 1193.1,1135.6 1193.1,1032.7 1150.6,1048.9" fill="#FFEDB0"/><polygon points="1150.6,1089.8 1193.1,1073.6 1193.1,1032.7 1150.6,1048.9" fill="#FEC48A"/><polygon points="1123.7,1023.2 1150.6,1048.9 1193.1,1032.7 1166.1,1007.1" fill="#FEC48A"/><path class="b" d="M1123.7,1023.2 L1150.6,1048.9 L1193.1,1032.7 L1166.1,1007.1 Z M1123.7,1023.2 L1123.7,1126.2 M1150.6,1048.9 L1150.6,1151.8 M1193.1,1032.7 L1193.1,1135.6"/>
<polygon points="1053.1,1153.2 1080.0,1178.8 1080.0,1057.3 1053.1,1031.6" fill="#FFEDB0"/><polygon points="1053.1,1091.2 1080.0,1116.8 1080.0,1057.3 1053.1,1031.6" fill="#FEC48A"/><polygon points="1080.0,1178.8 1122.4,1162.6 1122.4,1041.1 1080.0,1057.3" fill="#FFEDB0"/><polygon points="1080.0,1116.8 1122.4,1100.6 1122.4,1041.1 1080.0,1057.3" fill="#FEC48A"/><polygon points="1053.1,1031.6 1080.0,1057.3 1122.4,1041.1 1095.5,1015.4" fill="#FEC48A"/><path class="b" d="M1053.1,1031.6 L1080.0,1057.3 L1122.4,1041.1 L1095.5,1015.4 Z M1053.1,1031.6 L1053.1,1153.2 M1080.0,1057.3 L1080.0,1178.8 M1122.4,1041.1 L1122.4,1162.6"/>
<polygon points="982.4,1180.1 1009.3,1205.8 1009.3,1068.1 982.4,1042.5" fill="#FFEDB0"/><polygon points="982.4,1118.1 1009.3,1143.8 1009.3,1068.1 982.4,1042.5" fill="#FEC48A"/><polygon points="982.4,1056.1 1009.3,1081.8 1009.3,1068.1 982.4,1042.5" fill="#FD9F6A"/><polygon points="1009.3,1205.8 1051.7,1189.6 1051.7,1051.9 1009.3,1068.1" fill="#FFEDB0"/><polygon points="1009.3,1143.8 1051.7,1127.6 1051.7,1051.9 1009.3,1068.1" fill="#FEC48A"/><polygon points="1009.3,1081.8 1051.7,1065.6 1051.7,1051.9 1009.3,1068.1" fill="#FD9F6A"/><polygon points="982.4,1042.5 1009.3,1068.1 1051.7,1051.9 1024.8,1026.3" fill="#FD9F6A"/><path class="b" d="M982.4,1042.5 L1009.3,1068.1 L1051.7,1051.9 L1024.8,1026.3 Z M982.4,1042.5 L982.4,1180.1 M1009.3,1068.1 L1009.3,1205.8 M1051.7,1051.9 L1051.7,1189.6"/>
<polygon points="911.7,1207.1 938.6,1232.8 938.6,1106.3 911.7,1080.7" fill="#FFEDB0"/><polygon points="911.7,1145.1 938.6,1170.8 938.6,1106.3 911.7,1080.7" fill="#FEC48A"/><polygon points="911.7,1083.1 938.6,1108.8 938.6,1106.3 911.7,1080.7" fill="#FD9F6A"/><polygon points="938.6,1232.8 981.0,1216.6 981.0,1090.1 938.6,1106.3" fill="#FFEDB0"/><polygon points="938.6,1170.8 981.0,1154.6 981.0,1090.1 938.6,1106.3" fill="#FEC48A"/><polygon points="938.6,1108.8 981.0,1092.6 981.0,1090.1 938.6,1106.3" fill="#FD9F6A"/><polygon points="911.7,1080.7 938.6,1106.3 981.0,1090.1 954.1,1064.5" fill="#FD9F6A"/><path class="b" d="M911.7,1080.7 L938.6,1106.3 L981.0,1090.1 L954.1,1064.5 Z M911.7,1080.7 L911.7,1207.1 M938.6,1106.3 L938.6,1232.8 M981.0,1090.1 L981.0,1216.6"/>
<polygon points="841.0,1234.1 867.9,1259.8 867.9,1071.3 841.0,1045.6" fill="#FFEDB0"/><polygon points="841.0,1172.1 867.9,1197.8 867.9,1071.3 841.0,1045.6" fill="#FEC48A"/><polygon points="841.0,1110.1 867.9,1135.8 867.9,1071.3 841.0,1045.6" fill="#FD9F6A"/><polygon points="841.0,1048.1 867.9,1073.8 867.9,1071.3 841.0,1045.6" fill="#FD7A54"/><polygon points="867.9,1259.8 910.3,1243.6 910.3,1055.1 867.9,1071.3" fill="#FFEDB0"/><polygon points="867.9,1197.8 910.3,1181.6 910.3,1055.1 867.9,1071.3" fill="#FEC48A"/><polygon points="867.9,1135.8 910.3,1119.6 910.3,1055.1 867.9,1071.3" fill="#FD9F6A"/><polygon points="867.9,1073.8 910.3,1057.6 910.3,1055.1 867.9,1071.3" fill="#FD7A54"/><polygon points="841.0,1045.6 867.9,1071.3 910.3,1055.1 883.4,1029.5" fill="#FD7A54"/><path class="b" d="M841.0,1045.6 L867.9,1071.3 L910.3,1055.1 L883.4,1029.5 Z M841.0,1045.6 L841.0,1234.1 M867.9,1071.3 L867.9,1259.8 M910.3,1055.1 L910.3,1243.6"/>
<polygon points="770.3,1261.1 797.2,1286.7 797.2,1094.5 770.3,1068.9" fill="#FFEDB0"/><polygon points="770.3,1199.1 797.2,1224.7 797.2,1094.5 770.3,1068.9" fill="#FEC48A"/><polygon points="770.3,1137.1 797.2,1162.7 797.2,1094.5 770.3,1068.9" fill="#FD9F6A"/><polygon points="770.3,1075.1 797.2,1100.7 797.2,1094.5 770.3,1068.9" fill="#FD7A54"/><polygon points="797.2,1286.7 839.6,1270.6 839.6,1078.4 797.2,1094.5" fill="#FFEDB0"/><polygon points="797.2,1224.7 839.6,1208.6 839.6,1078.4 797.2,1094.5" fill="#FEC48A"/><polygon points="797.2,1162.7 839.6,1146.6 839.6,1078.4 797.2,1094.5" fill="#FD9F6A"/><polygon points="797.2,1100.7 839.6,1084.6 839.6,1078.4 797.2,1094.5" fill="#FD7A54"/><polygon points="770.3,1068.9 797.2,1094.5 839.6,1078.4 812.7,1052.7" fill="#FD7A54"/><path class="b" d="M770.3,1068.9 L797.2,1094.5 L839.6,1078.4 L812.7,1052.7 Z M770.3,1068.9 L770.3,1261.1 M797.2,1094.5 L797.2,1286.7 M839.6,1078.4 L839.6,1270.6"/>
<polygon points="699.6,1288.1 726.5,1313.7 726.5,1090.5 699.6,1064.9" fill="#FFEDB0"/><polygon points="699.6,1226.1 726.5,1251.7 726.5,1090.5 699.6,1064.9" fill="#FEC48A"/><polygon points="699.6,1164.1 726.5,1189.7 726.5,1090.5 699.6,1064.9" fill="#FD9F6A"/><polygon points="699.6,1102.1 726.5,1127.7 726.5,1090.5 699.6,1064.9" fill="#FD7A54"/><polygon points="726.5,1313.7 769.0,1297.5 769.0,1074.3 726.5,1090.5" fill="#FFEDB0"/><polygon points="726.5,1251.7 769.0,1235.5 769.0,1074.3 726.5,1090.5" fill="#FEC48A"/><polygon points="726.5,1189.7 769.0,1173.5 769.0,1074.3 726.5,1090.5" fill="#FD9F6A"/><polygon points="726.5,1127.7 769.0,1111.5 769.0,1074.3 726.5,1090.5" fill="#FD7A54"/><polygon points="699.6,1064.9 726.5,1090.5 769.0,1074.3 742.0,1048.7" fill="#FD7A54"/><path class="b" d="M699.6,1064.9 L726.5,1090.5 L769.0,1074.3 L742.0,1048.7 Z M699.6,1064.9 L699.6,1288.1 M726.5,1090.5 L726.5,1313.7 M769.0,1074.3 L769.0,1297.5"/>
<polygon points="628.9,1315.1 655.9,1340.7 655.9,1089.0 628.9,1063.4" fill="#FFEDB0"/><polygon points="628.9,1253.1 655.9,1278.7 655.9,1089.0 628.9,1063.4" fill="#FEC48A"/><polygon points="628.9,1191.1 655.9,1216.7 655.9,1089.0 628.9,1063.4" fill="#FD9F6A"/><polygon points="628.9,1129.1 655.9,1154.7 655.9,1089.0 628.9,1063.4" fill="#FD7A54"/><polygon points="628.9,1067.1 655.9,1092.7 655.9,1089.0 628.9,1063.4" fill="#F95350"/><polygon points="655.9,1340.7 698.3,1324.5 698.3,1072.8 655.9,1089.0" fill="#FFEDB0"/><polygon points="655.9,1278.7 698.3,1262.5 698.3,1072.8 655.9,1089.0" fill="#FEC48A"/><polygon points="655.9,1216.7 698.3,1200.5 698.3,1072.8 655.9,1089.0" fill="#FD9F6A"/><polygon points="655.9,1154.7 698.3,1138.5 698.3,1072.8 655.9,1089.0" fill="#FD7A54"/><polygon points="655.9,1092.7 698.3,1076.5 698.3,1072.8 655.9,1089.0" fill="#F95350"/><polygon points="628.9,1063.4 655.9,1089.0 698.3,1072.8 671.4,1047.2" fill="#F95350"/><path class="b" d="M628.9,1063.4 L655.9,1089.0 L698.3,1072.8 L671.4,1047.2 Z M628.9,1063.4 L628.9,1315.1 M655.9,1089.0 L655.9,1340.7 M698.3,1072.8 L698.3,1324.5"/>
<polygon points="558.3,1342.1 585.2,1367.7 585.2,1132.1 558.3,1106.5" fill="#FFEDB0"/><polygon points="558.3,1280.1 585.2,1305.7 585.2,1132.1 558.3,1106.5" fill="#FEC48A"/><polygon points="558.3,1218.1 585.2,1243.7 585.2,1132.1 558.3,1106.5" fill="#FD9F6A"/><polygon points="558.3,1156.1 585.2,1181.7 585.2,1132.1 558.3,1106.5" fill="#FD7A54"/><polygon points="585.2,1367.7 627.6,1351.5 627.6,1115.9 585.2,1132.1" fill="#FFEDB0"/><polygon points="585.2,1305.7 627.6,1289.5 627.6,1115.9 585.2,1132.1" fill="#FEC48A"/><polygon points="585.2,1243.7 627.6,1227.5 627.6,1115.9 585.2,1132.1" fill="#FD9F6A"/><polygon points="585.2,1181.7 627.6,1165.5 627.6,1115.9 585.2,1132.1" fill="#FD7A54"/><polygon points="558.3,1106.5 585.2,1132.1 627.6,1115.9 600.7,1090.3" fill="#FD7A54"/><path class="b" d="M558.3,1106.5 L585.2,1132.1 L627.6,1115.9 L600.7,1090.3 Z M558.3,1106.5 L558.3,1342.1 M585.2,1132.1 L585.2,1367.7 M627.6,1115.9 L627.6,1351.5"/>
<polygon points="1451.3,1060.9 1478.2,1086.6 1478.2,1004.7 1451.3,979.1" fill="#FFEDB0"/><polygon points="1451.3,998.9 1478.2,1024.6 1478.2,1004.7 1451.3,979.1" fill="#FEC48A"/><polygon points="1478.2,1086.6 1520.7,1070.4 1520.7,988.5 1478.2,1004.7" fill="#FFEDB0"/><polygon points="1478.2,1024.6 1520.7,1008.4 1520.7,988.5 1478.2,1004.7" fill="#FEC48A"/><polygon points="1451.3,979.1 1478.2,1004.7 1520.7,988.5 1493.7,962.9" fill="#FEC48A"/><path class="b" d="M1451.3,979.1 L1478.2,1004.7 L1520.7,988.5 L1493.7,962.9 Z M1451.3,979.1 L1451.3,1060.9 M1478.2,1004.7 L1478.2,1086.6 M1520.7,988.5 L1520.7,1070.4"/>
<polygon points="1380.6,1087.9 1407.6,1113.5 1407.6,997.0 1380.6,971.4" fill="#FFEDB0"/><polygon points="1380.6,1025.9 1407.6,1051.5 1407.6,997.0 1380.6,971.4" fill="#FEC48A"/><polygon points="1407.6,1113.5 1450.0,1097.4 1450.0,980.8 1407.6,997.0" fill="#FFEDB0"/><polygon points="1407.6,1051.5 1450.0,1035.4 1450.0,980.8 1407.6,997.0" fill="#FEC48A"/><polygon points="1380.6,971.4 1407.6,997.0 1450.0,980.8 1423.1,955.2" fill="#FEC48A"/><path class="b" d="M1380.6,971.4 L1407.6,997.0 L1450.0,980.8 L1423.1,955.2 Z M1380.6,971.4 L1380.6,1087.9 M1407.6,997.0 L1407.6,1113.5 M1450.0,980.8 L1450.0,1097.4"/>
<polygon points="1310.0,1114.9 1336.9,1140.5 1336.9,841.7 1310.0,816.1" fill="#FFEDB0"/><polygon points="1310.0,1052.9 1336.9,1078.5 1336.9,841.7 1310.0,816.1" fill="#FEC48A"/><polygon points="1310.0,990.9 1336.9,1016.5 1336.9,841.7 1310.0,816.1" fill="#FD9F6A"/><polygon points="1310.0,928.9 1336.9,954.5 1336.9,841.7 1310.0,816.1" fill="#FD7A54"/><polygon points="1310.0,866.9 1336.9,892.5 1336.9,841.7 1310.0,816.1" fill="#F95350"/><polygon points="1336.9,1140.5 1379.3,1124.3 1379.3,825.5 1336.9,841.7" fill="#FFEDB0"/><polygon points="1336.9,1078.5 1379.3,1062.3 1379.3,825.5 1336.9,841.7" fill="#FEC48A"/><polygon points="1336.9,1016.5 1379.3,1000.3 1379.3,825.5 1336.9,841.7" fill="#FD9F6A"/><polygon points="1336.9,954.5 1379.3,938.3 1379.3,825.5 1336.9,841.7" fill="#FD7A54"/><polygon points="1336.9,892.5 1379.3,876.3 1379.3,825.5 1336.9,841.7" fill="#F95350"/><polygon points="1310.0,816.1 1336.9,841.7 1379.3,825.5 1352.4,799.9" fill="#F95350"/><path class="b" d="M1310.0,816.1 L1336.9,841.7 L1379.3,825.5 L1352.4,799.9 Z M1310.0,816.1 L1310.0,1114.9 M1336.9,841.7 L1336.9,1140.5 M1379.3,825.5 L1379.3,1124.3"/>
<polygon points="1239.3,1141.9 1266.2,1167.5 1266.2,1073.3 1239.3,1047.7" fill="#FFEDB0"/><polygon points="1239.3,1079.9 1266.2,1105.5 1266.2,1073.3 1239.3,1047.7" fill="#FEC48A"/><polygon points="1266.2,1167.5 1308.6,1151.3 1308.6,1057.1 1266.2,1073.3" fill="#FFEDB0"/><polygon points="1266.2,1105.5 1308.6,1089.3 1308.6,1057.1 1266.2,1073.3" fill="#FEC48A"/><polygon points="1239.3,1047.7 1266.2,1073.3 1308.6,1057.1 1281.7,1031.5" fill="#FEC48A"/><path class="b" d="M1239.3,1047.7 L1266.2,1073.3 L1308.6,1057.1 L1281.7,1031.5 Z M1239.3,1047.7 L1239.3,1141.9 M1266.2,1073.3 L1266.2,1167.5 M1308.6,1057.1 L1308.6,1151.3"/>
<polygon points="1168.6,1168.9 1195.5,1194.5 1195.5,1122.6 1168.6,1097.0" fill="#FFEDB0"/><polygon points="1168.6,1106.9 1195.5,1132.5 1195.5,1122.6 1168.6,1097.0" fill="#FEC48A"/><polygon points="1195.5,1194.5 1237.9,1178.3 1237.9,1106.4 1195.5,1122.6" fill="#FFEDB0"/><polygon points="1195.5,1132.5 1237.9,1116.3 1237.9,1106.4 1195.5,1122.6" fill="#FEC48A"/><polygon points="1168.6,1097.0 1195.5,1122.6 1237.9,1106.4 1211.0,1080.8" fill="#FEC48A"/><path class="b" d="M1168.6,1097.0 L1195.5,1122.6 L1237.9,1106.4 L1211.0,1080.8 Z M1168.6,1097.0 L1168.6,1168.9 M1195.5,1122.6 L1195.5,1194.5 M1237.9,1106.4 L1237.9,1178.3"/>
<polygon points="1097.9,1195.9 1124.8,1221.5 1124.8,1093.8 1097.9,1068.2" fill="#FFEDB0"/><polygon points="1097.9,1133.9 1124.8,1159.5 1124.8,1093.8 1097.9,1068.2" fill="#FEC48A"/><polygon points="1097.9,1071.9 1124.8,1097.5 1124.8,1093.8 1097.9,1068.2" fill="#FD9F6A"/><polygon points="1124.8,1221.5 1167.2,1205.3 1167.2,1077.6 1124.8,1093.8" fill="#FFEDB0"/><polygon points="1124.8,1159.5 1167.2,1143.3 1167.2,1077.6 1124.8,1093.8" fill="#FEC48A"/><polygon points="1124.8,1097.5 1167.2,1081.3 1167.2,1077.6 1124.8,1093.8" fill="#FD9F6A"/><polygon points="1097.9,1068.2 1124.8,1093.8 1167.2,1077.6 1140.3,1052.0" fill="#FD9F6A"/><path class="b" d="M1097.9,1068.2 L1124.8,1093.8 L1167.2,1077.6 L1140.3,1052.0 Z M1097.9,1068.2 L1097.9,1195.9 M1124.8,1093.8 L1124.8,1221.5 M1167.2,1077.6 L1167.2,1205.3"/>
<polygon points="1027.2,1222.9 1054.1,1248.5 1054.1,1174.1 1027.2,1148.5" fill="#FFEDB0"/><polygon points="1027.2,1160.9 1054.1,1186.5 1054.1,1174.1 1027.2,1148.5" fill="#FEC48A"/><polygon points="1054.1,1248.5 1096.5,1232.3 1096.5,1157.9 1054.1,1174.1" fill="#FFEDB0"/><polygon points="1054.1,1186.5 1096.5,1170.3 1096.5,1157.9 1054.1,1174.1" fill="#FEC48A"/><polygon points="1027.2,1148.5 1054.1,1174.1 1096.5,1157.9 1069.6,1132.3" fill="#FEC48A"/><path class="b" d="M1027.2,1148.5 L1054.1,1174.1 L1096.5,1157.9 L1069.6,1132.3 Z M1027.2,1148.5 L1027.2,1222.9 M1054.1,1174.1 L1054.1,1248.5 M1096.5,1157.9 L1096.5,1232.3"/>
<polygon points="956.5,1249.9 983.4,1275.5 983.4,1116.8 956.5,1091.1" fill="#FFEDB0"/><polygon points="956.5,1187.9 983.4,1213.5 983.4,1116.8 956.5,1091.1" fill="#FEC48A"/><polygon points="956.5,1125.9 983.4,1151.5 983.4,1116.8 956.5,1091.1" fill="#FD9F6A"/><polygon points="983.4,1275.5 1025.9,1259.3 1025.9,1100.6 983.4,1116.8" fill="#FFEDB0"/><polygon points="983.4,1213.5 1025.9,1197.3 1025.9,1100.6 983.4,1116.8" fill="#FEC48A"/><polygon points="983.4,1151.5 1025.9,1135.3 1025.9,1100.6 983.4,1116.8" fill="#FD9F6A"/><polygon points="956.5,1091.1 983.4,1116.8 1025.9,1100.6 998.9,1074.9" fill="#FD9F6A"/><path class="b" d="M956.5,1091.1 L983.4,1116.8 L1025.9,1100.6 L998.9,1074.9 Z M956.5,1091.1 L956.5,1249.9 M983.4,1116.8 L983.4,1275.5 M1025.9,1100.6 L1025.9,1259.3"/>
<polygon points="885.9,1276.8 912.8,1302.5 912.8,1143.8 885.9,1118.1" fill="#FFEDB0"/><polygon points="885.9,1214.8 912.8,1240.5 912.8,1143.8 885.9,1118.1" fill="#FEC48A"/><polygon points="885.9,1152.8 912.8,1178.5 912.8,1143.8 885.9,1118.1" fill="#FD9F6A"/><polygon points="912.8,1302.5 955.2,1286.3 955.2,1127.6 912.8,1143.8" fill="#FFEDB0"/><polygon points="912.8,1240.5 955.2,1224.3 955.2,1127.6 912.8,1143.8" fill="#FEC48A"/><polygon points="912.8,1178.5 955.2,1162.3 955.2,1127.6 912.8,1143.8" fill="#FD9F6A"/><polygon points="885.9,1118.1 912.8,1143.8 955.2,1127.6 928.3,1101.9" fill="#FD9F6A"/><path class="b" d="M885.9,1118.1 L912.8,1143.8 L955.2,1127.6 L928.3,1101.9 Z M885.9,1118.1 L885.9,1276.8 M912.8,1143.8 L912.8,1302.5 M955.2,1127.6 L955.2,1286.3"/>
<polygon points="815.2,1303.8 842.1,1329.5 842.1,1209.2 815.2,1183.6" fill="#FFEDB0"/><polygon points="815.2,1241.8 842.1,1267.5 842.1,1209.2 815.2,1183.6" fill="#FEC48A"/><polygon points="842.1,1329.5 884.5,1313.3 884.5,1193.0 842.1,1209.2" fill="#FFEDB0"/><polygon points="842.1,1267.5 884.5,1251.3 884.5,1193.0 842.1,1209.2" fill="#FEC48A"/><polygon points="815.2,1183.6 842.1,1209.2 884.5,1193.0 857.6,1167.4" fill="#FEC48A"/><path class="b" d="M815.2,1183.6 L842.1,1209.2 L884.5,1193.0 L857.6,1167.4 Z M815.2,1183.6 L815.2,1303.8 M842.1,1209.2 L842.1,1329.5 M884.5,1193.0 L884.5,1313.3"/>
<polygon points="744.5,1330.8 771.4,1356.5 771.4,1072.5 744.5,1046.9" fill="#FFEDB0"/><polygon points="744.5,1268.8 771.4,1294.5 771.4,1072.5 744.5,1046.9" fill="#FEC48A"/><polygon points="744.5,1206.8 771.4,1232.5 771.4,1072.5 744.5,1046.9" fill="#FD9F6A"/><polygon points="744.5,1144.8 771.4,1170.5 771.4,1072.5 744.5,1046.9" fill="#FD7A54"/><polygon points="744.5,1082.8 771.4,1108.5 771.4,1072.5 744.5,1046.9" fill="#F95350"/><polygon points="771.4,1356.5 813.8,1340.3 813.8,1056.3 771.4,1072.5" fill="#FFEDB0"/><polygon points="771.4,1294.5 813.8,1278.3 813.8,1056.3 771.4,1072.5" fill="#FEC48A"/><polygon points="771.4,1232.5 813.8,1216.3 813.8,1056.3 771.4,1072.5" fill="#FD9F6A"/><polygon points="771.4,1170.5 813.8,1154.3 813.8,1056.3 771.4,1072.5" fill="#FD7A54"/><polygon points="771.4,1108.5 813.8,1092.3 813.8,1056.3 771.4,1072.5" fill="#F95350"/><polygon points="744.5,1046.9 771.4,1072.5 813.8,1056.3 786.9,1030.7" fill="#F95350"/><path class="b" d="M744.5,1046.9 L771.4,1072.5 L813.8,1056.3 L786.9,1030.7 Z M744.5,1046.9 L744.5,1330.8 M771.4,1072.5 L771.4,1356.5 M813.8,1056.3 L813.8,1340.3"/>
<polygon points="673.8,1357.8 700.7,1383.4 700.7,1128.0 673.8,1102.4" fill="#FFEDB0"/><polygon points="673.8,1295.8 700.7,1321.4 700.7,1128.0 673.8,1102.4" fill="#FEC48A"/><polygon points="673.8,1233.8 700.7,1259.4 700.7,1128.0 673.8,1102.4" fill="#FD9F6A"/><polygon points="673.8,1171.8 700.7,1197.4 700.7,1128.0 673.8,1102.4" fill="#FD7A54"/><polygon points="673.8,1109.8 700.7,1135.4 700.7,1128.0 673.8,1102.4" fill="#F95350"/><polygon points="700.7,1383.4 743.1,1367.3 743.1,1111.8 700.7,1128.0" fill="#FFEDB0"/><polygon points="700.7,1321.4 743.1,1305.3 743.1,1111.8 700.7,1128.0" fill="#FEC48A"/><polygon points="700.7,1259.4 743.1,1243.3 743.1,1111.8 700.7,1128.0" fill="#FD9F6A"/><polygon points="700.7,1197.4 743.1,1181.3 743.1,1111.8 700.7,1128.0" fill="#FD7A54"/><polygon points="700.7,1135.4 743.1,1119.3 743.1,1111.8 700.7,1128.0" fill="#F95350"/><polygon points="673.8,1102.4 700.7,1128.0 743.1,1111.8 716.2,1086.2" fill="#F95350"/><path class="b" d="M673.8,1102.4 L700.7,1128.0 L743.1,1111.8 L716.2,1086.2 Z M673.8,1102.4 L673.8,1357.8 M700.7,1128.0 L700.7,1383.4 M743.1,1111.8 L743.1,1367.3"/>
<polygon points="603.1,1384.8 630.0,1410.4 630.0,1160.0 603.1,1134.3" fill="#FFEDB0"/><polygon points="603.1,1322.8 630.0,1348.4 630.0,1160.0 603.1,1134.3" fill="#FEC48A"/><polygon points="603.1,1260.8 630.0,1286.4 630.0,1160.0 603.1,1134.3" fill="#FD9F6A"/><polygon points="603.1,1198.8 630.0,1224.4 630.0,1160.0 603.1,1134.3" fill="#FD7A54"/><polygon points="603.1,1136.8 630.0,1162.4 630.0,1160.0 603.1,1134.3" fill="#F95350"/><polygon points="630.0,1410.4 672.4,1394.2 672.4,1143.8 630.0,1160.0" fill="#FFEDB0"/><polygon points="630.0,1348.4 672.4,1332.2 672.4,1143.8 630.0,1160.0" fill="#FEC48A"/><polygon points="630.0,1286.4 672.4,1270.2 672.4,1143.8 630.0,1160.0" fill="#FD9F6A"/><polygon points="630.0,1224.4 672.4,1208.2 672.4,1143.8 630.0,1160.0" fill="#FD7A54"/><polygon points="630.0,1162.4 672.4,1146.2 672.4,1143.8 630.0,1160.0" fill="#F95350"/><polygon points="603.1,1134.3 630.0,1160.0 672.4,1143.8 645.5,1118.1" fill="#F95350"/><path class="b" d="M603.1,1134.3 L630.0,1160.0 L672.4,1143.8 L645.5,1118.1 Z M603.1,1134.3 L603.1,1384.8 M630.0,1160.0 L630.0,1410.4 M672.4,1143.8 L672.4,1394.2"/>
<polygon points="1496.2,1103.6 1523.1,1129.3 1523.1,978.0 1496.2,952.4" fill="#FFEDB0"/><polygon points="1496.2,1041.6 1523.1,1067.3 1523.1,978.0 1496.2,952.4" fill="#FEC48A"/><polygon points="1496.2,979.6 1523.1,1005.3 1523.1,978.0 1496.2,952.4" fill="#FD9F6A"/><polygon points="1523.1,1129.3 1565.5,1113.1 1565.5,961.8 1523.1,978.0" fill="#FFEDB0"/><polygon points="1523.1,1067.3 1565.5,1051.1 1565.5,961.8 1523.1,978.0" fill="#FEC48A"/><polygon points="1523.1,1005.3 1565.5,989.1 1565.5,961.8 1523.1,978.0" fill="#FD9F6A"/><polygon points="1496.2,952.4 1523.1,978.0 1565.5,961.8 1538.6,936.2" fill="#FD9F6A"/><path class="b" d="M1496.2,952.4 L1523.1,978.0 L1565.5,961.8 L1538.6,936.2 Z M1496.2,952.4 L1496.2,1103.6 M1523.1,978.0 L1523.1,1129.3 M1565.5,961.8 L1565.5,1113.1"/>
<polygon points="1425.5,1130.6 1452.4,1156.3 1452.4,1031.0 1425.5,1005.4" fill="#FFEDB0"/><polygon points="1425.5,1068.6 1452.4,1094.3 1452.4,1031.0 1425.5,1005.4" fill="#FEC48A"/><polygon points="1425.5,1006.6 1452.4,1032.3 1452.4,1031.0 1425.5,1005.4" fill="#FD9F6A"/><polygon points="1452.4,1156.3 1494.8,1140.1 1494.8,1014.8 1452.4,1031.0" fill="#FFEDB0"/><polygon points="1452.4,1094.3 1494.8,1078.1 1494.8,1014.8 1452.4,1031.0" fill="#FEC48A"/><polygon points="1452.4,1032.3 1494.8,1016.1 1494.8,1014.8 1452.4,1031.0" fill="#FD9F6A"/><polygon points="1425.5,1005.4 1452.4,1031.0 1494.8,1014.8 1467.9,989.2" fill="#FD9F6A"/><path class="b" d="M1425.5,1005.4 L1452.4,1031.0 L1494.8,1014.8 L1467.9,989.2 Z M1425.5,1005.4 L1425.5,1130.6 M1452.4,1031.0 L1452.4,1156.3 M1494.8,1014.8 L1494.8,1140.1"/>
<polygon points="1354.8,1157.6 1381.7,1183.3 1381.7,1032.0 1354.8,1006.3" fill="#FFEDB0"/><polygon points="1354.8,1095.6 1381.7,1121.3 1381.7,1032.0 1354.8,1006.3" fill="#FEC48A"/><polygon points="1354.8,1033.6 1381.7,1059.3 1381.7,1032.0 1354.8,1006.3" fill="#FD9F6A"/><polygon points="1381.7,1183.3 1424.1,1167.1 1424.1,1015.8 1381.7,1032.0" fill="#FFEDB0"/><polygon points="1381.7,1121.3 1424.1,1105.1 1424.1,1015.8 1381.7,1032.0" fill="#FEC48A"/><polygon points="1381.7,1059.3 1424.1,1043.1 1424.1,1015.8 1381.7,1032.0" fill="#FD9F6A"/><polygon points="1354.8,1006.3 1381.7,1032.0 1424.1,1015.8 1397.2,990.2" fill="#FD9F6A"/><path class="b" d="M1354.8,1006.3 L1381.7,1032.0 L1424.1,1015.8 L1397.2,990.2 Z M1354.8,1006.3 L1354.8,1157.6 M1381.7,1032.0 L1381.7,1183.3 M1424.1,1015.8 L1424.1,1167.1"/>
<polygon points="1284.1,1184.6 1311.0,1210.2 1311.0,1099.9 1284.1,1074.3" fill="#FFEDB0"/><polygon points="1284.1,1122.6 1311.0,1148.2 1311.0,1099.9 1284.1,1074.3" fill="#FEC48A"/><polygon points="1311.0,1210.2 1353.5,1194.1 1353.5,1083.7 1311.0,1099.9" fill="#FFEDB0"/><polygon points="1311.0,1148.2 1353.5,1132.1 1353.5,1083.7 1311.0,1099.9" fill="#FEC48A"/><polygon points="1284.1,1074.3 1311.0,1099.9 1353.5,1083.7 1326.5,1058.1" fill="#FEC48A"/><path class="b" d="M1284.1,1074.3 L1311.0,1099.9 L1353.5,1083.7 L1326.5,1058.1 Z M1284.1,1074.3 L1284.1,1184.6 M1311.0,1099.9 L1311.0,1210.2 M1353.5,1083.7 L1353.5,1194.1"/>
<polygon points="1213.4,1211.6 1240.4,1237.2 1240.4,1179.0 1213.4,1153.3" fill="#FFEDB0"/><polygon points="1240.4,1237.2 1282.8,1221.0 1282.8,1162.8 1240.4,1179.0" fill="#FFEDB0"/><polygon points="1213.4,1153.3 1240.4,1179.0 1282.8,1162.8 1255.9,1137.1" fill="#FFEDB0"/><path class="b" d="M1213.4,1153.3 L1240.4,1179.0 L1282.8,1162.8 L1255.9,1137.1 Z M1213.4,1153.3 L1213.4,1211.6 M1240.4,1179.0 L1240.4,1237.2 M1282.8,1162.8 L1282.8,1221.0"/>
<polygon points="1142.8,1238.6 1169.7,1264.2 1169.7,1163.8 1142.8,1138.2" fill="#FFEDB0"/><polygon points="1142.8,1176.6 1169.7,1202.2 1169.7,1163.8 1142.8,1138.2" fill="#FEC48A"/><polygon points="1169.7,1264.2 1212.1,1248.0 1212.1,1147.6 1169.7,1163.8" fill="#FFEDB0"/><polygon points="1169.7,1202.2 1212.1,1186.0 1212.1,1147.6 1169.7,1163.8" fill="#FEC48A"/><polygon points="1142.8,1138.2 1169.7,1163.8 1212.1,1147.6 1185.2,1122.0" fill="#FEC48A"/><path class="b" d="M1142.8,1138.2 L1169.7,1163.8 L1212.1,1147.6 L1185.2,1122.0 Z M1142.8,1138.2 L1142.8,1238.6 M1169.7,1163.8 L1169.7,1264.2 M1212.1,1147.6 L1212.1,1248.0"/>
<polygon points="1072.1,1265.6 1099.0,1291.2 1099.0,1192.0 1072.1,1166.4" fill="#FFEDB0"/><polygon points="1072.1,1203.6 1099.0,1229.2 1099.0,1192.0 1072.1,1166.4" fill="#FEC48A"/><polygon points="1099.0,1291.2 1141.4,1275.0 1141.4,1175.8 1099.0,1192.0" fill="#FFEDB0"/><polygon points="1099.0,1229.2 1141.4,1213.0 1141.4,1175.8 1099.0,1192.0" fill="#FEC48A"/><polygon points="1072.1,1166.4 1099.0,1192.0 1141.4,1175.8 1114.5,1150.2" fill="#FEC48A"/><path class="b" d="M1072.1,1166.4 L1099.0,1192.0 L1141.4,1175.8 L1114.5,1150.2 Z M1072.1,1166.4 L1072.1,1265.6 M1099.0,1192.0 L1099.0,1291.2 M1141.4,1175.8 L1141.4,1275.0"/>
<polygon points="1001.4,1292.6 1028.3,1318.2 1028.3,1140.9 1001.4,1115.3" fill="#FFEDB0"/><polygon points="1001.4,1230.6 1028.3,1256.2 1028.3,1140.9 1001.4,1115.3" fill="#FEC48A"/><polygon points="1001.4,1168.6 1028.3,1194.2 1028.3,1140.9 1001.4,1115.3" fill="#FD9F6A"/><polygon points="1028.3,1318.2 1070.7,1302.0 1070.7,1124.7 1028.3,1140.9" fill="#FFEDB0"/><polygon points="1028.3,1256.2 1070.7,1240.0 1070.7,1124.7 1028.3,1140.9" fill="#FEC48A"/><polygon points="1028.3,1194.2 1070.7,1178.0 1070.7,1124.7 1028.3,1140.9" fill="#FD9F6A"/><polygon points="1001.4,1115.3 1028.3,1140.9 1070.7,1124.7 1043.8,1099.1" fill="#FD9F6A"/><path class="b" d="M1001.4,1115.3 L1028.3,1140.9 L1070.7,1124.7 L1043.8,1099.1 Z M1001.4,1115.3 L1001.4,1292.6 M1028.3,1140.9 L1028.3,1318.2 M1070.7,1124.7 L1070.7,1302.0"/>
<polygon points="930.7,1319.6 957.6,1345.2 957.6,1277.0 930.7,1251.4" fill="#FFEDB0"/><polygon points="930.7,1257.6 957.6,1283.2 957.6,1277.0 930.7,1251.4" fill="#FEC48A"/><polygon points="957.6,1345.2 1000.0,1329.0 1000.0,1260.8 957.6,1277.0" fill="#FFEDB0"/><polygon points="957.6,1283.2 1000.0,1267.0 1000.0,1260.8 957.6,1277.0" fill="#FEC48A"/><polygon points="930.7,1251.4 957.6,1277.0 1000.0,1260.8 973.1,1235.2" fill="#FEC48A"/><path class="b" d="M930.7,1251.4 L957.6,1277.0 L1000.0,1260.8 L973.1,1235.2 Z M930.7,1251.4 L930.7,1319.6 M957.6,1277.0 L957.6,1345.2 M1000.0,1260.8 L1000.0,1329.0"/>
<polygon points="860.0,1346.6 886.9,1372.2 886.9,1255.6 860.0,1230.0" fill="#FFEDB0"/><polygon points="860.0,1284.6 886.9,1310.2 886.9,1255.6 860.0,1230.0" fill="#FEC48A"/><polygon points="886.9,1372.2 929.3,1356.0 929.3,1239.4 886.9,1255.6" fill="#FFEDB0"/><polygon points="886.9,1310.2 929.3,1294.0 929.3,1239.4 886.9,1255.6" fill="#FEC48A"/><polygon points="860.0,1230.0 886.9,1255.6 929.3,1239.4 902.4,1213.8" fill="#FEC48A"/><path class="b" d="M860.0,1230.0 L886.9,1255.6 L929.3,1239.4 L902.4,1213.8 Z M860.0,1230.0 L860.0,1346.6 M886.9,1255.6 L886.9,1372.2 M929.3,1239.4 L929.3,1356.0"/>
<polygon points="789.3,1373.5 816.2,1399.2 816.2,1270.2 789.3,1244.6" fill="#FFEDB0"/><polygon points="789.3,1311.5 816.2,1337.2 816.2,1270.2 789.3,1244.6" fill="#FEC48A"/><polygon points="789.3,1249.5 816.2,1275.2 816.2,1270.2 789.3,1244.6" fill="#FD9F6A"/><polygon points="816.2,1399.2 858.7,1383.0 858.7,1254.0 816.2,1270.2" fill="#FFEDB0"/><polygon points="816.2,1337.2 858.7,1321.0 858.7,1254.0 816.2,1270.2" fill="#FEC48A"/><polygon points="816.2,1275.2 858.7,1259.0 858.7,1254.0 816.2,1270.2" fill="#FD9F6A"/><polygon points="789.3,1244.6 816.2,1270.2 858.7,1254.0 831.7,1228.4" fill="#FD9F6A"/><path class="b" d="M789.3,1244.6 L816.2,1270.2 L858.7,1254.0 L831.7,1228.4 Z M789.3,1244.6 L789.3,1373.5 M816.2,1270.2 L816.2,1399.2 M858.7,1254.0 L858.7,1383.0"/>
<polygon points="718.7,1400.5 745.6,1426.2 745.6,1083.9 718.7,1058.3" fill="#FFEDB0"/><polygon points="718.7,1338.5 745.6,1364.2 745.6,1083.9 718.7,1058.3" fill="#FEC48A"/><polygon points="718.7,1276.5 745.6,1302.2 745.6,1083.9 718.7,1058.3" fill="#FD9F6A"/><polygon points="718.7,1214.5 745.6,1240.2 745.6,1083.9 718.7,1058.3" fill="#FD7A54"/><polygon points="718.7,1152.5 745.6,1178.2 745.6,1083.9 718.7,1058.3" fill="#F95350"/><polygon points="718.7,1090.5 745.6,1116.2 745.6,1083.9 718.7,1058.3" fill="#DE3359"/><polygon points="745.6,1426.2 788.0,1410.0 788.0,1067.7 745.6,1083.9" fill="#FFEDB0"/><polygon points="745.6,1364.2 788.0,1348.0 788.0,1067.7 745.6,1083.9" fill="#FEC48A"/><polygon points="745.6,1302.2 788.0,1286.0 788.0,1067.7 745.6,1083.9" fill="#FD9F6A"/><polygon points="745.6,1240.2 788.0,1224.0 788.0,1067.7 745.6,1083.9" fill="#FD7A54"/><polygon points="745.6,1178.2 788.0,1162.0 788.0,1067.7 745.6,1083.9" fill="#F95350"/><polygon points="745.6,1116.2 788.0,1100.0 788.0,1067.7 745.6,1083.9" fill="#DE3359"/><polygon points="718.7,1058.3 745.6,1083.9 788.0,1067.7 761.1,1042.1" fill="#DE3359"/><path class="b" d="M718.7,1058.3 L745.6,1083.9 L788.0,1067.7 L761.1,1042.1 Z M718.7,1058.3 L718.7,1400.5 M745.6,1083.9 L745.6,1426.2 M788.0,1067.7 L788.0,1410.0"/>
<polygon points="648.0,1427.5 674.9,1453.2 674.9,1172.9 648.0,1147.3" fill="#FFEDB0"/><polygon points="648.0,1365.5 674.9,1391.2 674.9,1172.9 648.0,1147.3" fill="#FEC48A"/><polygon points="648.0,1303.5 674.9,1329.2 674.9,1172.9 648.0,1147.3" fill="#FD9F6A"/><polygon points="648.0,1241.5 674.9,1267.2 674.9,1172.9 648.0,1147.3" fill="#FD7A54"/><polygon points="648.0,1179.5 674.9,1205.2 674.9,1172.9 648.0,1147.3" fill="#F95350"/><polygon points="674.9,1453.2 717.3,1437.0 717.3,1156.7 674.9,1172.9" fill="#FFEDB0"/><polygon points="674.9,1391.2 717.3,1375.0 717.3,1156.7 674.9,1172.9" fill="#FEC48A"/><polygon points="674.9,1329.2 717.3,1313.0 717.3,1156.7 674.9,1172.9" fill="#FD9F6A"/><polygon points="674.9,1267.2 717.3,1251.0 717.3,1156.7 674.9,1172.9" fill="#FD7A54"/><polygon points="674.9,1205.2 717.3,1189.0 717.3,1156.7 674.9,1172.9" fill="#F95350"/><polygon points="648.0,1147.3 674.9,1172.9 717.3,1156.7 690.4,1131.1" fill="#F95350"/><path class="b" d="M648.0,1147.3 L674.9,1172.9 L717.3,1156.7 L690.4,1131.1 Z M648.0,1147.3 L648.0,1427.5 M674.9,1172.9 L674.9,1453.2 M717.3,1156.7 L717.3,1437.0"/>
<polygon points="1541.0,1146.4 1568.0,1172.0 1568.0,983.5 1541.0,957.9" fill="#FFEDB0"/><polygon points="1541.0,1084.4 1568.0,1110.0 1568.0,983.5 1541.0,957.9" fill="#FEC48A"/><polygon points="1541.0,1022.4 1568.0,1048.0 1568.0,983.5 1541.0,957.9" fill="#FD9F6A"/><polygon points="1541.0,960.4 1568.0,986.0 1568.0,983.5 1541.0,957.9" fill="#FD7A54"/><polygon points="1568.0,1172.0 1610.4,1155.8 1610.4,967.3 1568.0,983.5" fill="#FFEDB0"/><polygon points="1568.0,1110.0 1610.4,1093.8 1610.4,967.3 1568.0,983.5" fill="#FEC48A"/><polygon points="1568.0,1048.0 1610.4,1031.8 1610.4,967.3 1568.0,983.5" fill="#FD9F6A"/><polygon points="1568.0,986.0 1610.4,969.8 1610.4,967.3 1568.0,983.5" fill="#FD7A54"/><polygon points="1541.0,957.9 1568.0,983.5 1610.4,967.3 1583.5,941.7" fill="#FD7A54"/><path class="b" d="M1541.0,957.9 L1568.0,983.5 L1610.4,967.3 L1583.5,941.7 Z M1541.0,957.9 L1541.0,1146.4 M1568.0,983.5 L1568.0,1172.0 M1610.4,967.3 L1610.4,1155.8"/>
<polygon points="1470.4,1173.4 1497.3,1199.0 1497.3,1113.4 1470.4,1087.8" fill="#FFEDB0"/><polygon points="1470.4,1111.4 1497.3,1137.0 1497.3,1113.4 1470.4,1087.8" fill="#FEC48A"/><polygon points="1497.3,1199.0 1539.7,1182.8 1539.7,1097.2 1497.3,1113.4" fill="#FFEDB0"/><polygon points="1497.3,1137.0 1539.7,1120.8 1539.7,1097.2 1497.3,1113.4" fill="#FEC48A"/><polygon points="1470.4,1087.8 1497.3,1113.4 1539.7,1097.2 1512.8,1071.6" fill="#FEC48A"/><path class="b" d="M1470.4,1087.8 L1497.3,1113.4 L1539.7,1097.2 L1512.8,1071.6 Z M1470.4,1087.8 L1470.4,1173.4 M1497.3,1113.4 L1497.3,1199.0 M1539.7,1097.2 L1539.7,1182.8"/>
<polygon points="1399.7,1200.3 1426.6,1226.0 1426.6,1141.7 1399.7,1116.0" fill="#FFEDB0"/><polygon points="1399.7,1138.3 1426.6,1164.0 1426.6,1141.7 1399.7,1116.0" fill="#FEC48A"/><polygon points="1426.6,1226.0 1469.0,1209.8 1469.0,1125.5 1426.6,1141.7" fill="#FFEDB0"/><polygon points="1426.6,1164.0 1469.0,1147.8 1469.0,1125.5 1426.6,1141.7" fill="#FEC48A"/><polygon points="1399.7,1116.0 1426.6,1141.7 1469.0,1125.5 1442.1,1099.8" fill="#FEC48A"/><path class="b" d="M1399.7,1116.0 L1426.6,1141.7 L1469.0,1125.5 L1442.1,1099.8 Z M1399.7,1116.0 L1399.7,1200.3 M1426.6,1141.7 L1426.6,1226.0 M1469.0,1125.5 L1469.0,1209.8"/>
<polygon points="1329.0,1227.3 1355.9,1253.0 1355.9,1187.2 1329.0,1161.6" fill="#FFEDB0"/><polygon points="1329.0,1165.3 1355.9,1191.0 1355.9,1187.2 1329.0,1161.6" fill="#FEC48A"/><polygon points="1355.9,1253.0 1398.3,1236.8 1398.3,1171.1 1355.9,1187.2" fill="#FFEDB0"/><polygon points="1355.9,1191.0 1398.3,1174.8 1398.3,1171.1 1355.9,1187.2" fill="#FEC48A"/><polygon points="1329.0,1161.6 1355.9,1187.2 1398.3,1171.1 1371.4,1145.4" fill="#FEC48A"/><path class="b" d="M1329.0,1161.6 L1355.9,1187.2 L1398.3,1171.1 L1371.4,1145.4 Z M1329.0,1161.6 L1329.0,1227.3 M1355.9,1187.2 L1355.9,1253.0 M1398.3,1171.1 L1398.3,1236.8"/>
<polygon points="1258.3,1254.3 1285.2,1280.0 1285.2,1196.9 1258.3,1171.2" fill="#FFEDB0"/><polygon points="1258.3,1192.3 1285.2,1218.0 1285.2,1196.9 1258.3,1171.2" fill="#FEC48A"/><polygon points="1285.2,1280.0 1327.6,1263.8 1327.6,1180.7 1285.2,1196.9" fill="#FFEDB0"/><polygon points="1285.2,1218.0 1327.6,1201.8 1327.6,1180.7 1285.2,1196.9" fill="#FEC48A"/><polygon points="1258.3,1171.2 1285.2,1196.9 1327.6,1180.7 1300.7,1155.1" fill="#FEC48A"/><path class="b" d="M1258.3,1171.2 L1285.2,1196.9 L1327.6,1180.7 L1300.7,1155.1 Z M1258.3,1171.2 L1258.3,1254.3 M1285.2,1196.9 L1285.2,1280.0 M1327.6,1180.7 L1327.6,1263.8"/>
<polygon points="1187.6,1281.3 1214.5,1306.9 1214.5,1244.9 1187.6,1219.3" fill="#FFEDB0"/><polygon points="1214.5,1306.9 1256.9,1290.8 1256.9,1228.8 1214.5,1244.9" fill="#FFEDB0"/><polygon points="1187.6,1219.3 1214.5,1244.9 1256.9,1228.8 1230.0,1203.1" fill="#FFEDB0"/><path class="b" d="M1187.6,1219.3 L1214.5,1244.9 L1256.9,1228.8 L1230.0,1203.1 Z M1187.6,1219.3 L1187.6,1281.3 M1214.5,1244.9 L1214.5,1306.9 M1256.9,1228.8 L1256.9,1290.8"/>
<polygon points="1116.9,1308.3 1143.8,1333.9 1143.8,1276.9 1116.9,1251.3" fill="#FFEDB0"/><polygon points="1143.8,1333.9 1186.3,1317.7 1186.3,1260.7 1143.8,1276.9" fill="#FFEDB0"/><polygon points="1116.9,1251.3 1143.8,1276.9 1186.3,1260.7 1159.3,1235.1" fill="#FFEDB0"/><path class="b" d="M1116.9,1251.3 L1143.8,1276.9 L1186.3,1260.7 L1159.3,1235.1 Z M1116.9,1251.3 L1116.9,1308.3 M1143.8,1276.9 L1143.8,1333.9 M1186.3,1260.7 L1186.3,1317.7"/>
<polygon points="1046.2,1335.3 1073.2,1360.9 1073.2,1301.4 1046.2,1275.8" fill="#FFEDB0"/><polygon points="1073.2,1360.9 1115.6,1344.7 1115.6,1285.2 1073.2,1301.4" fill="#FFEDB0"/><polygon points="1046.2,1275.8 1073.2,1301.4 1115.6,1285.2 1088.7,1259.6" fill="#FFEDB0"/><path class="b" d="M1046.2,1275.8 L1073.2,1301.4 L1115.6,1285.2 L1088.7,1259.6 Z M1046.2,1275.8 L1046.2,1335.3 M1073.2,1301.4 L1073.2,1360.9 M1115.6,1285.2 L1115.6,1344.7"/>
<polygon points="975.6,1362.3 1002.5,1387.9 1002.5,1338.3 975.6,1312.7" fill="#FFEDB0"/><polygon points="1002.5,1387.9 1044.9,1371.7 1044.9,1322.1 1002.5,1338.3" fill="#FFEDB0"/><polygon points="975.6,1312.7 1002.5,1338.3 1044.9,1322.1 1018.0,1296.5" fill="#FFEDB0"/><path class="b" d="M975.6,1312.7 L1002.5,1338.3 L1044.9,1322.1 L1018.0,1296.5 Z M975.6,1312.7 L975.6,1362.3 M1002.5,1338.3 L1002.5,1387.9 M1044.9,1322.1 L1044.9,1371.7"/>
<polygon points="904.9,1389.3 931.8,1414.9 931.8,1323.1 904.9,1297.5" fill="#FFEDB0"/><polygon points="904.9,1327.3 931.8,1352.9 931.8,1323.1 904.9,1297.5" fill="#FEC48A"/><polygon points="931.8,1414.9 974.2,1398.7 974.2,1307.0 931.8,1323.1" fill="#FFEDB0"/><polygon points="931.8,1352.9 974.2,1336.7 974.2,1307.0 931.8,1323.1" fill="#FEC48A"/><polygon points="904.9,1297.5 931.8,1323.1 974.2,1307.0 947.3,1281.3" fill="#FEC48A"/><path class="b" d="M904.9,1297.5 L931.8,1323.1 L974.2,1307.0 L947.3,1281.3 Z M904.9,1297.5 L904.9,1389.3 M931.8,1323.1 L931.8,1414.9 M974.2,1307.0 L974.2,1398.7"/>
<polygon points="834.2,1416.3 861.1,1441.9 861.1,1306.7 834.2,1281.1" fill="#FFEDB0"/><polygon points="834.2,1354.3 861.1,1379.9 861.1,1306.7 834.2,1281.1" fill="#FEC48A"/><polygon points="834.2,1292.3 861.1,1317.9 861.1,1306.7 834.2,1281.1" fill="#FD9F6A"/><polygon points="861.1,1441.9 903.5,1425.7 903.5,1290.5 861.1,1306.7" fill="#FFEDB0"/><polygon points="861.1,1379.9 903.5,1363.7 903.5,1290.5 861.1,1306.7" fill="#FEC48A"/><polygon points="861.1,1317.9 903.5,1301.7 903.5,1290.5 861.1,1306.7" fill="#FD9F6A"/><polygon points="834.2,1281.1 861.1,1306.7 903.5,1290.5 876.6,1264.9" fill="#FD9F6A"/><path class="b" d="M834.2,1281.1 L861.1,1306.7 L903.5,1290.5 L876.6,1264.9 Z M834.2,1281.1 L834.2,1416.3 M861.1,1306.7 L861.1,1441.9 M903.5,1290.5 L903.5,1425.7"/>
<polygon points="763.5,1443.3 790.4,1468.9 790.4,1328.8 763.5,1303.1" fill="#FFEDB0"/><polygon points="763.5,1381.3 790.4,1406.9 790.4,1328.8 763.5,1303.1" fill="#FEC48A"/><polygon points="763.5,1319.3 790.4,1344.9 790.4,1328.8 763.5,1303.1" fill="#FD9F6A"/><polygon points="790.4,1468.9 832.8,1452.7 832.8,1312.6 790.4,1328.8" fill="#FFEDB0"/><polygon points="790.4,1406.9 832.8,1390.7 832.8,1312.6 790.4,1328.8" fill="#FEC48A"/><polygon points="790.4,1344.9 832.8,1328.7 832.8,1312.6 790.4,1328.8" fill="#FD9F6A"/><polygon points="763.5,1303.1 790.4,1328.8 832.8,1312.6 805.9,1286.9" fill="#FD9F6A"/><path class="b" d="M763.5,1303.1 L790.4,1328.8 L832.8,1312.6 L805.9,1286.9 Z M763.5,1303.1 L763.5,1443.3 M790.4,1328.8 L790.4,1468.9 M832.8,1312.6 L832.8,1452.7"/>
<polygon points="692.8,1470.2 719.7,1495.9 719.7,1364.4 692.8,1338.8" fill="#FFEDB0"/><polygon points="692.8,1408.2 719.7,1433.9 719.7,1364.4 692.8,1338.8" fill="#FEC48A"/><polygon points="692.8,1346.2 719.7,1371.9 719.7,1364.4 692.8,1338.8" fill="#FD9F6A"/><polygon points="719.7,1495.9 762.1,1479.7 762.1,1348.2 719.7,1364.4" fill="#FFEDB0"/><polygon points="719.7,1433.9 762.1,1417.7 762.1,1348.2 719.7,1364.4" fill="#FEC48A"/><polygon points="719.7,1371.9 762.1,1355.7 762.1,1348.2 719.7,1364.4" fill="#FD9F6A"/><polygon points="692.8,1338.8 719.7,1364.4 762.1,1348.2 735.2,1322.6" fill="#FD9F6A"/><path class="b" d="M692.8,1338.8 L719.7,1364.4 L762.1,1348.2 L735.2,1322.6 Z M692.8,1338.8 L692.8,1470.2 M719.7,1364.4 L719.7,1495.9 M762.1,1348.2 L762.1,1479.7"/>
<polygon points="1585.9,1189.1 1612.8,1214.7 1612.8,1094.4 1585.9,1068.8" fill="#FFEDB0"/><polygon points="1585.9,1127.1 1612.8,1152.7 1612.8,1094.4 1585.9,1068.8" fill="#FEC48A"/><polygon points="1612.8,1214.7 1655.2,1198.5 1655.2,1078.2 1612.8,1094.4" fill="#FFEDB0"/><polygon points="1612.8,1152.7 1655.2,1136.5 1655.2,1078.2 1612.8,1094.4" fill="#FEC48A"/><polygon points="1585.9,1068.8 1612.8,1094.4 1655.2,1078.2 1628.3,1052.6" fill="#FEC48A"/><path class="b" d="M1585.9,1068.8 L1612.8,1094.4 L1655.2,1078.2 L1628.3,1052.6 Z M1585.9,1068.8 L1585.9,1189.1 M1612.8,1094.4 L1612.8,1214.7 M1655.2,1078.2 L1655.2,1198.5"/>
<polygon points="1515.2,1216.1 1542.1,1241.7 1542.1,1123.9 1515.2,1098.3" fill="#FFEDB0"/><polygon points="1515.2,1154.1 1542.1,1179.7 1542.1,1123.9 1515.2,1098.3" fill="#FEC48A"/><polygon points="1542.1,1241.7 1584.5,1225.5 1584.5,1107.7 1542.1,1123.9" fill="#FFEDB0"/><polygon points="1542.1,1179.7 1584.5,1163.5 1584.5,1107.7 1542.1,1123.9" fill="#FEC48A"/><polygon points="1515.2,1098.3 1542.1,1123.9 1584.5,1107.7 1557.6,1082.1" fill="#FEC48A"/><path class="b" d="M1515.2,1098.3 L1542.1,1123.9 L1584.5,1107.7 L1557.6,1082.1 Z M1515.2,1098.3 L1515.2,1216.1 M1542.1,1123.9 L1542.1,1241.7 M1584.5,1107.7 L1584.5,1225.5"/>
<polygon points="1444.5,1243.1 1471.4,1268.7 1471.4,1204.2 1444.5,1178.6" fill="#FFEDB0"/><polygon points="1444.5,1181.1 1471.4,1206.7 1471.4,1204.2 1444.5,1178.6" fill="#FEC48A"/><polygon points="1471.4,1268.7 1513.9,1252.5 1513.9,1188.0 1471.4,1204.2" fill="#FFEDB0"/><polygon points="1471.4,1206.7 1513.9,1190.5 1513.9,1188.0 1471.4,1204.2" fill="#FEC48A"/><polygon points="1444.5,1178.6 1471.4,1204.2 1513.9,1188.0 1486.9,1162.4" fill="#FEC48A"/><path class="b" d="M1444.5,1178.6 L1471.4,1204.2 L1513.9,1188.0 L1486.9,1162.4 Z M1444.5,1178.6 L1444.5,1243.1 M1471.4,1204.2 L1471.4,1268.7 M1513.9,1188.0 L1513.9,1252.5"/>
<polygon points="1373.8,1270.1 1400.8,1295.7 1400.8,1187.8 1373.8,1162.2" fill="#FFEDB0"/><polygon points="1373.8,1208.1 1400.8,1233.7 1400.8,1187.8 1373.8,1162.2" fill="#FEC48A"/><polygon points="1400.8,1295.7 1443.2,1279.5 1443.2,1171.6 1400.8,1187.8" fill="#FFEDB0"/><polygon points="1400.8,1233.7 1443.2,1217.5 1443.2,1171.6 1400.8,1187.8" fill="#FEC48A"/><polygon points="1373.8,1162.2 1400.8,1187.8 1443.2,1171.6 1416.3,1146.0" fill="#FEC48A"/><path class="b" d="M1373.8,1162.2 L1400.8,1187.8 L1443.2,1171.6 L1416.3,1146.0 Z M1373.8,1162.2 L1373.8,1270.1 M1400.8,1187.8 L1400.8,1295.7 M1443.2,1171.6 L1443.2,1279.5"/>
<polygon points="1303.2,1297.0 1330.1,1322.7 1330.1,1223.5 1303.2,1197.8" fill="#FFEDB0"/><polygon points="1303.2,1235.0 1330.1,1260.7 1330.1,1223.5 1303.2,1197.8" fill="#FEC48A"/><polygon points="1330.1,1322.7 1372.5,1306.5 1372.5,1207.3 1330.1,1223.5" fill="#FFEDB0"/><polygon points="1330.1,1260.7 1372.5,1244.5 1372.5,1207.3 1330.1,1223.5" fill="#FEC48A"/><polygon points="1303.2,1197.8 1330.1,1223.5 1372.5,1207.3 1345.6,1181.7" fill="#FEC48A"/><path class="b" d="M1303.2,1197.8 L1330.1,1223.5 L1372.5,1207.3 L1345.6,1181.7 Z M1303.2,1197.8 L1303.2,1297.0 M1330.1,1223.5 L1330.1,1322.7 M1372.5,1207.3 L1372.5,1306.5"/>
<polygon points="1232.5,1324.0 1259.4,1349.7 1259.4,1265.3 1232.5,1239.7" fill="#FFEDB0"/><polygon points="1232.5,1262.0 1259.4,1287.7 1259.4,1265.3 1232.5,1239.7" fill="#FEC48A"/><polygon points="1259.4,1349.7 1301.8,1333.5 1301.8,1249.2 1259.4,1265.3" fill="#FFEDB0"/><polygon points="1259.4,1287.7 1301.8,1271.5 1301.8,1249.2 1259.4,1265.3" fill="#FEC48A"/><polygon points="1232.5,1239.7 1259.4,1265.3 1301.8,1249.2 1274.9,1223.5" fill="#FEC48A"/><path class="b" d="M1232.5,1239.7 L1259.4,1265.3 L1301.8,1249.2 L1274.9,1223.5 Z M1232.5,1239.7 L1232.5,1324.0 M1259.4,1265.3 L1259.4,1349.7 M1301.8,1249.2 L1301.8,1333.5"/>
<polygon points="1161.8,1351.0 1188.7,1376.7 1188.7,1209.3 1161.8,1183.6" fill="#FFEDB0"/><polygon points="1161.8,1289.0 1188.7,1314.7 1188.7,1209.3 1161.8,1183.6" fill="#FEC48A"/><polygon points="1161.8,1227.0 1188.7,1252.7 1188.7,1209.3 1161.8,1183.6" fill="#FD9F6A"/><polygon points="1188.7,1376.7 1231.1,1360.5 1231.1,1193.1 1188.7,1209.3" fill="#FFEDB0"/><polygon points="1188.7,1314.7 1231.1,1298.5 1231.1,1193.1 1188.7,1209.3" fill="#FEC48A"/><polygon points="1188.7,1252.7 1231.1,1236.5 1231.1,1193.1 1188.7,1209.3" fill="#FD9F6A"/><polygon points="1161.8,1183.6 1188.7,1209.3 1231.1,1193.1 1204.2,1167.4" fill="#FD9F6A"/><path class="b" d="M1161.8,1183.6 L1188.7,1209.3 L1231.1,1193.1 L1204.2,1167.4 Z M1161.8,1183.6 L1161.8,1351.0 M1188.7,1209.3 L1188.7,1376.7 M1231.1,1193.1 L1231.1,1360.5"/>
<polygon points="1091.1,1378.0 1118.0,1403.6 1118.0,1329.2 1091.1,1303.6" fill="#FFEDB0"/><polygon points="1091.1,1316.0 1118.0,1341.6 1118.0,1329.2 1091.1,1303.6" fill="#FEC48A"/><polygon points="1118.0,1403.6 1160.4,1387.5 1160.4,1313.1 1118.0,1329.2" fill="#FFEDB0"/><polygon points="1118.0,1341.6 1160.4,1325.5 1160.4,1313.1 1118.0,1329.2" fill="#FEC48A"/><polygon points="1091.1,1303.6 1118.0,1329.2 1160.4,1313.1 1133.5,1287.4" fill="#FEC48A"/><path class="b" d="M1091.1,1303.6 L1118.0,1329.2 L1160.4,1313.1 L1133.5,1287.4 Z M1091.1,1303.6 L1091.1,1378.0 M1118.0,1329.2 L1118.0,1403.6 M1160.4,1313.1 L1160.4,1387.5"/>
<polygon points="1020.4,1405.0 1047.3,1430.6 1047.3,1342.6 1020.4,1317.0" fill="#FFEDB0"/><polygon points="1020.4,1343.0 1047.3,1368.6 1047.3,1342.6 1020.4,1317.0" fill="#FEC48A"/><polygon points="1047.3,1430.6 1089.7,1414.4 1089.7,1326.4 1047.3,1342.6" fill="#FFEDB0"/><polygon points="1047.3,1368.6 1089.7,1352.4 1089.7,1326.4 1047.3,1342.6" fill="#FEC48A"/><polygon points="1020.4,1317.0 1047.3,1342.6 1089.7,1326.4 1062.8,1300.8" fill="#FEC48A"/><path class="b" d="M1020.4,1317.0 L1047.3,1342.6 L1089.7,1326.4 L1062.8,1300.8 Z M1020.4,1317.0 L1020.4,1405.0 M1047.3,1342.6 L1047.3,1430.6 M1089.7,1326.4 L1089.7,1414.4"/>
<polygon points="949.7,1432.0 976.6,1457.6 976.6,1317.5 949.7,1291.9" fill="#FFEDB0"/><polygon points="949.7,1370.0 976.6,1395.6 976.6,1317.5 949.7,1291.9" fill="#FEC48A"/><polygon points="949.7,1308.0 976.6,1333.6 976.6,1317.5 949.7,1291.9" fill="#FD9F6A"/><polygon points="976.6,1457.6 1019.1,1441.4 1019.1,1301.3 976.6,1317.5" fill="#FFEDB0"/><polygon points="976.6,1395.6 1019.1,1379.4 1019.1,1301.3 976.6,1317.5" fill="#FEC48A"/><polygon points="976.6,1333.6 1019.1,1317.4 1019.1,1301.3 976.6,1317.5" fill="#FD9F6A"/><polygon points="949.7,1291.9 976.6,1317.5 1019.1,1301.3 992.1,1275.7" fill="#FD9F6A"/><path class="b" d="M949.7,1291.9 L976.6,1317.5 L1019.1,1301.3 L992.1,1275.7 Z M949.7,1291.9 L949.7,1432.0 M976.6,1317.5 L976.6,1457.6 M1019.1,1301.3 L1019.1,1441.4"/>
<polygon points="879.0,1459.0 906.0,1484.6 906.0,1373.0 879.0,1347.4" fill="#FFEDB0"/><polygon points="879.0,1397.0 906.0,1422.6 906.0,1373.0 879.0,1347.4" fill="#FEC48A"/><polygon points="906.0,1484.6 948.4,1468.4 948.4,1356.8 906.0,1373.0" fill="#FFEDB0"/><polygon points="906.0,1422.6 948.4,1406.4 948.4,1356.8 906.0,1373.0" fill="#FEC48A"/><polygon points="879.0,1347.4 906.0,1373.0 948.4,1356.8 921.5,1331.2" fill="#FEC48A"/><path class="b" d="M879.0,1347.4 L906.0,1373.0 L948.4,1356.8 L921.5,1331.2 Z M879.0,1347.4 L879.0,1459.0 M906.0,1373.0 L906.0,1484.6 M948.4,1356.8 L948.4,1468.4"/>
<polygon points="808.4,1486.0 835.3,1511.6 835.3,1361.6 808.4,1335.9" fill="#FFEDB0"/><polygon points="808.4,1424.0 835.3,1449.6 835.3,1361.6 808.4,1335.9" fill="#FEC48A"/><polygon points="808.4,1362.0 835.3,1387.6 835.3,1361.6 808.4,1335.9" fill="#FD9F6A"/><polygon points="835.3,1511.6 877.7,1495.4 877.7,1345.4 835.3,1361.6" fill="#FFEDB0"/><polygon points="835.3,1449.6 877.7,1433.4 877.7,1345.4 835.3,1361.6" fill="#FEC48A"/><polygon points="835.3,1387.6 877.7,1371.4 877.7,1345.4 835.3,1361.6" fill="#FD9F6A"/><polygon points="808.4,1335.9 835.3,1361.6 877.7,1345.4 850.8,1319.7" fill="#FD9F6A"/><path class="b" d="M808.4,1335.9 L835.3,1361.6 L877.7,1345.4 L850.8,1319.7 Z M808.4,1335.9 L808.4,1486.0 M835.3,1361.6 L835.3,1511.6 M877.7,1345.4 L877.7,1495.4"/>
<polygon points="737.7,1513.0 764.6,1538.6 764.6,1383.6 737.7,1358.0" fill="#FFEDB0"/><polygon points="737.7,1451.0 764.6,1476.6 764.6,1383.6 737.7,1358.0" fill="#FEC48A"/><polygon points="737.7,1389.0 764.6,1414.6 764.6,1383.6 737.7,1358.0" fill="#FD9F6A"/><polygon points="764.6,1538.6 807.0,1522.4 807.0,1367.4 764.6,1383.6" fill="#FFEDB0"/><polygon points="764.6,1476.6 807.0,1460.4 807.0,1367.4 764.6,1383.6" fill="#FEC48A"/><polygon points="764.6,1414.6 807.0,1398.4 807.0,1367.4 764.6,1383.6" fill="#FD9F6A"/><polygon points="737.7,1358.0 764.6,1383.6 807.0,1367.4 780.1,1341.8" fill="#FD9F6A"/><path class="b" d="M737.7,1358.0 L764.6,1383.6 L807.0,1367.4 L780.1,1341.8 Z M737.7,1358.0 L737.7,1513.0 M764.6,1383.6 L764.6,1538.6 M807.0,1367.4 L807.0,1522.4"/>
<polygon points="1630.8,1231.8 1657.7,1257.4 1657.7,1165.7 1630.8,1140.0" fill="#FFEDB0"/><polygon points="1630.8,1169.8 1657.7,1195.4 1657.7,1165.7 1630.8,1140.0" fill="#FEC48A"/><polygon points="1657.7,1257.4 1700.1,1241.2 1700.1,1149.5 1657.7,1165.7" fill="#FFEDB0"/><polygon points="1657.7,1195.4 1700.1,1179.2 1700.1,1149.5 1657.7,1165.7" fill="#FEC48A"/><polygon points="1630.8,1140.0 1657.7,1165.7 1700.1,1149.5 1673.2,1123.9" fill="#FEC48A"/><path class="b" d="M1630.8,1140.0 L1657.7,1165.7 L1700.1,1149.5 L1673.2,1123.9 Z M1630.8,1140.0 L1630.8,1231.8 M1657.7,1165.7 L1657.7,1257.4 M1700.1,1149.5 L1700.1,1241.2"/>
<polygon points="1560.1,1258.8 1587.0,1284.4 1587.0,1219.9 1560.1,1194.3" fill="#FFEDB0"/><polygon points="1560.1,1196.8 1587.0,1222.4 1587.0,1219.9 1560.1,1194.3" fill="#FEC48A"/><polygon points="1587.0,1284.4 1629.4,1268.2 1629.4,1203.8 1587.0,1219.9" fill="#FFEDB0"/><polygon points="1587.0,1222.4 1629.4,1206.2 1629.4,1203.8 1587.0,1219.9" fill="#FEC48A"/><polygon points="1560.1,1194.3 1587.0,1219.9 1629.4,1203.8 1602.5,1178.1" fill="#FEC48A"/><path class="b" d="M1560.1,1194.3 L1587.0,1219.9 L1629.4,1203.8 L1602.5,1178.1 Z M1560.1,1194.3 L1560.1,1258.8 M1587.0,1219.9 L1587.0,1284.4 M1629.4,1203.8 L1629.4,1268.2"/>
<polygon points="1489.4,1285.8 1516.3,1311.4 1516.3,1204.8 1489.4,1179.1" fill="#FFEDB0"/><polygon points="1489.4,1223.8 1516.3,1249.4 1516.3,1204.8 1489.4,1179.1" fill="#FEC48A"/><polygon points="1516.3,1311.4 1558.7,1295.2 1558.7,1188.6 1516.3,1204.8" fill="#FFEDB0"/><polygon points="1516.3,1249.4 1558.7,1233.2 1558.7,1188.6 1516.3,1204.8" fill="#FEC48A"/><polygon points="1489.4,1179.1 1516.3,1204.8 1558.7,1188.6 1531.8,1163.0" fill="#FEC48A"/><path class="b" d="M1489.4,1179.1 L1516.3,1204.8 L1558.7,1188.6 L1531.8,1163.0 Z M1489.4,1179.1 L1489.4,1285.8 M1516.3,1204.8 L1516.3,1311.4 M1558.7,1188.6 L1558.7,1295.2"/>
<polygon points="1418.7,1312.8 1445.6,1338.4 1445.6,1251.6 1418.7,1226.0" fill="#FFEDB0"/><polygon points="1418.7,1250.8 1445.6,1276.4 1445.6,1251.6 1418.7,1226.0" fill="#FEC48A"/><polygon points="1445.6,1338.4 1488.0,1322.2 1488.0,1235.4 1445.6,1251.6" fill="#FFEDB0"/><polygon points="1445.6,1276.4 1488.0,1260.2 1488.0,1235.4 1445.6,1251.6" fill="#FEC48A"/><polygon points="1418.7,1226.0 1445.6,1251.6 1488.0,1235.4 1461.1,1209.8" fill="#FEC48A"/><path class="b" d="M1418.7,1226.0 L1445.6,1251.6 L1488.0,1235.4 L1461.1,1209.8 Z M1418.7,1226.0 L1418.7,1312.8 M1445.6,1251.6 L1445.6,1338.4 M1488.0,1235.4 L1488.0,1322.2"/>
<polygon points="1348.0,1339.8 1374.9,1365.4 1374.9,1287.3 1348.0,1261.6" fill="#FFEDB0"/><polygon points="1348.0,1277.8 1374.9,1303.4 1374.9,1287.3 1348.0,1261.6" fill="#FEC48A"/><polygon points="1374.9,1365.4 1417.3,1349.2 1417.3,1271.1 1374.9,1287.3" fill="#FFEDB0"/><polygon points="1374.9,1303.4 1417.3,1287.2 1417.3,1271.1 1374.9,1287.3" fill="#FEC48A"/><polygon points="1348.0,1261.6 1374.9,1287.3 1417.3,1271.1 1390.4,1245.5" fill="#FEC48A"/><path class="b" d="M1348.0,1261.6 L1374.9,1287.3 L1417.3,1271.1 L1390.4,1245.5 Z M1348.0,1261.6 L1348.0,1339.8 M1374.9,1287.3 L1374.9,1365.4 M1417.3,1271.1 L1417.3,1349.2"/>
<polygon points="1277.3,1366.8 1304.2,1392.4 1304.2,1283.3 1277.3,1257.6" fill="#FFEDB0"/><polygon points="1277.3,1304.8 1304.2,1330.4 1304.2,1283.3 1277.3,1257.6" fill="#FEC48A"/><polygon points="1304.2,1392.4 1346.7,1376.2 1346.7,1267.1 1304.2,1283.3" fill="#FFEDB0"/><polygon points="1304.2,1330.4 1346.7,1314.2 1346.7,1267.1 1304.2,1283.3" fill="#FEC48A"/><polygon points="1277.3,1257.6 1304.2,1283.3 1346.7,1267.1 1319.7,1241.4" fill="#FEC48A"/><path class="b" d="M1277.3,1257.6 L1304.2,1283.3 L1346.7,1267.1 L1319.7,1241.4 Z M1277.3,1257.6 L1277.3,1366.8 M1304.2,1283.3 L1304.2,1392.4 M1346.7,1267.1 L1346.7,1376.2"/>
<polygon points="1206.6,1393.7 1233.6,1419.4 1233.6,1388.4 1206.6,1362.7" fill="#FFEDB0"/><polygon points="1233.6,1419.4 1276.0,1403.2 1276.0,1372.2 1233.6,1388.4" fill="#FFEDB0"/><polygon points="1206.6,1362.7 1233.6,1388.4 1276.0,1372.2 1249.1,1346.6" fill="#FFEDB0"/><path class="b" d="M1206.6,1362.7 L1233.6,1388.4 L1276.0,1372.2 L1249.1,1346.6 Z M1206.6,1362.7 L1206.6,1393.7 M1233.6,1388.4 L1233.6,1419.4 M1276.0,1372.2 L1276.0,1403.2"/>
<polygon points="1136.0,1420.7 1162.9,1446.4 1162.9,1358.3 1136.0,1332.7" fill="#FFEDB0"/><polygon points="1136.0,1358.7 1162.9,1384.4 1162.9,1358.3 1136.0,1332.7" fill="#FEC48A"/><polygon points="1162.9,1446.4 1205.3,1430.2 1205.3,1342.1 1162.9,1358.3" fill="#FFEDB0"/><polygon points="1162.9,1384.4 1205.3,1368.2 1205.3,1342.1 1162.9,1358.3" fill="#FEC48A"/><polygon points="1136.0,1332.7 1162.9,1358.3 1205.3,1342.1 1178.4,1316.5" fill="#FEC48A"/><path class="b" d="M1136.0,1332.7 L1162.9,1358.3 L1205.3,1342.1 L1178.4,1316.5 Z M1136.0,1332.7 L1136.0,1420.7 M1162.9,1358.3 L1162.9,1446.4 M1205.3,1342.1 L1205.3,1430.2"/>
<polygon points="1065.3,1447.7 1092.2,1473.4 1092.2,1392.8 1065.3,1367.1" fill="#FFEDB0"/><polygon points="1065.3,1385.7 1092.2,1411.4 1092.2,1392.8 1065.3,1367.1" fill="#FEC48A"/><polygon points="1092.2,1473.4 1134.6,1457.2 1134.6,1376.6 1092.2,1392.8" fill="#FFEDB0"/><polygon points="1092.2,1411.4 1134.6,1395.2 1134.6,1376.6 1092.2,1392.8" fill="#FEC48A"/><polygon points="1065.3,1367.1 1092.2,1392.8 1134.6,1376.6 1107.7,1350.9" fill="#FEC48A"/><path class="b" d="M1065.3,1367.1 L1092.2,1392.8 L1134.6,1376.6 L1107.7,1350.9 Z M1065.3,1367.1 L1065.3,1447.7 M1092.2,1392.8 L1092.2,1473.4 M1134.6,1376.6 L1134.6,1457.2"/>
<polygon points="994.6,1474.7 1021.5,1500.3 1021.5,1429.7 994.6,1404.0" fill="#FFEDB0"/><polygon points="994.6,1412.7 1021.5,1438.3 1021.5,1429.7 994.6,1404.0" fill="#FEC48A"/><polygon points="1021.5,1500.3 1063.9,1484.2 1063.9,1413.5 1021.5,1429.7" fill="#FFEDB0"/><polygon points="1021.5,1438.3 1063.9,1422.2 1063.9,1413.5 1021.5,1429.7" fill="#FEC48A"/><polygon points="994.6,1404.0 1021.5,1429.7 1063.9,1413.5 1037.0,1387.8" fill="#FEC48A"/><path class="b" d="M994.6,1404.0 L1021.5,1429.7 L1063.9,1413.5 L1037.0,1387.8 Z M994.6,1404.0 L994.6,1474.7 M1021.5,1429.7 L1021.5,1500.3 M1063.9,1413.5 L1063.9,1484.2"/>
<polygon points="923.9,1501.7 950.8,1527.3 950.8,1462.9 923.9,1437.2" fill="#FFEDB0"/><polygon points="923.9,1439.7 950.8,1465.3 950.8,1462.9 923.9,1437.2" fill="#FEC48A"/><polygon points="950.8,1527.3 993.2,1511.1 993.2,1446.7 950.8,1462.9" fill="#FFEDB0"/><polygon points="950.8,1465.3 993.2,1449.1 993.2,1446.7 950.8,1462.9" fill="#FEC48A"/><polygon points="923.9,1437.2 950.8,1462.9 993.2,1446.7 966.3,1421.0" fill="#FEC48A"/><path class="b" d="M923.9,1437.2 L950.8,1462.9 L993.2,1446.7 L966.3,1421.0 Z M923.9,1437.2 L923.9,1501.7 M950.8,1462.9 L950.8,1527.3 M993.2,1446.7 L993.2,1511.1"/>
<polygon points="853.2,1528.7 880.1,1554.3 880.1,1461.3 853.2,1435.7" fill="#FFEDB0"/><polygon points="853.2,1466.7 880.1,1492.3 880.1,1461.3 853.2,1435.7" fill="#FEC48A"/><polygon points="880.1,1554.3 922.5,1538.1 922.5,1445.1 880.1,1461.3" fill="#FFEDB0"/><polygon points="880.1,1492.3 922.5,1476.1 922.5,1445.1 880.1,1461.3" fill="#FEC48A"/><polygon points="853.2,1435.7 880.1,1461.3 922.5,1445.1 895.6,1419.5" fill="#FEC48A"/><path class="b" d="M853.2,1435.7 L880.1,1461.3 L922.5,1445.1 L895.6,1419.5 Z M853.2,1435.7 L853.2,1528.7 M880.1,1461.3 L880.1,1554.3 M922.5,1445.1 L922.5,1538.1"/>
<polygon points="782.5,1555.7 809.4,1581.3 809.4,1447.4 782.5,1421.8" fill="#FFEDB0"/><polygon points="782.5,1493.7 809.4,1519.3 809.4,1447.4 782.5,1421.8" fill="#FEC48A"/><polygon points="782.5,1431.7 809.4,1457.3 809.4,1447.4 782.5,1421.8" fill="#FD9F6A"/><polygon points="809.4,1581.3 851.9,1565.1 851.9,1431.2 809.4,1447.4" fill="#FFEDB0"/><polygon points="809.4,1519.3 851.9,1503.1 851.9,1431.2 809.4,1447.4" fill="#FEC48A"/><polygon points="809.4,1457.3 851.9,1441.1 851.9,1431.2 809.4,1447.4" fill="#FD9F6A"/><polygon points="782.5,1421.8 809.4,1447.4 851.9,1431.2 824.9,1405.6" fill="#FD9F6A"/><path class="b" d="M782.5,1421.8 L809.4,1447.4 L851.9,1431.2 L824.9,1405.6 Z M782.5,1421.8 L782.5,1555.7 M809.4,1447.4 L809.4,1581.3 M851.9,1431.2 L851.9,1565.1"/>
</g>
<g class="a"><polyline points="168.5,511.5 168.5,1131.5 686.9,1627.0 1751.6,1222.1"/></g>
<g class="k">
<line x1="168.5" y1="1131.5" x2="154.8" y2="1118.4"/>
<line x1="168.5" y1="1007.5" x2="154.8" y2="994.4"/>
<line x1="168.5" y1="883.5" x2="154.8" y2="870.4"/>
<line x1="168.5" y1="759.5" x2="154.8" y2="746.4"/>
<line x1="168.5" y1="635.5" x2="154.8" y2="622.4"/>
<line x1="168.5" y1="511.5" x2="154.8" y2="498.4"/>
<line x1="181.9" y1="1144.3" x2="164.1" y2="1151.1"/>
<line x1="226.6" y1="1187.0" x2="208.8" y2="1193.8"/>
<line x1="271.3" y1="1229.7" x2="253.5" y2="1236.5"/>
<line x1="316.0" y1="1272.5" x2="298.2" y2="1279.2"/>
<line x1="360.7" y1="1315.2" x2="342.9" y2="1321.9"/>
<line x1="405.4" y1="1357.9" x2="387.6" y2="1364.6"/>
<line x1="450.0" y1="1400.6" x2="432.3" y2="1407.4"/>
<line x1="494.7" y1="1443.3" x2="477.0" y2="1450.1"/>
<line x1="539.4" y1="1486.0" x2="521.7" y2="1492.8"/>
<line x1="584.1" y1="1528.8" x2="566.4" y2="1535.5"/>
<line x1="628.8" y1="1571.5" x2="611.0" y2="1578.2"/>
<line x1="673.5" y1="1614.2" x2="655.7" y2="1620.9"/>
<line x1="1680.6" y1="1249.1" x2="1694.4" y2="1262.2"/>
<line x1="1609.6" y1="1276.1" x2="1623.4" y2="1289.2"/>
<line x1="1538.7" y1="1303.1" x2="1552.4" y2="1316.2"/>
<line x1="1467.7" y1="1330.1" x2="1481.4" y2="1343.2"/>
<line x1="1396.7" y1="1357.1" x2="1410.4" y2="1370.2"/>
<line x1="1325.7" y1="1384.1" x2="1339.5" y2="1397.2"/>
<line x1="1254.7" y1="1411.1" x2="1268.5" y2="1424.2"/>
<line x1="1183.8" y1="1438.0" x2="1197.5" y2="1451.2"/>
<line x1="1112.8" y1="1465.0" x2="1126.5" y2="1478.2"/>
<line x1="1041.8" y1="1492.0" x2="1055.5" y2="1505.2"/>
<line x1="970.8" y1="1519.0" x2="984.6" y2="1532.2"/>
<line x1="899.8" y1="1546.0" x2="913.6" y2="1559.1"/>
<line x1="828.9" y1="1573.0" x2="842.6" y2="1586.1"/>
<line x1="757.9" y1="1600.0" x2="771.6" y2="1613.1"/>
</g>
<g class="t">
<text x="145.5" y="1133.3" text-anchor="end">2</text>
<text x="145.5" y="1009.3" text-anchor="end">3</text>
<text x="145.5" y="885.3" text-anchor="end">4</text>
<text x="145.5" y="761.3" text-anchor="end">5</text>
<text x="145.5" y="637.3" text-anchor="end">6</text>
<text x="145.5" y="513.3" text-anchor="end">7</text>
<text x="149.9" y="1210.3" text-anchor="end">A1</text>
<text x="200.1" y="1253.0" text-anchor="end">A2</text>
<text x="244.8" y="1295.7" text-anchor="end">A3</text>
<text x="289.5" y="1338.5" text-anchor="end">A4</text>
<text x="334.2" y="1381.2" text-anchor="end">A5</text>
<text x="378.9" y="1423.9" text-anchor="end">A6</text>
<text x="418.0" y="1466.6" text-anchor="end">B1</text>
<text x="468.2" y="1509.3" text-anchor="end">B2</text>
<text x="512.9" y="1552.0" text-anchor="end">B3</text>
<text x="557.6" y="1594.8" text-anchor="end">B4</text>
<text x="602.3" y="1637.5" text-anchor="end">B5</text>
<text x="647.0" y="1680.2" text-anchor="end">B6</text>
<text x="1702.2" y="1325.0">1</text>
<text x="1631.2" y="1352.0">2</text>
<text x="1560.3" y="1379.0">3</text>
<text x="1489.3" y="1406.0">4</text>
<text x="1418.3" y="1433.0">5</text>
<text x="1347.3" y="1460.0">6</text>
<text x="1276.3" y="1487.0">7</text>
<text x="1205.4" y="1513.9">8</text>
<text x="1134.4" y="1540.9">9</text>
<text x="1066.8" y="1567.9">10</text>
<text x="995.8" y="1594.9">11</text>
<text x="924.8" y="1621.9">12</text>
<text x="853.9" y="1648.9">13</text>
<text x="782.9" y="1675.9">14</text>
</g>
<g class="l">
<text transform="translate(82.7,826.0) rotate(-90)" text-anchor="middle">soil moisture content(%)</text>
<text transform="translate(317.5,1597.2) rotate(34)" text-anchor="middle">ridge</text>
<text transform="translate(1285.8,1596.8) rotate(-21.5)" text-anchor="middle">Sample point</text>
</g>
<text x="960.2" y="82.0" text-anchor="middle" style="font-size:73.6px;font-weight:bold;fill:#000;letter-spacing:0.43px">Distribution and water content of soil samples</text>
<rect x="1991.5" y="1476.8" width="98.8" height="149.7" fill="#FFEDB0"/>
<rect x="1991.5" y="1324.7" width="98.8" height="152.5" fill="#FEC48A"/>
<rect x="1991.5" y="1172.7" width="98.8" height="152.5" fill="#FD9F6A"/>
<rect x="1991.5" y="1020.7" width="98.8" height="152.5" fill="#FD7A54"/>
<rect x="1991.5" y="868.6" width="98.8" height="152.5" fill="#F95350"/>
<rect x="1991.5" y="716.6" width="98.8" height="152.5" fill="#DE3359"/>
<rect x="1991.5" y="564.6" width="98.8" height="152.5" fill="#B81D62"/>
<rect x="1991.5" y="412.6" width="98.8" height="152.5" fill="#8D1362"/>
<rect x="1991.5" y="260.5" width="98.8" height="152.5" fill="#5F0E52"/>
<rect x="1991.5" y="110.0" width="98.8" height="151.0" fill="#33073C"/>
<rect x="1991.5" y="110.5" width="98.8" height="1516.0" fill="none" stroke="#1c1c1c" stroke-width="3"/>
<g stroke="#1c1c1c" stroke-width="3">
<line x1="2075.3" y1="1477.3" x2="2090.3" y2="1477.3"/>
<line x1="2075.3" y1="1325.2" x2="2090.3" y2="1325.2"/>
<line x1="2075.3" y1="1173.2" x2="2090.3" y2="1173.2"/>
<line x1="2075.3" y1="1021.2" x2="2090.3" y2="1021.2"/>
<line x1="2075.3" y1="869.1" x2="2090.3" y2="869.1"/>
<line x1="2075.3" y1="717.1" x2="2090.3" y2="717.1"/>
<line x1="2075.3" y1="565.1" x2="2090.3" y2="565.1"/>
<line x1="2075.3" y1="413.1" x2="2090.3" y2="413.1"/>
<line x1="2075.3" y1="261.0" x2="2090.3" y2="261.0"/>
</g><g class="c">
<text x="2111.5" y="1649.6">2</text>
<text x="2111.5" y="1497.6">2.5</text>
<text x="2111.5" y="1345.5">3</text>
<text x="2111.5" y="1193.5">3.5</text>
<text x="2111.5" y="1041.5">4</text>
<text x="2111.5" y="889.4">4.5</text>
<text x="2111.5" y="737.4">5</text>
<text x="2111.5" y="585.4">5.5</text>
<text x="2111.5" y="433.4">6</text>
<text x="2111.5" y="281.3">6.5</text>
<text x="2111.5" y="129.3">7</text>
</g>
</svg></body></html>
